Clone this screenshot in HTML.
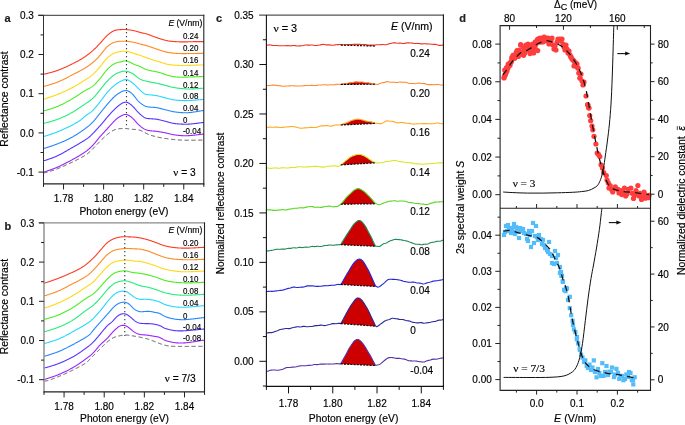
<!DOCTYPE html><html><head><meta charset="utf-8"><style>html,body{margin:0;padding:0;background:#fff;overflow:hidden;}svg{display:block;will-change:transform;}text{font-family:"Liberation Sans",sans-serif;stroke:#000;stroke-width:0.16px;}</style></head><body>
<svg width="685" height="425" viewBox="0 0 685 425">
<rect width="685" height="425" fill="#fff"/>
<path d="M43.50,74.20 L44.00,74.14 L44.50,74.06 L45.00,73.96 L45.50,73.85 L46.00,73.73 L46.50,73.60 L47.00,73.48 L47.50,73.35 L48.00,73.22 L48.50,73.09 L49.00,72.97 L49.50,72.84 L50.00,72.71 L50.50,72.58 L51.00,72.44 L51.50,72.31 L52.00,72.17 L52.50,72.04 L53.00,71.89 L53.50,71.75 L54.00,71.60 L54.50,71.45 L55.00,71.29 L55.50,71.13 L56.00,70.97 L56.50,70.80 L57.00,70.62 L57.50,70.45 L58.00,70.26 L58.50,70.08 L59.00,69.88 L59.50,69.69 L60.00,69.49 L60.50,69.29 L61.00,69.09 L61.50,68.88 L62.00,68.67 L62.50,68.46 L63.00,68.24 L63.50,68.03 L64.00,67.81 L64.50,67.59 L65.00,67.36 L65.50,67.14 L66.00,66.91 L66.50,66.68 L67.00,66.46 L67.50,66.23 L68.00,65.99 L68.50,65.76 L69.00,65.53 L69.50,65.30 L70.00,65.06 L70.50,64.83 L71.00,64.59 L71.50,64.35 L72.00,64.11 L72.50,63.87 L73.00,63.62 L73.50,63.37 L74.00,63.11 L74.50,62.85 L75.00,62.59 L75.50,62.33 L76.00,62.06 L76.50,61.79 L77.00,61.52 L77.50,61.24 L78.00,60.96 L78.50,60.68 L79.00,60.40 L79.50,60.11 L80.00,59.82 L80.50,59.53 L81.00,59.23 L81.50,58.93 L82.00,58.63 L82.50,58.32 L83.00,58.01 L83.50,57.69 L84.00,57.36 L84.50,57.03 L85.00,56.69 L85.50,56.34 L86.00,55.98 L86.50,55.62 L87.00,55.26 L87.50,54.89 L88.00,54.51 L88.50,54.13 L89.00,53.74 L89.50,53.34 L90.00,52.94 L90.50,52.53 L91.00,52.12 L91.50,51.69 L92.00,51.26 L92.50,50.83 L93.00,50.38 L93.50,49.92 L94.00,49.46 L94.50,48.99 L95.00,48.51 L95.50,48.02 L96.00,47.53 L96.50,47.03 L97.00,46.52 L97.50,46.01 L98.00,45.49 L98.50,44.97 L99.00,44.45 L99.50,43.92 L100.00,43.38 L100.50,42.84 L101.00,42.28 L101.50,41.72 L102.00,41.14 L102.50,40.56 L103.00,39.98 L103.50,39.39 L104.00,38.81 L104.50,38.24 L105.00,37.69 L105.50,37.14 L106.00,36.62 L106.50,36.12 L107.00,35.64 L107.50,35.18 L108.00,34.74 L108.50,34.32 L109.00,33.91 L109.50,33.51 L110.00,33.13 L110.50,32.77 L111.00,32.42 L111.50,32.09 L112.00,31.78 L112.50,31.49 L113.00,31.22 L113.50,30.97 L114.00,30.75 L114.50,30.55 L115.00,30.37 L115.50,30.22 L116.00,30.10 L116.50,30.00 L117.00,29.92 L117.50,29.85 L118.00,29.80 L118.50,29.76 L119.00,29.73 L119.50,29.70 L120.00,29.67 L120.50,29.64 L121.00,29.61 L121.50,29.58 L122.00,29.55 L122.50,29.53 L123.00,29.51 L123.50,29.50 L124.00,29.49 L124.50,29.49 L125.00,29.50 L125.50,29.52 L126.00,29.55 L126.50,29.58 L127.00,29.63 L127.50,29.68 L128.00,29.73 L128.50,29.79 L129.00,29.86 L129.50,29.93 L130.00,30.00 L130.50,30.08 L131.00,30.16 L131.50,30.25 L132.00,30.33 L132.50,30.42 L133.00,30.52 L133.50,30.62 L134.00,30.72 L134.50,30.82 L135.00,30.93 L135.50,31.05 L136.00,31.18 L136.50,31.31 L137.00,31.46 L137.50,31.61 L138.00,31.77 L138.50,31.93 L139.00,32.09 L139.50,32.24 L140.00,32.38 L140.50,32.51 L141.00,32.64 L141.50,32.76 L142.00,32.87 L142.50,32.98 L143.00,33.10 L143.50,33.21 L144.00,33.32 L144.50,33.43 L145.00,33.55 L145.50,33.68 L146.00,33.81 L146.50,33.95 L147.00,34.09 L147.50,34.25 L148.00,34.41 L148.50,34.58 L149.00,34.76 L149.50,34.94 L150.00,35.13 L150.50,35.32 L151.00,35.52 L151.50,35.71 L152.00,35.90 L152.50,36.10 L153.00,36.29 L153.50,36.47 L154.00,36.66 L154.50,36.84 L155.00,37.02 L155.50,37.20 L156.00,37.37 L156.50,37.55 L157.00,37.72 L157.50,37.89 L158.00,38.06 L158.50,38.23 L159.00,38.40 L159.50,38.56 L160.00,38.72 L160.50,38.88 L161.00,39.03 L161.50,39.18 L162.00,39.33 L162.50,39.48 L163.00,39.63 L163.50,39.77 L164.00,39.91 L164.50,40.04 L165.00,40.17 L165.50,40.30 L166.00,40.42 L166.50,40.54 L167.00,40.65 L167.50,40.75 L168.00,40.85 L168.50,40.93 L169.00,41.01 L169.50,41.09 L170.00,41.15 L170.50,41.21 L171.00,41.26 L171.50,41.31 L172.00,41.36 L172.50,41.40 L173.00,41.44 L173.50,41.47 L174.00,41.51 L174.50,41.55 L175.00,41.58 L175.50,41.61 L176.00,41.65 L176.50,41.68 L177.00,41.71 L177.50,41.74 L178.00,41.77 L178.50,41.79 L179.00,41.81 L179.50,41.83 L180.00,41.85 L180.50,41.87 L181.00,41.88 L181.50,41.89 L182.00,41.89 L182.50,41.89 L183.00,41.89 L183.50,41.89 L184.00,41.89 L184.50,41.88 L185.00,41.88 L185.50,41.87 L186.00,41.86 L186.50,41.85 L187.00,41.84 L187.50,41.83 L188.00,41.81 L188.50,41.80 L189.00,41.79 L189.50,41.77 L190.00,41.76 L190.50,41.74 L191.00,41.73 L191.50,41.72 L192.00,41.70 L192.50,41.69 L193.00,41.68 L193.50,41.66 L194.00,41.65 L194.50,41.64 L195.00,41.63 L195.50,41.62 L196.00,41.61 L196.50,41.60 L197.00,41.60 L197.50,41.59 L198.00,41.59 L198.50,41.59 L199.00,41.59 L199.50,41.59 L200.00,41.59 L200.50,41.59 L201.00,41.59 L201.50,41.59 L202.00,41.59 L202.50,41.60 L203.00,41.60 L203.50,41.60 L203.80,41.60" stroke="#ff3a22" stroke-width="1.10" fill="none" stroke-linejoin="round" />
<path d="M43.50,86.38 L44.00,86.31 L44.50,86.21 L45.00,86.10 L45.50,85.98 L46.00,85.84 L46.50,85.70 L47.00,85.55 L47.50,85.41 L48.00,85.26 L48.50,85.12 L49.00,84.97 L49.50,84.83 L50.00,84.68 L50.50,84.53 L51.00,84.38 L51.50,84.23 L52.00,84.07 L52.50,83.92 L53.00,83.76 L53.50,83.59 L54.00,83.43 L54.50,83.26 L55.00,83.08 L55.50,82.90 L56.00,82.71 L56.50,82.52 L57.00,82.33 L57.50,82.13 L58.00,81.92 L58.50,81.71 L59.00,81.50 L59.50,81.28 L60.00,81.06 L60.50,80.83 L61.00,80.60 L61.50,80.37 L62.00,80.13 L62.50,79.90 L63.00,79.65 L63.50,79.41 L64.00,79.17 L64.50,78.92 L65.00,78.67 L65.50,78.42 L66.00,78.17 L66.50,77.91 L67.00,77.66 L67.50,77.40 L68.00,77.15 L68.50,76.89 L69.00,76.63 L69.50,76.37 L70.00,76.12 L70.50,75.86 L71.00,75.60 L71.50,75.35 L72.00,75.09 L72.50,74.83 L73.00,74.58 L73.50,74.32 L74.00,74.06 L74.50,73.80 L75.00,73.54 L75.50,73.28 L76.00,73.02 L76.50,72.76 L77.00,72.49 L77.50,72.23 L78.00,71.96 L78.50,71.70 L79.00,71.43 L79.50,71.16 L80.00,70.88 L80.50,70.61 L81.00,70.33 L81.50,70.05 L82.00,69.77 L82.50,69.49 L83.00,69.20 L83.50,68.91 L84.00,68.62 L84.50,68.33 L85.00,68.03 L85.50,67.73 L86.00,67.42 L86.50,67.11 L87.00,66.79 L87.50,66.47 L88.00,66.14 L88.50,65.80 L89.00,65.46 L89.50,65.10 L90.00,64.74 L90.50,64.37 L91.00,63.99 L91.50,63.60 L92.00,63.20 L92.50,62.79 L93.00,62.37 L93.50,61.94 L94.00,61.50 L94.50,61.04 L95.00,60.57 L95.50,60.09 L96.00,59.60 L96.50,59.11 L97.00,58.60 L97.50,58.08 L98.00,57.56 L98.50,57.03 L99.00,56.49 L99.50,55.94 L100.00,55.37 L100.50,54.80 L101.00,54.20 L101.50,53.59 L102.00,52.96 L102.50,52.32 L103.00,51.68 L103.50,51.03 L104.00,50.39 L104.50,49.76 L105.00,49.15 L105.50,48.56 L106.00,48.00 L106.50,47.47 L107.00,46.97 L107.50,46.51 L108.00,46.07 L108.50,45.65 L109.00,45.26 L109.50,44.90 L110.00,44.55 L110.50,44.22 L111.00,43.91 L111.50,43.62 L112.00,43.35 L112.50,43.09 L113.00,42.85 L113.50,42.63 L114.00,42.42 L114.50,42.23 L115.00,42.07 L115.50,41.92 L116.00,41.79 L116.50,41.68 L117.00,41.59 L117.50,41.51 L118.00,41.44 L118.50,41.39 L119.00,41.34 L119.50,41.31 L120.00,41.27 L120.50,41.24 L121.00,41.22 L121.50,41.20 L122.00,41.18 L122.50,41.18 L123.00,41.18 L123.50,41.18 L124.00,41.19 L124.50,41.21 L125.00,41.24 L125.50,41.27 L126.00,41.30 L126.50,41.34 L127.00,41.38 L127.50,41.43 L128.00,41.48 L128.50,41.53 L129.00,41.58 L129.50,41.64 L130.00,41.70 L130.50,41.76 L131.00,41.83 L131.50,41.90 L132.00,41.98 L132.50,42.06 L133.00,42.15 L133.50,42.23 L134.00,42.33 L134.50,42.43 L135.00,42.53 L135.50,42.65 L136.00,42.78 L136.50,42.91 L137.00,43.06 L137.50,43.21 L138.00,43.37 L138.50,43.53 L139.00,43.68 L139.50,43.84 L140.00,43.98 L140.50,44.12 L141.00,44.25 L141.50,44.38 L142.00,44.50 L142.50,44.63 L143.00,44.75 L143.50,44.87 L144.00,44.99 L144.50,45.11 L145.00,45.24 L145.50,45.37 L146.00,45.50 L146.50,45.64 L147.00,45.78 L147.50,45.93 L148.00,46.09 L148.50,46.25 L149.00,46.42 L149.50,46.58 L150.00,46.76 L150.50,46.93 L151.00,47.11 L151.50,47.28 L152.00,47.46 L152.50,47.64 L153.00,47.81 L153.50,47.99 L154.00,48.16 L154.50,48.34 L155.00,48.51 L155.50,48.68 L156.00,48.86 L156.50,49.03 L157.00,49.20 L157.50,49.38 L158.00,49.55 L158.50,49.72 L159.00,49.89 L159.50,50.05 L160.00,50.21 L160.50,50.38 L161.00,50.53 L161.50,50.69 L162.00,50.84 L162.50,50.99 L163.00,51.15 L163.50,51.29 L164.00,51.44 L164.50,51.58 L165.00,51.72 L165.50,51.86 L166.00,51.99 L166.50,52.11 L167.00,52.23 L167.50,52.34 L168.00,52.44 L168.50,52.54 L169.00,52.63 L169.50,52.71 L170.00,52.78 L170.50,52.85 L171.00,52.91 L171.50,52.97 L172.00,53.02 L172.50,53.07 L173.00,53.11 L173.50,53.16 L174.00,53.20 L174.50,53.24 L175.00,53.27 L175.50,53.31 L176.00,53.35 L176.50,53.38 L177.00,53.41 L177.50,53.44 L178.00,53.47 L178.50,53.50 L179.00,53.52 L179.50,53.54 L180.00,53.55 L180.50,53.57 L181.00,53.58 L181.50,53.59 L182.00,53.59 L182.50,53.60 L183.00,53.60 L183.50,53.60 L184.00,53.60 L184.50,53.59 L185.00,53.59 L185.50,53.59 L186.00,53.58 L186.50,53.58 L187.00,53.57 L187.50,53.57 L188.00,53.56 L188.50,53.56 L189.00,53.55 L189.50,53.54 L190.00,53.54 L190.50,53.53 L191.00,53.52 L191.50,53.51 L192.00,53.51 L192.50,53.50 L193.00,53.49 L193.50,53.48 L194.00,53.47 L194.50,53.46 L195.00,53.45 L195.50,53.44 L196.00,53.43 L196.50,53.43 L197.00,53.42 L197.50,53.41 L198.00,53.40 L198.50,53.39 L199.00,53.38 L199.50,53.37 L200.00,53.36 L200.50,53.35 L201.00,53.34 L201.50,53.34 L202.00,53.33 L202.50,53.32 L203.00,53.32 L203.50,53.31 L203.80,53.31" stroke="#ff8a22" stroke-width="1.10" fill="none" stroke-linejoin="round" />
<path d="M43.50,99.05 L44.00,98.97 L44.50,98.87 L45.00,98.75 L45.50,98.61 L46.00,98.45 L46.50,98.29 L47.00,98.13 L47.50,97.96 L48.00,97.80 L48.50,97.64 L49.00,97.47 L49.50,97.31 L50.00,97.14 L50.50,96.97 L51.00,96.81 L51.50,96.64 L52.00,96.47 L52.50,96.30 L53.00,96.12 L53.50,95.95 L54.00,95.77 L54.50,95.59 L55.00,95.40 L55.50,95.21 L56.00,95.02 L56.50,94.83 L57.00,94.63 L57.50,94.43 L58.00,94.23 L58.50,94.03 L59.00,93.82 L59.50,93.62 L60.00,93.41 L60.50,93.20 L61.00,92.99 L61.50,92.77 L62.00,92.56 L62.50,92.34 L63.00,92.12 L63.50,91.90 L64.00,91.68 L64.50,91.45 L65.00,91.22 L65.50,90.99 L66.00,90.76 L66.50,90.53 L67.00,90.29 L67.50,90.05 L68.00,89.81 L68.50,89.56 L69.00,89.32 L69.50,89.07 L70.00,88.81 L70.50,88.56 L71.00,88.30 L71.50,88.04 L72.00,87.77 L72.50,87.50 L73.00,87.23 L73.50,86.96 L74.00,86.68 L74.50,86.40 L75.00,86.12 L75.50,85.83 L76.00,85.54 L76.50,85.25 L77.00,84.96 L77.50,84.67 L78.00,84.37 L78.50,84.07 L79.00,83.77 L79.50,83.47 L80.00,83.16 L80.50,82.86 L81.00,82.55 L81.50,82.24 L82.00,81.93 L82.50,81.62 L83.00,81.31 L83.50,81.00 L84.00,80.68 L84.50,80.37 L85.00,80.05 L85.50,79.74 L86.00,79.42 L86.50,79.10 L87.00,78.78 L87.50,78.46 L88.00,78.14 L88.50,77.81 L89.00,77.47 L89.50,77.12 L90.00,76.77 L90.50,76.40 L91.00,76.02 L91.50,75.63 L92.00,75.22 L92.50,74.80 L93.00,74.35 L93.50,73.89 L94.00,73.41 L94.50,72.91 L95.00,72.40 L95.50,71.86 L96.00,71.32 L96.50,70.76 L97.00,70.20 L97.50,69.63 L98.00,69.05 L98.50,68.47 L99.00,67.88 L99.50,67.29 L100.00,66.70 L100.50,66.10 L101.00,65.49 L101.50,64.86 L102.00,64.23 L102.50,63.60 L103.00,62.95 L103.50,62.31 L104.00,61.68 L104.50,61.06 L105.00,60.45 L105.50,59.87 L106.00,59.31 L106.50,58.77 L107.00,58.27 L107.50,57.79 L108.00,57.33 L108.50,56.90 L109.00,56.49 L109.50,56.10 L110.00,55.73 L110.50,55.37 L111.00,55.03 L111.50,54.71 L112.00,54.41 L112.50,54.12 L113.00,53.84 L113.50,53.58 L114.00,53.33 L114.50,53.10 L115.00,52.89 L115.50,52.70 L116.00,52.52 L116.50,52.36 L117.00,52.22 L117.50,52.08 L118.00,51.97 L118.50,51.86 L119.00,51.76 L119.50,51.67 L120.00,51.59 L120.50,51.51 L121.00,51.44 L121.50,51.38 L122.00,51.32 L122.50,51.28 L123.00,51.24 L123.50,51.22 L124.00,51.21 L124.50,51.21 L125.00,51.23 L125.50,51.26 L126.00,51.31 L126.50,51.37 L127.00,51.45 L127.50,51.55 L128.00,51.65 L128.50,51.77 L129.00,51.90 L129.50,52.03 L130.00,52.18 L130.50,52.33 L131.00,52.48 L131.50,52.64 L132.00,52.80 L132.50,52.97 L133.00,53.13 L133.50,53.29 L134.00,53.45 L134.50,53.61 L135.00,53.77 L135.50,53.92 L136.00,54.07 L136.50,54.22 L137.00,54.37 L137.50,54.52 L138.00,54.67 L138.50,54.83 L139.00,54.98 L139.50,55.14 L140.00,55.31 L140.50,55.48 L141.00,55.66 L141.50,55.84 L142.00,56.02 L142.50,56.20 L143.00,56.39 L143.50,56.57 L144.00,56.76 L144.50,56.94 L145.00,57.13 L145.50,57.31 L146.00,57.50 L146.50,57.68 L147.00,57.86 L147.50,58.04 L148.00,58.22 L148.50,58.39 L149.00,58.57 L149.50,58.75 L150.00,58.92 L150.50,59.09 L151.00,59.27 L151.50,59.44 L152.00,59.61 L152.50,59.77 L153.00,59.94 L153.50,60.10 L154.00,60.26 L154.50,60.42 L155.00,60.58 L155.50,60.73 L156.00,60.88 L156.50,61.03 L157.00,61.18 L157.50,61.32 L158.00,61.47 L158.50,61.61 L159.00,61.76 L159.50,61.90 L160.00,62.05 L160.50,62.20 L161.00,62.35 L161.50,62.50 L162.00,62.66 L162.50,62.82 L163.00,62.98 L163.50,63.14 L164.00,63.30 L164.50,63.46 L165.00,63.62 L165.50,63.78 L166.00,63.93 L166.50,64.07 L167.00,64.20 L167.50,64.32 L168.00,64.43 L168.50,64.53 L169.00,64.62 L169.50,64.70 L170.00,64.77 L170.50,64.83 L171.00,64.88 L171.50,64.93 L172.00,64.97 L172.50,65.01 L173.00,65.05 L173.50,65.08 L174.00,65.12 L174.50,65.15 L175.00,65.18 L175.50,65.21 L176.00,65.25 L176.50,65.28 L177.00,65.31 L177.50,65.34 L178.00,65.37 L178.50,65.40 L179.00,65.42 L179.50,65.44 L180.00,65.46 L180.50,65.47 L181.00,65.48 L181.50,65.49 L182.00,65.49 L182.50,65.49 L183.00,65.49 L183.50,65.48 L184.00,65.48 L184.50,65.47 L185.00,65.46 L185.50,65.45 L186.00,65.44 L186.50,65.43 L187.00,65.42 L187.50,65.41 L188.00,65.40 L188.50,65.38 L189.00,65.37 L189.50,65.36 L190.00,65.34 L190.50,65.33 L191.00,65.31 L191.50,65.30 L192.00,65.28 L192.50,65.27 L193.00,65.25 L193.50,65.23 L194.00,65.22 L194.50,65.20 L195.00,65.18 L195.50,65.17 L196.00,65.15 L196.50,65.13 L197.00,65.12 L197.50,65.10 L198.00,65.08 L198.50,65.07 L199.00,65.05 L199.50,65.03 L200.00,65.02 L200.50,65.00 L201.00,64.98 L201.50,64.97 L202.00,64.96 L202.50,64.94 L203.00,64.93 L203.50,64.92 L203.80,64.92" stroke="#ffd814" stroke-width="1.10" fill="none" stroke-linejoin="round" />
<path d="M43.50,110.87 L44.00,110.79 L44.50,110.70 L45.00,110.58 L45.50,110.45 L46.00,110.30 L46.50,110.16 L47.00,110.00 L47.50,109.85 L48.00,109.70 L48.50,109.55 L49.00,109.39 L49.50,109.24 L50.00,109.09 L50.50,108.93 L51.00,108.78 L51.50,108.62 L52.00,108.46 L52.50,108.29 L53.00,108.12 L53.50,107.95 L54.00,107.78 L54.50,107.60 L55.00,107.42 L55.50,107.23 L56.00,107.03 L56.50,106.83 L57.00,106.63 L57.50,106.42 L58.00,106.21 L58.50,105.99 L59.00,105.77 L59.50,105.55 L60.00,105.32 L60.50,105.09 L61.00,104.86 L61.50,104.62 L62.00,104.38 L62.50,104.14 L63.00,103.89 L63.50,103.64 L64.00,103.39 L64.50,103.14 L65.00,102.88 L65.50,102.62 L66.00,102.36 L66.50,102.09 L67.00,101.83 L67.50,101.56 L68.00,101.29 L68.50,101.01 L69.00,100.74 L69.50,100.46 L70.00,100.18 L70.50,99.89 L71.00,99.61 L71.50,99.32 L72.00,99.02 L72.50,98.73 L73.00,98.43 L73.50,98.12 L74.00,97.81 L74.50,97.50 L75.00,97.18 L75.50,96.86 L76.00,96.54 L76.50,96.21 L77.00,95.89 L77.50,95.56 L78.00,95.23 L78.50,94.90 L79.00,94.57 L79.50,94.24 L80.00,93.90 L80.50,93.57 L81.00,93.24 L81.50,92.91 L82.00,92.58 L82.50,92.26 L83.00,91.93 L83.50,91.61 L84.00,91.29 L84.50,90.97 L85.00,90.67 L85.50,90.36 L86.00,90.07 L86.50,89.79 L87.00,89.52 L87.50,89.25 L88.00,88.99 L88.50,88.73 L89.00,88.47 L89.50,88.21 L90.00,87.93 L90.50,87.65 L91.00,87.35 L91.50,87.03 L92.00,86.69 L92.50,86.33 L93.00,85.94 L93.50,85.52 L94.00,85.08 L94.50,84.62 L95.00,84.14 L95.50,83.64 L96.00,83.12 L96.50,82.59 L97.00,82.04 L97.50,81.49 L98.00,80.92 L98.50,80.35 L99.00,79.77 L99.50,79.18 L100.00,78.59 L100.50,77.98 L101.00,77.36 L101.50,76.73 L102.00,76.08 L102.50,75.42 L103.00,74.76 L103.50,74.09 L104.00,73.42 L104.50,72.77 L105.00,72.13 L105.50,71.50 L106.00,70.90 L106.50,70.32 L107.00,69.77 L107.50,69.23 L108.00,68.72 L108.50,68.23 L109.00,67.76 L109.50,67.30 L110.00,66.86 L110.50,66.44 L111.00,66.03 L111.50,65.64 L112.00,65.27 L112.50,64.91 L113.00,64.58 L113.50,64.26 L114.00,63.97 L114.50,63.70 L115.00,63.45 L115.50,63.23 L116.00,63.03 L116.50,62.85 L117.00,62.69 L117.50,62.54 L118.00,62.41 L118.50,62.29 L119.00,62.17 L119.50,62.06 L120.00,61.95 L120.50,61.84 L121.00,61.73 L121.50,61.62 L122.00,61.50 L122.50,61.38 L123.00,61.27 L123.50,61.16 L124.00,61.08 L124.50,61.01 L125.00,60.98 L125.50,60.98 L126.00,61.01 L126.50,61.09 L127.00,61.19 L127.50,61.33 L128.00,61.49 L128.50,61.68 L129.00,61.88 L129.50,62.09 L130.00,62.32 L130.50,62.56 L131.00,62.80 L131.50,63.05 L132.00,63.30 L132.50,63.55 L133.00,63.79 L133.50,64.03 L134.00,64.27 L134.50,64.49 L135.00,64.70 L135.50,64.89 L136.00,65.07 L136.50,65.23 L137.00,65.38 L137.50,65.53 L138.00,65.67 L138.50,65.82 L139.00,65.98 L139.50,66.17 L140.00,66.38 L140.50,66.61 L141.00,66.87 L141.50,67.15 L142.00,67.44 L142.50,67.73 L143.00,68.02 L143.50,68.29 L144.00,68.55 L144.50,68.78 L145.00,69.00 L145.50,69.20 L146.00,69.39 L146.50,69.57 L147.00,69.74 L147.50,69.90 L148.00,70.05 L148.50,70.20 L149.00,70.34 L149.50,70.47 L150.00,70.59 L150.50,70.70 L151.00,70.80 L151.50,70.89 L152.00,70.97 L152.50,71.05 L153.00,71.13 L153.50,71.21 L154.00,71.30 L154.50,71.40 L155.00,71.50 L155.50,71.60 L156.00,71.71 L156.50,71.82 L157.00,71.93 L157.50,72.05 L158.00,72.16 L158.50,72.28 L159.00,72.41 L159.50,72.54 L160.00,72.67 L160.50,72.81 L161.00,72.96 L161.50,73.11 L162.00,73.28 L162.50,73.45 L163.00,73.63 L163.50,73.81 L164.00,74.00 L164.50,74.19 L165.00,74.38 L165.50,74.57 L166.00,74.75 L166.50,74.93 L167.00,75.10 L167.50,75.27 L168.00,75.42 L168.50,75.56 L169.00,75.70 L169.50,75.83 L170.00,75.95 L170.50,76.06 L171.00,76.17 L171.50,76.28 L172.00,76.37 L172.50,76.47 L173.00,76.56 L173.50,76.64 L174.00,76.71 L174.50,76.78 L175.00,76.85 L175.50,76.91 L176.00,76.96 L176.50,77.01 L177.00,77.05 L177.50,77.09 L178.00,77.12 L178.50,77.14 L179.00,77.16 L179.50,77.18 L180.00,77.19 L180.50,77.20 L181.00,77.20 L181.50,77.20 L182.00,77.20 L182.50,77.19 L183.00,77.19 L183.50,77.18 L184.00,77.17 L184.50,77.16 L185.00,77.15 L185.50,77.14 L186.00,77.13 L186.50,77.11 L187.00,77.10 L187.50,77.09 L188.00,77.07 L188.50,77.06 L189.00,77.04 L189.50,77.03 L190.00,77.01 L190.50,76.99 L191.00,76.98 L191.50,76.96 L192.00,76.94 L192.50,76.92 L193.00,76.90 L193.50,76.88 L194.00,76.87 L194.50,76.85 L195.00,76.83 L195.50,76.81 L196.00,76.79 L196.50,76.77 L197.00,76.75 L197.50,76.73 L198.00,76.71 L198.50,76.69 L199.00,76.67 L199.50,76.65 L200.00,76.64 L200.50,76.62 L201.00,76.60 L201.50,76.58 L202.00,76.56 L202.50,76.55 L203.00,76.54 L203.50,76.53 L203.80,76.52" stroke="#4cee22" stroke-width="1.10" fill="none" stroke-linejoin="round" />
<path d="M43.50,123.29 L44.00,123.23 L44.50,123.14 L45.00,123.04 L45.50,122.92 L46.00,122.80 L46.50,122.66 L47.00,122.53 L47.50,122.39 L48.00,122.26 L48.50,122.13 L49.00,121.99 L49.50,121.86 L50.00,121.72 L50.50,121.59 L51.00,121.45 L51.50,121.31 L52.00,121.16 L52.50,121.02 L53.00,120.87 L53.50,120.72 L54.00,120.56 L54.50,120.40 L55.00,120.23 L55.50,120.06 L56.00,119.89 L56.50,119.71 L57.00,119.53 L57.50,119.34 L58.00,119.15 L58.50,118.95 L59.00,118.76 L59.50,118.55 L60.00,118.35 L60.50,118.14 L61.00,117.94 L61.50,117.72 L62.00,117.51 L62.50,117.29 L63.00,117.07 L63.50,116.85 L64.00,116.62 L64.50,116.39 L65.00,116.16 L65.50,115.92 L66.00,115.68 L66.50,115.44 L67.00,115.19 L67.50,114.95 L68.00,114.69 L68.50,114.44 L69.00,114.18 L69.50,113.91 L70.00,113.65 L70.50,113.38 L71.00,113.10 L71.50,112.82 L72.00,112.54 L72.50,112.25 L73.00,111.96 L73.50,111.66 L74.00,111.36 L74.50,111.05 L75.00,110.74 L75.50,110.43 L76.00,110.11 L76.50,109.79 L77.00,109.47 L77.50,109.14 L78.00,108.81 L78.50,108.48 L79.00,108.15 L79.50,107.81 L80.00,107.48 L80.50,107.14 L81.00,106.80 L81.50,106.46 L82.00,106.12 L82.50,105.78 L83.00,105.44 L83.50,105.10 L84.00,104.76 L84.50,104.42 L85.00,104.08 L85.50,103.74 L86.00,103.40 L86.50,103.07 L87.00,102.74 L87.50,102.40 L88.00,102.07 L88.50,101.73 L89.00,101.38 L89.50,101.02 L90.00,100.66 L90.50,100.28 L91.00,99.89 L91.50,99.48 L92.00,99.06 L92.50,98.61 L93.00,98.14 L93.50,97.65 L94.00,97.13 L94.50,96.59 L95.00,96.03 L95.50,95.46 L96.00,94.86 L96.50,94.26 L97.00,93.65 L97.50,93.03 L98.00,92.40 L98.50,91.78 L99.00,91.16 L99.50,90.54 L100.00,89.92 L100.50,89.31 L101.00,88.69 L101.50,88.07 L102.00,87.44 L102.50,86.82 L103.00,86.19 L103.50,85.56 L104.00,84.94 L104.50,84.33 L105.00,83.72 L105.50,83.13 L106.00,82.55 L106.50,81.99 L107.00,81.44 L107.50,80.91 L108.00,80.38 L108.50,79.87 L109.00,79.37 L109.50,78.88 L110.00,78.40 L110.50,77.94 L111.00,77.48 L111.50,77.04 L112.00,76.62 L112.50,76.21 L113.00,75.81 L113.50,75.44 L114.00,75.08 L114.50,74.75 L115.00,74.43 L115.50,74.13 L116.00,73.84 L116.50,73.58 L117.00,73.33 L117.50,73.10 L118.00,72.87 L118.50,72.67 L119.00,72.47 L119.50,72.28 L120.00,72.11 L120.50,71.94 L121.00,71.79 L121.50,71.64 L122.00,71.51 L122.50,71.40 L123.00,71.31 L123.50,71.24 L124.00,71.19 L124.50,71.16 L125.00,71.16 L125.50,71.18 L126.00,71.23 L126.50,71.30 L127.00,71.39 L127.50,71.50 L128.00,71.63 L128.50,71.78 L129.00,71.94 L129.50,72.12 L130.00,72.31 L130.50,72.53 L131.00,72.76 L131.50,73.00 L132.00,73.27 L132.50,73.56 L133.00,73.87 L133.50,74.20 L134.00,74.56 L134.50,74.94 L135.00,75.33 L135.50,75.73 L136.00,76.14 L136.50,76.55 L137.00,76.96 L137.50,77.36 L138.00,77.74 L138.50,78.10 L139.00,78.44 L139.50,78.75 L140.00,79.03 L140.50,79.29 L141.00,79.53 L141.50,79.74 L142.00,79.94 L142.50,80.11 L143.00,80.28 L143.50,80.43 L144.00,80.58 L144.50,80.71 L145.00,80.84 L145.50,80.96 L146.00,81.08 L146.50,81.20 L147.00,81.32 L147.50,81.43 L148.00,81.55 L148.50,81.66 L149.00,81.78 L149.50,81.89 L150.00,81.99 L150.50,82.09 L151.00,82.18 L151.50,82.28 L152.00,82.37 L152.50,82.46 L153.00,82.54 L153.50,82.63 L154.00,82.72 L154.50,82.81 L155.00,82.91 L155.50,83.00 L156.00,83.10 L156.50,83.21 L157.00,83.32 L157.50,83.43 L158.00,83.54 L158.50,83.66 L159.00,83.78 L159.50,83.90 L160.00,84.02 L160.50,84.14 L161.00,84.26 L161.50,84.39 L162.00,84.51 L162.50,84.64 L163.00,84.77 L163.50,84.90 L164.00,85.02 L164.50,85.15 L165.00,85.28 L165.50,85.42 L166.00,85.55 L166.50,85.69 L167.00,85.83 L167.50,85.97 L168.00,86.11 L168.50,86.25 L169.00,86.39 L169.50,86.53 L170.00,86.67 L170.50,86.80 L171.00,86.93 L171.50,87.05 L172.00,87.17 L172.50,87.28 L173.00,87.38 L173.50,87.48 L174.00,87.58 L174.50,87.66 L175.00,87.75 L175.50,87.82 L176.00,87.90 L176.50,87.97 L177.00,88.03 L177.50,88.10 L178.00,88.16 L178.50,88.22 L179.00,88.27 L179.50,88.33 L180.00,88.38 L180.50,88.43 L181.00,88.48 L181.50,88.53 L182.00,88.58 L182.50,88.62 L183.00,88.67 L183.50,88.71 L184.00,88.76 L184.50,88.80 L185.00,88.83 L185.50,88.87 L186.00,88.90 L186.50,88.93 L187.00,88.95 L187.50,88.97 L188.00,88.98 L188.50,88.99 L189.00,88.99 L189.50,88.99 L190.00,88.98 L190.50,88.97 L191.00,88.96 L191.50,88.94 L192.00,88.92 L192.50,88.90 L193.00,88.88 L193.50,88.86 L194.00,88.83 L194.50,88.80 L195.00,88.77 L195.50,88.74 L196.00,88.71 L196.50,88.68 L197.00,88.65 L197.50,88.61 L198.00,88.58 L198.50,88.55 L199.00,88.51 L199.50,88.48 L200.00,88.44 L200.50,88.41 L201.00,88.38 L201.50,88.34 L202.00,88.31 L202.50,88.29 L203.00,88.27 L203.50,88.25 L203.80,88.23" stroke="#22ee7a" stroke-width="1.10" fill="none" stroke-linejoin="round" />
<path d="M43.50,136.45 L44.00,136.37 L44.50,136.27 L45.00,136.15 L45.50,136.01 L46.00,135.85 L46.50,135.69 L47.00,135.53 L47.50,135.36 L48.00,135.20 L48.50,135.04 L49.00,134.87 L49.50,134.71 L50.00,134.54 L50.50,134.37 L51.00,134.21 L51.50,134.04 L52.00,133.87 L52.50,133.70 L53.00,133.52 L53.50,133.35 L54.00,133.17 L54.50,132.99 L55.00,132.80 L55.50,132.61 L56.00,132.42 L56.50,132.23 L57.00,132.03 L57.50,131.83 L58.00,131.63 L58.50,131.43 L59.00,131.22 L59.50,131.01 L60.00,130.80 L60.50,130.58 L61.00,130.37 L61.50,130.15 L62.00,129.93 L62.50,129.71 L63.00,129.49 L63.50,129.27 L64.00,129.04 L64.50,128.81 L65.00,128.58 L65.50,128.35 L66.00,128.12 L66.50,127.88 L67.00,127.64 L67.50,127.41 L68.00,127.17 L68.50,126.93 L69.00,126.68 L69.50,126.44 L70.00,126.19 L70.50,125.94 L71.00,125.70 L71.50,125.44 L72.00,125.19 L72.50,124.93 L73.00,124.67 L73.50,124.41 L74.00,124.14 L74.50,123.86 L75.00,123.59 L75.50,123.30 L76.00,123.01 L76.50,122.72 L77.00,122.42 L77.50,122.11 L78.00,121.80 L78.50,121.48 L79.00,121.15 L79.50,120.81 L80.00,120.45 L80.50,120.08 L81.00,119.70 L81.50,119.30 L82.00,118.89 L82.50,118.47 L83.00,118.04 L83.50,117.61 L84.00,117.18 L84.50,116.76 L85.00,116.34 L85.50,115.93 L86.00,115.54 L86.50,115.16 L87.00,114.79 L87.50,114.43 L88.00,114.08 L88.50,113.74 L89.00,113.39 L89.50,113.05 L90.00,112.70 L90.50,112.34 L91.00,111.96 L91.50,111.56 L92.00,111.14 L92.50,110.70 L93.00,110.23 L93.50,109.74 L94.00,109.22 L94.50,108.68 L95.00,108.12 L95.50,107.54 L96.00,106.95 L96.50,106.34 L97.00,105.72 L97.50,105.10 L98.00,104.47 L98.50,103.83 L99.00,103.20 L99.50,102.56 L100.00,101.92 L100.50,101.27 L101.00,100.62 L101.50,99.96 L102.00,99.29 L102.50,98.61 L103.00,97.93 L103.50,97.26 L104.00,96.58 L104.50,95.91 L105.00,95.25 L105.50,94.61 L106.00,93.97 L106.50,93.36 L107.00,92.76 L107.50,92.17 L108.00,91.60 L108.50,91.05 L109.00,90.50 L109.50,89.97 L110.00,89.44 L110.50,88.93 L111.00,88.43 L111.50,87.95 L112.00,87.47 L112.50,87.01 L113.00,86.56 L113.50,86.12 L114.00,85.70 L114.50,85.29 L115.00,84.89 L115.50,84.50 L116.00,84.13 L116.50,83.77 L117.00,83.43 L117.50,83.10 L118.00,82.78 L118.50,82.47 L119.00,82.17 L119.50,81.89 L120.00,81.62 L120.50,81.36 L121.00,81.11 L121.50,80.88 L122.00,80.65 L122.50,80.43 L123.00,80.23 L123.50,80.04 L124.00,79.88 L124.50,79.75 L125.00,79.66 L125.50,79.61 L126.00,79.61 L126.50,79.65 L127.00,79.74 L127.50,79.87 L128.00,80.05 L128.50,80.27 L129.00,80.52 L129.50,80.80 L130.00,81.10 L130.50,81.43 L131.00,81.78 L131.50,82.14 L132.00,82.52 L132.50,82.91 L133.00,83.31 L133.50,83.72 L134.00,84.15 L134.50,84.59 L135.00,85.05 L135.50,85.54 L136.00,86.05 L136.50,86.57 L137.00,87.10 L137.50,87.63 L138.00,88.16 L138.50,88.68 L139.00,89.18 L139.50,89.67 L140.00,90.15 L140.50,90.61 L141.00,91.06 L141.50,91.50 L142.00,91.93 L142.50,92.33 L143.00,92.72 L143.50,93.08 L144.00,93.40 L144.50,93.69 L145.00,93.94 L145.50,94.14 L146.00,94.30 L146.50,94.43 L147.00,94.52 L147.50,94.59 L148.00,94.64 L148.50,94.69 L149.00,94.73 L149.50,94.77 L150.00,94.82 L150.50,94.88 L151.00,94.93 L151.50,94.98 L152.00,95.03 L152.50,95.08 L153.00,95.14 L153.50,95.19 L154.00,95.25 L154.50,95.31 L155.00,95.37 L155.50,95.45 L156.00,95.53 L156.50,95.62 L157.00,95.72 L157.50,95.83 L158.00,95.94 L158.50,96.06 L159.00,96.18 L159.50,96.31 L160.00,96.44 L160.50,96.57 L161.00,96.71 L161.50,96.84 L162.00,96.98 L162.50,97.12 L163.00,97.25 L163.50,97.38 L164.00,97.52 L164.50,97.65 L165.00,97.78 L165.50,97.91 L166.00,98.04 L166.50,98.17 L167.00,98.30 L167.50,98.43 L168.00,98.56 L168.50,98.69 L169.00,98.81 L169.50,98.94 L170.00,99.06 L170.50,99.18 L171.00,99.29 L171.50,99.40 L172.00,99.50 L172.50,99.60 L173.00,99.68 L173.50,99.77 L174.00,99.85 L174.50,99.92 L175.00,99.98 L175.50,100.05 L176.00,100.10 L176.50,100.16 L177.00,100.21 L177.50,100.25 L178.00,100.29 L178.50,100.33 L179.00,100.37 L179.50,100.40 L180.00,100.43 L180.50,100.46 L181.00,100.48 L181.50,100.51 L182.00,100.53 L182.50,100.55 L183.00,100.56 L183.50,100.57 L184.00,100.58 L184.50,100.59 L185.00,100.59 L185.50,100.59 L186.00,100.59 L186.50,100.58 L187.00,100.58 L187.50,100.56 L188.00,100.55 L188.50,100.53 L189.00,100.51 L189.50,100.49 L190.00,100.46 L190.50,100.44 L191.00,100.41 L191.50,100.38 L192.00,100.35 L192.50,100.31 L193.00,100.28 L193.50,100.24 L194.00,100.21 L194.50,100.17 L195.00,100.13 L195.50,100.09 L196.00,100.05 L196.50,100.01 L197.00,99.97 L197.50,99.92 L198.00,99.88 L198.50,99.84 L199.00,99.80 L199.50,99.75 L200.00,99.71 L200.50,99.67 L201.00,99.63 L201.50,99.59 L202.00,99.55 L202.50,99.51 L203.00,99.49 L203.50,99.46 L203.80,99.45" stroke="#22d8ff" stroke-width="1.10" fill="none" stroke-linejoin="round" />
<path d="M43.50,148.45 L44.00,148.37 L44.50,148.27 L45.00,148.15 L45.50,148.01 L46.00,147.85 L46.50,147.69 L47.00,147.53 L47.50,147.36 L48.00,147.20 L48.50,147.03 L49.00,146.87 L49.50,146.70 L50.00,146.54 L50.50,146.37 L51.00,146.20 L51.50,146.03 L52.00,145.86 L52.50,145.69 L53.00,145.52 L53.50,145.34 L54.00,145.16 L54.50,144.98 L55.00,144.80 L55.50,144.61 L56.00,144.42 L56.50,144.23 L57.00,144.03 L57.50,143.84 L58.00,143.64 L58.50,143.44 L59.00,143.24 L59.50,143.04 L60.00,142.84 L60.50,142.64 L61.00,142.43 L61.50,142.23 L62.00,142.02 L62.50,141.81 L63.00,141.60 L63.50,141.39 L64.00,141.17 L64.50,140.96 L65.00,140.74 L65.50,140.51 L66.00,140.28 L66.50,140.05 L67.00,139.82 L67.50,139.58 L68.00,139.34 L68.50,139.10 L69.00,138.84 L69.50,138.59 L70.00,138.33 L70.50,138.07 L71.00,137.80 L71.50,137.52 L72.00,137.25 L72.50,136.96 L73.00,136.68 L73.50,136.38 L74.00,136.09 L74.50,135.79 L75.00,135.49 L75.50,135.18 L76.00,134.87 L76.50,134.56 L77.00,134.24 L77.50,133.92 L78.00,133.59 L78.50,133.27 L79.00,132.94 L79.50,132.61 L80.00,132.27 L80.50,131.93 L81.00,131.59 L81.50,131.25 L82.00,130.90 L82.50,130.55 L83.00,130.20 L83.50,129.85 L84.00,129.50 L84.50,129.14 L85.00,128.78 L85.50,128.42 L86.00,128.05 L86.50,127.68 L87.00,127.30 L87.50,126.91 L88.00,126.52 L88.50,126.12 L89.00,125.70 L89.50,125.28 L90.00,124.85 L90.50,124.40 L91.00,123.94 L91.50,123.47 L92.00,122.98 L92.50,122.47 L93.00,121.95 L93.50,121.41 L94.00,120.84 L94.50,120.26 L95.00,119.66 L95.50,119.04 L96.00,118.41 L96.50,117.76 L97.00,117.12 L97.50,116.46 L98.00,115.81 L98.50,115.16 L99.00,114.51 L99.50,113.87 L100.00,113.24 L100.50,112.61 L101.00,111.99 L101.50,111.37 L102.00,110.75 L102.50,110.14 L103.00,109.52 L103.50,108.91 L104.00,108.30 L104.50,107.69 L105.00,107.09 L105.50,106.49 L106.00,105.90 L106.50,105.31 L107.00,104.72 L107.50,104.13 L108.00,103.55 L108.50,102.97 L109.00,102.39 L109.50,101.81 L110.00,101.23 L110.50,100.66 L111.00,100.10 L111.50,99.55 L112.00,99.02 L112.50,98.49 L113.00,97.99 L113.50,97.50 L114.00,97.03 L114.50,96.57 L115.00,96.13 L115.50,95.71 L116.00,95.30 L116.50,94.91 L117.00,94.53 L117.50,94.17 L118.00,93.82 L118.50,93.49 L119.00,93.17 L119.50,92.86 L120.00,92.57 L120.50,92.29 L121.00,92.03 L121.50,91.78 L122.00,91.55 L122.50,91.33 L123.00,91.13 L123.50,90.95 L124.00,90.80 L124.50,90.68 L125.00,90.59 L125.50,90.53 L126.00,90.52 L126.50,90.55 L127.00,90.63 L127.50,90.76 L128.00,90.92 L128.50,91.14 L129.00,91.39 L129.50,91.68 L130.00,92.00 L130.50,92.36 L131.00,92.75 L131.50,93.16 L132.00,93.61 L132.50,94.10 L133.00,94.62 L133.50,95.18 L134.00,95.78 L134.50,96.41 L135.00,97.07 L135.50,97.73 L136.00,98.39 L136.50,99.04 L137.00,99.66 L137.50,100.25 L138.00,100.80 L138.50,101.31 L139.00,101.79 L139.50,102.25 L140.00,102.68 L140.50,103.09 L141.00,103.48 L141.50,103.85 L142.00,104.21 L142.50,104.55 L143.00,104.88 L143.50,105.18 L144.00,105.47 L144.50,105.74 L145.00,105.98 L145.50,106.19 L146.00,106.37 L146.50,106.53 L147.00,106.66 L147.50,106.76 L148.00,106.85 L148.50,106.92 L149.00,106.99 L149.50,107.05 L150.00,107.10 L150.50,107.15 L151.00,107.20 L151.50,107.23 L152.00,107.27 L152.50,107.29 L153.00,107.32 L153.50,107.34 L154.00,107.37 L154.50,107.40 L155.00,107.44 L155.50,107.49 L156.00,107.56 L156.50,107.63 L157.00,107.71 L157.50,107.81 L158.00,107.91 L158.50,108.02 L159.00,108.13 L159.50,108.25 L160.00,108.38 L160.50,108.50 L161.00,108.63 L161.50,108.77 L162.00,108.90 L162.50,109.03 L163.00,109.16 L163.50,109.29 L164.00,109.42 L164.50,109.55 L165.00,109.67 L165.50,109.80 L166.00,109.93 L166.50,110.06 L167.00,110.18 L167.50,110.31 L168.00,110.44 L168.50,110.57 L169.00,110.70 L169.50,110.82 L170.00,110.94 L170.50,111.06 L171.00,111.18 L171.50,111.29 L172.00,111.39 L172.50,111.49 L173.00,111.59 L173.50,111.68 L174.00,111.77 L174.50,111.85 L175.00,111.93 L175.50,112.00 L176.00,112.07 L176.50,112.14 L177.00,112.20 L177.50,112.26 L178.00,112.32 L178.50,112.37 L179.00,112.42 L179.50,112.47 L180.00,112.51 L180.50,112.55 L181.00,112.58 L181.50,112.61 L182.00,112.64 L182.50,112.67 L183.00,112.69 L183.50,112.71 L184.00,112.73 L184.50,112.74 L185.00,112.75 L185.50,112.75 L186.00,112.75 L186.50,112.74 L187.00,112.73 L187.50,112.71 L188.00,112.69 L188.50,112.66 L189.00,112.62 L189.50,112.58 L190.00,112.53 L190.50,112.48 L191.00,112.42 L191.50,112.36 L192.00,112.29 L192.50,112.23 L193.00,112.16 L193.50,112.08 L194.00,112.01 L194.50,111.93 L195.00,111.86 L195.50,111.78 L196.00,111.70 L196.50,111.61 L197.00,111.53 L197.50,111.45 L198.00,111.36 L198.50,111.28 L199.00,111.19 L199.50,111.11 L200.00,111.02 L200.50,110.94 L201.00,110.85 L201.50,110.77 L202.00,110.70 L202.50,110.63 L203.00,110.57 L203.50,110.53 L203.80,110.49" stroke="#2288ff" stroke-width="1.10" fill="none" stroke-linejoin="round" />
<path d="M43.50,160.74 L44.00,160.66 L44.50,160.55 L45.00,160.42 L45.50,160.28 L46.00,160.12 L46.50,159.95 L47.00,159.78 L47.50,159.61 L48.00,159.44 L48.50,159.27 L49.00,159.10 L49.50,158.93 L50.00,158.76 L50.50,158.59 L51.00,158.41 L51.50,158.24 L52.00,158.06 L52.50,157.87 L53.00,157.69 L53.50,157.50 L54.00,157.30 L54.50,157.10 L55.00,156.90 L55.50,156.69 L56.00,156.48 L56.50,156.26 L57.00,156.03 L57.50,155.80 L58.00,155.56 L58.50,155.32 L59.00,155.07 L59.50,154.82 L60.00,154.56 L60.50,154.30 L61.00,154.03 L61.50,153.77 L62.00,153.49 L62.50,153.22 L63.00,152.94 L63.50,152.66 L64.00,152.38 L64.50,152.09 L65.00,151.80 L65.50,151.51 L66.00,151.22 L66.50,150.93 L67.00,150.64 L67.50,150.35 L68.00,150.06 L68.50,149.77 L69.00,149.48 L69.50,149.18 L70.00,148.89 L70.50,148.61 L71.00,148.32 L71.50,148.03 L72.00,147.74 L72.50,147.46 L73.00,147.17 L73.50,146.88 L74.00,146.59 L74.50,146.31 L75.00,146.02 L75.50,145.73 L76.00,145.44 L76.50,145.15 L77.00,144.86 L77.50,144.56 L78.00,144.27 L78.50,143.98 L79.00,143.68 L79.50,143.39 L80.00,143.09 L80.50,142.79 L81.00,142.49 L81.50,142.19 L82.00,141.89 L82.50,141.59 L83.00,141.28 L83.50,140.98 L84.00,140.67 L84.50,140.36 L85.00,140.04 L85.50,139.72 L86.00,139.40 L86.50,139.07 L87.00,138.72 L87.50,138.37 L88.00,138.00 L88.50,137.62 L89.00,137.21 L89.50,136.79 L90.00,136.35 L90.50,135.90 L91.00,135.42 L91.50,134.94 L92.00,134.43 L92.50,133.92 L93.00,133.40 L93.50,132.87 L94.00,132.34 L94.50,131.81 L95.00,131.27 L95.50,130.73 L96.00,130.19 L96.50,129.66 L97.00,129.12 L97.50,128.58 L98.00,128.03 L98.50,127.49 L99.00,126.94 L99.50,126.39 L100.00,125.83 L100.50,125.27 L101.00,124.70 L101.50,124.13 L102.00,123.55 L102.50,122.96 L103.00,122.36 L103.50,121.76 L104.00,121.15 L104.50,120.54 L105.00,119.93 L105.50,119.32 L106.00,118.72 L106.50,118.12 L107.00,117.52 L107.50,116.93 L108.00,116.35 L108.50,115.77 L109.00,115.20 L109.50,114.63 L110.00,114.07 L110.50,113.51 L111.00,112.96 L111.50,112.41 L112.00,111.88 L112.50,111.35 L113.00,110.83 L113.50,110.32 L114.00,109.82 L114.50,109.33 L115.00,108.85 L115.50,108.38 L116.00,107.91 L116.50,107.46 L117.00,107.01 L117.50,106.58 L118.00,106.15 L118.50,105.74 L119.00,105.35 L119.50,104.96 L120.00,104.60 L120.50,104.25 L121.00,103.93 L121.50,103.62 L122.00,103.34 L122.50,103.09 L123.00,102.86 L123.50,102.66 L124.00,102.48 L124.50,102.34 L125.00,102.24 L125.50,102.18 L126.00,102.19 L126.50,102.25 L127.00,102.37 L127.50,102.55 L128.00,102.77 L128.50,103.04 L129.00,103.33 L129.50,103.65 L130.00,104.00 L130.50,104.37 L131.00,104.76 L131.50,105.17 L132.00,105.61 L132.50,106.07 L133.00,106.56 L133.50,107.07 L134.00,107.61 L134.50,108.18 L135.00,108.76 L135.50,109.35 L136.00,109.93 L136.50,110.51 L137.00,111.08 L137.50,111.62 L138.00,112.15 L138.50,112.65 L139.00,113.13 L139.50,113.60 L140.00,114.06 L140.50,114.51 L141.00,114.95 L141.50,115.37 L142.00,115.78 L142.50,116.17 L143.00,116.53 L143.50,116.88 L144.00,117.20 L144.50,117.50 L145.00,117.75 L145.50,117.97 L146.00,118.15 L146.50,118.29 L147.00,118.40 L147.50,118.48 L148.00,118.54 L148.50,118.59 L149.00,118.63 L149.50,118.67 L150.00,118.71 L150.50,118.75 L151.00,118.79 L151.50,118.82 L152.00,118.85 L152.50,118.88 L153.00,118.91 L153.50,118.94 L154.00,118.97 L154.50,119.00 L155.00,119.04 L155.50,119.09 L156.00,119.15 L156.50,119.22 L157.00,119.30 L157.50,119.39 L158.00,119.49 L158.50,119.59 L159.00,119.70 L159.50,119.81 L160.00,119.92 L160.50,120.04 L161.00,120.17 L161.50,120.29 L162.00,120.41 L162.50,120.54 L163.00,120.67 L163.50,120.80 L164.00,120.92 L164.50,121.05 L165.00,121.18 L165.50,121.32 L166.00,121.45 L166.50,121.59 L167.00,121.73 L167.50,121.88 L168.00,122.02 L168.50,122.16 L169.00,122.31 L169.50,122.45 L170.00,122.58 L170.50,122.72 L171.00,122.84 L171.50,122.96 L172.00,123.08 L172.50,123.18 L173.00,123.28 L173.50,123.37 L174.00,123.45 L174.50,123.53 L175.00,123.60 L175.50,123.66 L176.00,123.72 L176.50,123.77 L177.00,123.82 L177.50,123.86 L178.00,123.90 L178.50,123.94 L179.00,123.97 L179.50,124.00 L180.00,124.03 L180.50,124.06 L181.00,124.09 L181.50,124.11 L182.00,124.13 L182.50,124.15 L183.00,124.17 L183.50,124.19 L184.00,124.20 L184.50,124.21 L185.00,124.22 L185.50,124.22 L186.00,124.22 L186.50,124.21 L187.00,124.20 L187.50,124.19 L188.00,124.17 L188.50,124.15 L189.00,124.12 L189.50,124.08 L190.00,124.04 L190.50,124.00 L191.00,123.96 L191.50,123.91 L192.00,123.86 L192.50,123.81 L193.00,123.76 L193.50,123.70 L194.00,123.64 L194.50,123.59 L195.00,123.53 L195.50,123.46 L196.00,123.40 L196.50,123.34 L197.00,123.27 L197.50,123.21 L198.00,123.14 L198.50,123.08 L199.00,123.01 L199.50,122.95 L200.00,122.88 L200.50,122.82 L201.00,122.75 L201.50,122.69 L202.00,122.63 L202.50,122.58 L203.00,122.53 L203.50,122.50 L203.80,122.47" stroke="#5533ff" stroke-width="1.10" fill="none" stroke-linejoin="round" />
<path d="M43.50,172.04 L44.00,171.95 L44.50,171.85 L45.00,171.72 L45.50,171.57 L46.00,171.40 L46.50,171.23 L47.00,171.06 L47.50,170.88 L48.00,170.71 L48.50,170.54 L49.00,170.36 L49.50,170.19 L50.00,170.01 L50.50,169.84 L51.00,169.66 L51.50,169.48 L52.00,169.30 L52.50,169.12 L53.00,168.93 L53.50,168.74 L54.00,168.55 L54.50,168.36 L55.00,168.16 L55.50,167.96 L56.00,167.76 L56.50,167.55 L57.00,167.33 L57.50,167.12 L58.00,166.90 L58.50,166.68 L59.00,166.45 L59.50,166.22 L60.00,165.99 L60.50,165.76 L61.00,165.53 L61.50,165.29 L62.00,165.05 L62.50,164.81 L63.00,164.57 L63.50,164.32 L64.00,164.07 L64.50,163.82 L65.00,163.57 L65.50,163.32 L66.00,163.06 L66.50,162.80 L67.00,162.54 L67.50,162.28 L68.00,162.02 L68.50,161.75 L69.00,161.49 L69.50,161.22 L70.00,160.95 L70.50,160.68 L71.00,160.41 L71.50,160.13 L72.00,159.86 L72.50,159.59 L73.00,159.31 L73.50,159.03 L74.00,158.76 L74.50,158.48 L75.00,158.20 L75.50,157.92 L76.00,157.64 L76.50,157.35 L77.00,157.06 L77.50,156.78 L78.00,156.49 L78.50,156.19 L79.00,155.90 L79.50,155.60 L80.00,155.29 L80.50,154.99 L81.00,154.68 L81.50,154.37 L82.00,154.05 L82.50,153.73 L83.00,153.41 L83.50,153.08 L84.00,152.74 L84.50,152.41 L85.00,152.06 L85.50,151.71 L86.00,151.34 L86.50,150.97 L87.00,150.58 L87.50,150.18 L88.00,149.77 L88.50,149.35 L89.00,148.92 L89.50,148.47 L90.00,148.01 L90.50,147.55 L91.00,147.07 L91.50,146.59 L92.00,146.09 L92.50,145.58 L93.00,145.06 L93.50,144.52 L94.00,143.97 L94.50,143.39 L95.00,142.80 L95.50,142.20 L96.00,141.59 L96.50,140.97 L97.00,140.34 L97.50,139.72 L98.00,139.11 L98.50,138.50 L99.00,137.90 L99.50,137.31 L100.00,136.73 L100.50,136.17 L101.00,135.61 L101.50,135.05 L102.00,134.50 L102.50,133.95 L103.00,133.41 L103.50,132.86 L104.00,132.32 L104.50,131.77 L105.00,131.22 L105.50,130.67 L106.00,130.12 L106.50,129.57 L107.00,129.01 L107.50,128.46 L108.00,127.90 L108.50,127.35 L109.00,126.79 L109.50,126.25 L110.00,125.70 L110.50,125.16 L111.00,124.62 L111.50,124.08 L112.00,123.54 L112.50,123.00 L113.00,122.46 L113.50,121.92 L114.00,121.39 L114.50,120.88 L115.00,120.37 L115.50,119.89 L116.00,119.42 L116.50,118.98 L117.00,118.56 L117.50,118.16 L118.00,117.78 L118.50,117.43 L119.00,117.09 L119.50,116.77 L120.00,116.47 L120.50,116.19 L121.00,115.92 L121.50,115.67 L122.00,115.43 L122.50,115.21 L123.00,115.01 L123.50,114.83 L124.00,114.68 L124.50,114.57 L125.00,114.49 L125.50,114.47 L126.00,114.49 L126.50,114.57 L127.00,114.69 L127.50,114.86 L128.00,115.06 L128.50,115.30 L129.00,115.56 L129.50,115.85 L130.00,116.16 L130.50,116.49 L131.00,116.85 L131.50,117.23 L132.00,117.64 L132.50,118.08 L133.00,118.56 L133.50,119.06 L134.00,119.60 L134.50,120.17 L135.00,120.75 L135.50,121.34 L136.00,121.94 L136.50,122.52 L137.00,123.08 L137.50,123.62 L138.00,124.13 L138.50,124.62 L139.00,125.08 L139.50,125.53 L140.00,125.95 L140.50,126.37 L141.00,126.76 L141.50,127.15 L142.00,127.52 L142.50,127.87 L143.00,128.21 L143.50,128.54 L144.00,128.84 L144.50,129.12 L145.00,129.38 L145.50,129.61 L146.00,129.82 L146.50,129.99 L147.00,130.14 L147.50,130.26 L148.00,130.37 L148.50,130.47 L149.00,130.55 L149.50,130.63 L150.00,130.70 L150.50,130.77 L151.00,130.83 L151.50,130.88 L152.00,130.93 L152.50,130.97 L153.00,131.01 L153.50,131.04 L154.00,131.08 L154.50,131.12 L155.00,131.16 L155.50,131.20 L156.00,131.26 L156.50,131.31 L157.00,131.38 L157.50,131.45 L158.00,131.52 L158.50,131.60 L159.00,131.67 L159.50,131.75 L160.00,131.84 L160.50,131.92 L161.00,132.01 L161.50,132.10 L162.00,132.19 L162.50,132.28 L163.00,132.37 L163.50,132.47 L164.00,132.57 L164.50,132.67 L165.00,132.77 L165.50,132.88 L166.00,132.99 L166.50,133.10 L167.00,133.22 L167.50,133.34 L168.00,133.46 L168.50,133.59 L169.00,133.71 L169.50,133.83 L170.00,133.95 L170.50,134.07 L171.00,134.18 L171.50,134.29 L172.00,134.40 L172.50,134.49 L173.00,134.59 L173.50,134.68 L174.00,134.76 L174.50,134.84 L175.00,134.92 L175.50,134.99 L176.00,135.07 L176.50,135.13 L177.00,135.20 L177.50,135.26 L178.00,135.31 L178.50,135.37 L179.00,135.42 L179.50,135.46 L180.00,135.51 L180.50,135.54 L181.00,135.58 L181.50,135.61 L182.00,135.64 L182.50,135.66 L183.00,135.68 L183.50,135.70 L184.00,135.71 L184.50,135.72 L185.00,135.72 L185.50,135.73 L186.00,135.72 L186.50,135.72 L187.00,135.70 L187.50,135.69 L188.00,135.67 L188.50,135.65 L189.00,135.62 L189.50,135.58 L190.00,135.55 L190.50,135.51 L191.00,135.47 L191.50,135.42 L192.00,135.38 L192.50,135.33 L193.00,135.28 L193.50,135.23 L194.00,135.17 L194.50,135.12 L195.00,135.06 L195.50,135.00 L196.00,134.94 L196.50,134.88 L197.00,134.82 L197.50,134.76 L198.00,134.70 L198.50,134.64 L199.00,134.58 L199.50,134.51 L200.00,134.45 L200.50,134.39 L201.00,134.33 L201.50,134.27 L202.00,134.22 L202.50,134.17 L203.00,134.13 L203.50,134.09 L203.80,134.07" stroke="#9a22ff" stroke-width="1.10" fill="none" stroke-linejoin="round" />
<path d="M43.50,172.98 L44.00,172.91 L44.50,172.82 L45.00,172.71 L45.50,172.58 L46.00,172.44 L46.50,172.30 L47.00,172.15 L47.50,172.00 L48.00,171.85 L48.50,171.71 L49.00,171.56 L49.50,171.41 L50.00,171.26 L50.50,171.11 L51.00,170.95 L51.50,170.80 L52.00,170.64 L52.50,170.48 L53.00,170.32 L53.50,170.16 L54.00,169.99 L54.50,169.82 L55.00,169.64 L55.50,169.46 L56.00,169.28 L56.50,169.09 L57.00,168.90 L57.50,168.71 L58.00,168.51 L58.50,168.31 L59.00,168.11 L59.50,167.90 L60.00,167.69 L60.50,167.48 L61.00,167.26 L61.50,167.04 L62.00,166.83 L62.50,166.61 L63.00,166.38 L63.50,166.16 L64.00,165.94 L64.50,165.71 L65.00,165.49 L65.50,165.26 L66.00,165.04 L66.50,164.81 L67.00,164.58 L67.50,164.36 L68.00,164.13 L68.50,163.90 L69.00,163.68 L69.50,163.45 L70.00,163.22 L70.50,162.99 L71.00,162.76 L71.50,162.52 L72.00,162.29 L72.50,162.05 L73.00,161.81 L73.50,161.57 L74.00,161.33 L74.50,161.08 L75.00,160.83 L75.50,160.58 L76.00,160.33 L76.50,160.07 L77.00,159.81 L77.50,159.55 L78.00,159.29 L78.50,159.02 L79.00,158.76 L79.50,158.50 L80.00,158.23 L80.50,157.97 L81.00,157.70 L81.50,157.43 L82.00,157.16 L82.50,156.89 L83.00,156.60 L83.50,156.32 L84.00,156.02 L84.50,155.72 L85.00,155.41 L85.50,155.09 L86.00,154.76 L86.50,154.42 L87.00,154.06 L87.50,153.70 L88.00,153.31 L88.50,152.92 L89.00,152.50 L89.50,152.06 L90.00,151.61 L90.50,151.14 L91.00,150.65 L91.50,150.16 L92.00,149.65 L92.50,149.13 L93.00,148.60 L93.50,148.07 L94.00,147.54 L94.50,147.01 L95.00,146.48 L95.50,145.96 L96.00,145.43 L96.50,144.92 L97.00,144.40 L97.50,143.89 L98.00,143.38 L98.50,142.87 L99.00,142.35 L99.50,141.84 L100.00,141.32 L100.50,140.81 L101.00,140.29 L101.50,139.79 L102.00,139.28 L102.50,138.79 L103.00,138.31 L103.50,137.83 L104.00,137.37 L104.50,136.92 L105.00,136.48 L105.50,136.05 L106.00,135.63 L106.50,135.21 L107.00,134.80 L107.50,134.39 L108.00,133.99 L108.50,133.59 L109.00,133.20 L109.50,132.82 L110.00,132.45 L110.50,132.10 L111.00,131.75 L111.50,131.42 L112.00,131.11 L112.50,130.82 L113.00,130.54 L113.50,130.28 L114.00,130.05 L114.50,129.83 L115.00,129.64 L115.50,129.47 L116.00,129.31 L116.50,129.18 L117.00,129.07 L117.50,128.97 L118.00,128.88 L118.50,128.81 L119.00,128.75 L119.50,128.70 L120.00,128.66 L120.50,128.63 L121.00,128.61 L121.50,128.59 L122.00,128.57 L122.50,128.56 L123.00,128.55 L123.50,128.54 L124.00,128.53 L124.50,128.53 L125.00,128.53 L125.50,128.53 L126.00,128.56 L126.50,128.59 L127.00,128.64 L127.50,128.71 L128.00,128.78 L128.50,128.86 L129.00,128.94 L129.50,129.01 L130.00,129.08 L130.50,129.13 L131.00,129.18 L131.50,129.22 L132.00,129.26 L132.50,129.29 L133.00,129.32 L133.50,129.35 L134.00,129.38 L134.50,129.41 L135.00,129.45 L135.50,129.49 L136.00,129.53 L136.50,129.58 L137.00,129.64 L137.50,129.71 L138.00,129.79 L138.50,129.88 L139.00,129.99 L139.50,130.11 L140.00,130.25 L140.50,130.42 L141.00,130.60 L141.50,130.81 L142.00,131.03 L142.50,131.28 L143.00,131.54 L143.50,131.81 L144.00,132.08 L144.50,132.37 L145.00,132.65 L145.50,132.93 L146.00,133.20 L146.50,133.47 L147.00,133.72 L147.50,133.96 L148.00,134.18 L148.50,134.39 L149.00,134.59 L149.50,134.77 L150.00,134.95 L150.50,135.12 L151.00,135.28 L151.50,135.44 L152.00,135.59 L152.50,135.74 L153.00,135.88 L153.50,136.02 L154.00,136.16 L154.50,136.29 L155.00,136.42 L155.50,136.55 L156.00,136.67 L156.50,136.80 L157.00,136.92 L157.50,137.04 L158.00,137.15 L158.50,137.27 L159.00,137.38 L159.50,137.48 L160.00,137.59 L160.50,137.69 L161.00,137.79 L161.50,137.88 L162.00,137.97 L162.50,138.06 L163.00,138.14 L163.50,138.22 L164.00,138.29 L164.50,138.37 L165.00,138.44 L165.50,138.51 L166.00,138.57 L166.50,138.64 L167.00,138.70 L167.50,138.77 L168.00,138.83 L168.50,138.90 L169.00,138.96 L169.50,139.03 L170.00,139.09 L170.50,139.15 L171.00,139.21 L171.50,139.27 L172.00,139.33 L172.50,139.38 L173.00,139.44 L173.50,139.49 L174.00,139.54 L174.50,139.60 L175.00,139.65 L175.50,139.69 L176.00,139.74 L176.50,139.78 L177.00,139.83 L177.50,139.87 L178.00,139.90 L178.50,139.94 L179.00,139.97 L179.50,140.01 L180.00,140.03 L180.50,140.06 L181.00,140.09 L181.50,140.11 L182.00,140.13 L182.50,140.15 L183.00,140.16 L183.50,140.18 L184.00,140.19 L184.50,140.20 L185.00,140.21 L185.50,140.22 L186.00,140.23 L186.50,140.23 L187.00,140.24 L187.50,140.24 L188.00,140.24 L188.50,140.24 L189.00,140.24 L189.50,140.24 L190.00,140.24 L190.50,140.24 L191.00,140.24 L191.50,140.23 L192.00,140.23 L192.50,140.22 L193.00,140.22 L193.50,140.21 L194.00,140.20 L194.50,140.20 L195.00,140.19 L195.50,140.18 L196.00,140.18 L196.50,140.17 L197.00,140.16 L197.50,140.16 L198.00,140.15 L198.50,140.14 L199.00,140.14 L199.50,140.13 L200.00,140.12 L200.50,140.12 L201.00,140.11 L201.50,140.11 L202.00,140.11 L202.50,140.11 L203.00,140.10 L203.50,140.10 L203.80,140.10" stroke="#555" stroke-width="1.00" fill="none" stroke-linejoin="round" stroke-dasharray="4.2,2.6"/>
<line x1="126.50" y1="24.00" x2="126.50" y2="128.00" stroke="#333" stroke-width="1.10" stroke-dasharray="1.3,2.7"/>
<line x1="38.00" y1="15.30" x2="204.30" y2="15.30" stroke="#333" stroke-width="1.00" />
<line x1="43.50" y1="15.30" x2="43.50" y2="184.40" stroke="#333" stroke-width="1.00" />
<line x1="43.00" y1="183.90" x2="204.30" y2="183.90" stroke="#222" stroke-width="1.10" />
<line x1="203.80" y1="14.80" x2="203.80" y2="184.40" stroke="#222" stroke-width="1.10" />
<line x1="38.50" y1="172.10" x2="43.50" y2="172.10" stroke="#222" stroke-width="1.00" />
<text x="33.90" y="175.70" font-size="10.00" text-anchor="end" font-weight="normal" font-style="normal" fill="#000" >-0.1</text>
<line x1="40.50" y1="152.50" x2="43.50" y2="152.50" stroke="#222" stroke-width="1.00" />
<line x1="38.50" y1="132.90" x2="43.50" y2="132.90" stroke="#222" stroke-width="1.00" />
<text x="33.90" y="136.50" font-size="10.00" text-anchor="end" font-weight="normal" font-style="normal" fill="#000" >0.0</text>
<line x1="40.50" y1="113.30" x2="43.50" y2="113.30" stroke="#222" stroke-width="1.00" />
<line x1="38.50" y1="93.70" x2="43.50" y2="93.70" stroke="#222" stroke-width="1.00" />
<text x="33.90" y="97.30" font-size="10.00" text-anchor="end" font-weight="normal" font-style="normal" fill="#000" >0.1</text>
<line x1="40.50" y1="74.10" x2="43.50" y2="74.10" stroke="#222" stroke-width="1.00" />
<line x1="38.50" y1="54.50" x2="43.50" y2="54.50" stroke="#222" stroke-width="1.00" />
<text x="33.90" y="58.10" font-size="10.00" text-anchor="end" font-weight="normal" font-style="normal" fill="#000" >0.2</text>
<line x1="40.50" y1="34.90" x2="43.50" y2="34.90" stroke="#222" stroke-width="1.00" />
<line x1="38.50" y1="15.30" x2="43.50" y2="15.30" stroke="#222" stroke-width="1.00" />
<text x="33.90" y="18.90" font-size="10.00" text-anchor="end" font-weight="normal" font-style="normal" fill="#000" >0.3</text>
<line x1="43.50" y1="183.90" x2="43.50" y2="186.90" stroke="#222" stroke-width="1.00" />
<line x1="63.54" y1="183.90" x2="63.54" y2="189.40" stroke="#222" stroke-width="1.00" />
<text x="63.54" y="202.10" font-size="10.00" text-anchor="middle" font-weight="normal" font-style="normal" fill="#000" >1.78</text>
<line x1="83.58" y1="183.90" x2="83.58" y2="186.90" stroke="#222" stroke-width="1.00" />
<line x1="103.62" y1="183.90" x2="103.62" y2="189.40" stroke="#222" stroke-width="1.00" />
<text x="103.62" y="202.10" font-size="10.00" text-anchor="middle" font-weight="normal" font-style="normal" fill="#000" >1.80</text>
<line x1="123.66" y1="183.90" x2="123.66" y2="186.90" stroke="#222" stroke-width="1.00" />
<line x1="143.70" y1="183.90" x2="143.70" y2="189.40" stroke="#222" stroke-width="1.00" />
<text x="143.70" y="202.10" font-size="10.00" text-anchor="middle" font-weight="normal" font-style="normal" fill="#000" >1.82</text>
<line x1="163.74" y1="183.90" x2="163.74" y2="186.90" stroke="#222" stroke-width="1.00" />
<line x1="183.78" y1="183.90" x2="183.78" y2="189.40" stroke="#222" stroke-width="1.00" />
<text x="183.78" y="202.10" font-size="10.00" text-anchor="middle" font-weight="normal" font-style="normal" fill="#000" >1.84</text>
<line x1="203.82" y1="183.90" x2="203.82" y2="186.90" stroke="#222" stroke-width="1.00" />
<text x="202.30" y="25.70" font-size="8.60" text-anchor="end" font-weight="normal" font-style="normal" fill="#000" ><tspan font-style="italic">E</tspan> (V/nm)</text>
<text x="182.90" y="39.10" font-size="9.50" text-anchor="start" font-weight="normal" font-style="normal" fill="#000" textLength="15.5" lengthAdjust="spacingAndGlyphs" >0.24</text>
<text x="182.90" y="51.40" font-size="9.50" text-anchor="start" font-weight="normal" font-style="normal" fill="#000" textLength="15.5" lengthAdjust="spacingAndGlyphs" >0.20</text>
<text x="182.90" y="63.40" font-size="9.50" text-anchor="start" font-weight="normal" font-style="normal" fill="#000" textLength="15.5" lengthAdjust="spacingAndGlyphs" >0.16</text>
<text x="182.90" y="75.70" font-size="9.50" text-anchor="start" font-weight="normal" font-style="normal" fill="#000" textLength="15.5" lengthAdjust="spacingAndGlyphs" >0.14</text>
<text x="182.90" y="88.10" font-size="9.50" text-anchor="start" font-weight="normal" font-style="normal" fill="#000" textLength="15.5" lengthAdjust="spacingAndGlyphs" >0.12</text>
<text x="182.90" y="99.10" font-size="9.50" text-anchor="start" font-weight="normal" font-style="normal" fill="#000" textLength="15.5" lengthAdjust="spacingAndGlyphs" >0.08</text>
<text x="182.90" y="111.20" font-size="9.50" text-anchor="start" font-weight="normal" font-style="normal" fill="#000" textLength="15.5" lengthAdjust="spacingAndGlyphs" >0.04</text>
<text x="182.90" y="123.10" font-size="9.50" text-anchor="start" font-weight="normal" font-style="normal" fill="#000" textLength="4.4" lengthAdjust="spacingAndGlyphs" >0</text>
<text x="182.90" y="133.80" font-size="9.50" text-anchor="start" font-weight="normal" font-style="normal" fill="#000" textLength="18.2" lengthAdjust="spacingAndGlyphs" >-0.04</text>
<text x="123.95" y="215.00" font-size="10.20" text-anchor="middle" font-weight="normal" font-style="normal" fill="#000" textLength="89.0" lengthAdjust="spacingAndGlyphs" >Photon energy (eV)</text>
<text x="0" y="0" font-size="10.40" text-anchor="middle" fill="#000" transform="translate(7.70,99.00) rotate(-90)" textLength="95.3" lengthAdjust="spacingAndGlyphs" >Reflectance contrast</text>
<text x="195.60" y="175.80" font-size="10.20" text-anchor="end" font-weight="normal" font-style="normal" fill="#000" ><tspan style="font-family:'Liberation Serif'" font-size="11">ν</tspan> = 3</text>
<text x="4.60" y="21.80" font-size="11.00" text-anchor="start" font-weight="bold" font-style="normal" fill="#222" >a</text>
<path d="M44.20,283.05 L44.70,282.97 L45.20,282.86 L45.70,282.74 L46.20,282.59 L46.70,282.43 L47.20,282.26 L47.70,282.09 L48.20,281.92 L48.70,281.75 L49.20,281.58 L49.70,281.41 L50.20,281.24 L50.70,281.07 L51.20,280.90 L51.70,280.72 L52.20,280.55 L52.70,280.38 L53.20,280.20 L53.70,280.02 L54.20,279.85 L54.70,279.67 L55.20,279.48 L55.70,279.30 L56.20,279.12 L56.70,278.93 L57.20,278.74 L57.70,278.55 L58.20,278.36 L58.70,278.16 L59.20,277.97 L59.70,277.77 L60.20,277.57 L60.70,277.37 L61.20,277.17 L61.70,276.97 L62.20,276.77 L62.70,276.56 L63.20,276.36 L63.70,276.15 L64.20,275.94 L64.70,275.73 L65.20,275.52 L65.70,275.31 L66.20,275.10 L66.70,274.88 L67.20,274.66 L67.70,274.44 L68.20,274.22 L68.70,274.00 L69.20,273.78 L69.70,273.55 L70.20,273.32 L70.70,273.10 L71.20,272.86 L71.70,272.63 L72.20,272.40 L72.70,272.16 L73.20,271.93 L73.70,271.69 L74.20,271.46 L74.70,271.22 L75.20,270.98 L75.70,270.74 L76.20,270.50 L76.70,270.25 L77.20,270.00 L77.70,269.75 L78.20,269.49 L78.70,269.23 L79.20,268.96 L79.70,268.69 L80.20,268.41 L80.70,268.13 L81.20,267.83 L81.70,267.53 L82.20,267.22 L82.70,266.90 L83.20,266.58 L83.70,266.24 L84.20,265.89 L84.70,265.53 L85.20,265.17 L85.70,264.79 L86.20,264.40 L86.70,264.00 L87.20,263.59 L87.70,263.18 L88.20,262.76 L88.70,262.33 L89.20,261.89 L89.70,261.45 L90.20,261.00 L90.70,260.54 L91.20,260.08 L91.70,259.62 L92.20,259.14 L92.70,258.67 L93.20,258.18 L93.70,257.68 L94.20,257.17 L94.70,256.65 L95.20,256.11 L95.70,255.57 L96.20,255.02 L96.70,254.46 L97.20,253.89 L97.70,253.32 L98.20,252.75 L98.70,252.18 L99.20,251.61 L99.70,251.05 L100.20,250.48 L100.70,249.90 L101.20,249.32 L101.70,248.74 L102.20,248.15 L102.70,247.56 L103.20,246.97 L103.70,246.38 L104.20,245.81 L104.70,245.25 L105.20,244.71 L105.70,244.19 L106.20,243.69 L106.70,243.22 L107.20,242.78 L107.70,242.36 L108.20,241.97 L108.70,241.60 L109.20,241.26 L109.70,240.93 L110.20,240.62 L110.70,240.32 L111.20,240.04 L111.70,239.78 L112.20,239.53 L112.70,239.29 L113.20,239.06 L113.70,238.84 L114.20,238.63 L114.70,238.43 L115.20,238.25 L115.70,238.08 L116.20,237.92 L116.70,237.78 L117.20,237.65 L117.70,237.53 L118.20,237.42 L118.70,237.32 L119.20,237.23 L119.70,237.14 L120.20,237.06 L120.70,236.99 L121.20,236.92 L121.70,236.87 L122.20,236.82 L122.70,236.79 L123.20,236.77 L123.70,236.75 L124.20,236.75 L124.70,236.75 L125.20,236.76 L125.70,236.77 L126.20,236.78 L126.70,236.79 L127.20,236.81 L127.70,236.82 L128.20,236.83 L128.70,236.85 L129.20,236.86 L129.70,236.88 L130.20,236.90 L130.70,236.92 L131.20,236.94 L131.70,236.96 L132.20,236.99 L132.70,237.02 L133.20,237.05 L133.70,237.08 L134.20,237.11 L134.70,237.15 L135.20,237.19 L135.70,237.24 L136.20,237.29 L136.70,237.35 L137.20,237.42 L137.70,237.49 L138.20,237.57 L138.70,237.66 L139.20,237.75 L139.70,237.85 L140.20,237.95 L140.70,238.05 L141.20,238.16 L141.70,238.27 L142.20,238.38 L142.70,238.49 L143.20,238.61 L143.70,238.72 L144.20,238.84 L144.70,238.96 L145.20,239.09 L145.70,239.22 L146.20,239.35 L146.70,239.48 L147.20,239.62 L147.70,239.76 L148.20,239.91 L148.70,240.06 L149.20,240.22 L149.70,240.38 L150.20,240.54 L150.70,240.71 L151.20,240.89 L151.70,241.06 L152.20,241.24 L152.70,241.42 L153.20,241.60 L153.70,241.78 L154.20,241.96 L154.70,242.15 L155.20,242.33 L155.70,242.51 L156.20,242.69 L156.70,242.88 L157.20,243.06 L157.70,243.25 L158.20,243.44 L158.70,243.64 L159.20,243.83 L159.70,244.03 L160.20,244.22 L160.70,244.41 L161.20,244.60 L161.70,244.79 L162.20,244.97 L162.70,245.15 L163.20,245.32 L163.70,245.48 L164.20,245.63 L164.70,245.78 L165.20,245.92 L165.70,246.05 L166.20,246.17 L166.70,246.29 L167.20,246.40 L167.70,246.51 L168.20,246.61 L168.70,246.71 L169.20,246.80 L169.70,246.89 L170.20,246.97 L170.70,247.05 L171.20,247.13 L171.70,247.21 L172.20,247.28 L172.70,247.35 L173.20,247.42 L173.70,247.49 L174.20,247.55 L174.70,247.61 L175.20,247.66 L175.70,247.71 L176.20,247.76 L176.70,247.81 L177.20,247.85 L177.70,247.89 L178.20,247.93 L178.70,247.96 L179.20,247.99 L179.70,248.02 L180.20,248.05 L180.70,248.07 L181.20,248.09 L181.70,248.11 L182.20,248.13 L182.70,248.14 L183.20,248.16 L183.70,248.16 L184.20,248.17 L184.70,248.17 L185.20,248.17 L185.70,248.17 L186.20,248.17 L186.70,248.16 L187.20,248.15 L187.70,248.14 L188.20,248.13 L188.70,248.12 L189.20,248.10 L189.70,248.09 L190.20,248.07 L190.70,248.05 L191.20,248.03 L191.70,248.01 L192.20,247.98 L192.70,247.96 L193.20,247.94 L193.70,247.91 L194.20,247.89 L194.70,247.86 L195.20,247.83 L195.70,247.81 L196.20,247.78 L196.70,247.75 L197.20,247.72 L197.70,247.69 L198.20,247.66 L198.70,247.63 L199.20,247.60 L199.70,247.57 L200.20,247.54 L200.70,247.52 L201.20,247.49 L201.70,247.46 L202.20,247.43 L202.70,247.40 L203.20,247.38 L203.70,247.36 L204.20,247.34 L204.50,247.33" stroke="#ff3a22" stroke-width="1.10" fill="none" stroke-linejoin="round" />
<path d="M44.20,295.75 L44.70,295.67 L45.20,295.57 L45.70,295.44 L46.20,295.30 L46.70,295.15 L47.20,294.98 L47.70,294.82 L48.20,294.65 L48.70,294.49 L49.20,294.32 L49.70,294.16 L50.20,293.99 L50.70,293.83 L51.20,293.66 L51.70,293.49 L52.20,293.32 L52.70,293.15 L53.20,292.98 L53.70,292.80 L54.20,292.62 L54.70,292.44 L55.20,292.25 L55.70,292.06 L56.20,291.87 L56.70,291.67 L57.20,291.47 L57.70,291.26 L58.20,291.05 L58.70,290.83 L59.20,290.61 L59.70,290.38 L60.20,290.15 L60.70,289.92 L61.20,289.68 L61.70,289.45 L62.20,289.20 L62.70,288.96 L63.20,288.71 L63.70,288.46 L64.20,288.21 L64.70,287.95 L65.20,287.69 L65.70,287.43 L66.20,287.17 L66.70,286.91 L67.20,286.65 L67.70,286.39 L68.20,286.12 L68.70,285.86 L69.20,285.59 L69.70,285.33 L70.20,285.06 L70.70,284.79 L71.20,284.53 L71.70,284.27 L72.20,284.00 L72.70,283.74 L73.20,283.48 L73.70,283.22 L74.20,282.96 L74.70,282.70 L75.20,282.45 L75.70,282.19 L76.20,281.93 L76.70,281.68 L77.20,281.42 L77.70,281.16 L78.20,280.90 L78.70,280.64 L79.20,280.37 L79.70,280.11 L80.20,279.84 L80.70,279.57 L81.20,279.29 L81.70,279.02 L82.20,278.74 L82.70,278.45 L83.20,278.16 L83.70,277.87 L84.20,277.57 L84.70,277.26 L85.20,276.95 L85.70,276.63 L86.20,276.30 L86.70,275.96 L87.20,275.60 L87.70,275.22 L88.20,274.83 L88.70,274.42 L89.20,273.99 L89.70,273.55 L90.20,273.09 L90.70,272.63 L91.20,272.15 L91.70,271.67 L92.20,271.18 L92.70,270.68 L93.20,270.18 L93.70,269.67 L94.20,269.15 L94.70,268.62 L95.20,268.08 L95.70,267.53 L96.20,266.98 L96.70,266.42 L97.20,265.86 L97.70,265.30 L98.20,264.74 L98.70,264.17 L99.20,263.61 L99.70,263.04 L100.20,262.48 L100.70,261.90 L101.20,261.33 L101.70,260.74 L102.20,260.16 L102.70,259.57 L103.20,258.98 L103.70,258.40 L104.20,257.83 L104.70,257.27 L105.20,256.72 L105.70,256.20 L106.20,255.70 L106.70,255.22 L107.20,254.77 L107.70,254.34 L108.20,253.93 L108.70,253.54 L109.20,253.17 L109.70,252.81 L110.20,252.47 L110.70,252.15 L111.20,251.85 L111.70,251.56 L112.20,251.28 L112.70,251.03 L113.20,250.78 L113.70,250.55 L114.20,250.34 L114.70,250.15 L115.20,249.98 L115.70,249.82 L116.20,249.69 L116.70,249.57 L117.20,249.46 L117.70,249.37 L118.20,249.29 L118.70,249.21 L119.20,249.15 L119.70,249.08 L120.20,249.02 L120.70,248.96 L121.20,248.90 L121.70,248.85 L122.20,248.80 L122.70,248.75 L123.20,248.70 L123.70,248.66 L124.20,248.63 L124.70,248.60 L125.20,248.57 L125.70,248.55 L126.20,248.54 L126.70,248.52 L127.20,248.52 L127.70,248.51 L128.20,248.51 L128.70,248.52 L129.20,248.53 L129.70,248.54 L130.20,248.56 L130.70,248.59 L131.20,248.62 L131.70,248.65 L132.20,248.68 L132.70,248.72 L133.20,248.75 L133.70,248.79 L134.20,248.82 L134.70,248.85 L135.20,248.88 L135.70,248.90 L136.20,248.91 L136.70,248.92 L137.20,248.93 L137.70,248.95 L138.20,248.97 L138.70,248.99 L139.20,249.04 L139.70,249.09 L140.20,249.16 L140.70,249.24 L141.20,249.33 L141.70,249.43 L142.20,249.53 L142.70,249.64 L143.20,249.75 L143.70,249.86 L144.20,249.98 L144.70,250.11 L145.20,250.24 L145.70,250.37 L146.20,250.51 L146.70,250.65 L147.20,250.80 L147.70,250.96 L148.20,251.12 L148.70,251.28 L149.20,251.46 L149.70,251.64 L150.20,251.83 L150.70,252.02 L151.20,252.22 L151.70,252.43 L152.20,252.63 L152.70,252.84 L153.20,253.05 L153.70,253.26 L154.20,253.47 L154.70,253.68 L155.20,253.88 L155.70,254.08 L156.20,254.28 L156.70,254.47 L157.20,254.66 L157.70,254.85 L158.20,255.05 L158.70,255.23 L159.20,255.42 L159.70,255.61 L160.20,255.80 L160.70,255.98 L161.20,256.16 L161.70,256.33 L162.20,256.51 L162.70,256.67 L163.20,256.84 L163.70,256.99 L164.20,257.14 L164.70,257.29 L165.20,257.42 L165.70,257.56 L166.20,257.69 L166.70,257.81 L167.20,257.93 L167.70,258.04 L168.20,258.15 L168.70,258.25 L169.20,258.35 L169.70,258.45 L170.20,258.54 L170.70,258.63 L171.20,258.72 L171.70,258.80 L172.20,258.87 L172.70,258.95 L173.20,259.02 L173.70,259.08 L174.20,259.14 L174.70,259.19 L175.20,259.24 L175.70,259.28 L176.20,259.32 L176.70,259.36 L177.20,259.39 L177.70,259.42 L178.20,259.45 L178.70,259.48 L179.20,259.50 L179.70,259.53 L180.20,259.55 L180.70,259.58 L181.20,259.60 L181.70,259.62 L182.20,259.65 L182.70,259.67 L183.20,259.69 L183.70,259.71 L184.20,259.72 L184.70,259.74 L185.20,259.76 L185.70,259.77 L186.20,259.78 L186.70,259.79 L187.20,259.80 L187.70,259.80 L188.20,259.80 L188.70,259.80 L189.20,259.80 L189.70,259.79 L190.20,259.78 L190.70,259.78 L191.20,259.77 L191.70,259.75 L192.20,259.74 L192.70,259.73 L193.20,259.72 L193.70,259.70 L194.20,259.68 L194.70,259.67 L195.20,259.65 L195.70,259.63 L196.20,259.62 L196.70,259.60 L197.20,259.58 L197.70,259.56 L198.20,259.54 L198.70,259.52 L199.20,259.50 L199.70,259.48 L200.20,259.46 L200.70,259.44 L201.20,259.42 L201.70,259.40 L202.20,259.38 L202.70,259.37 L203.20,259.35 L203.70,259.34 L204.20,259.33 L204.50,259.32" stroke="#ff8a22" stroke-width="1.10" fill="none" stroke-linejoin="round" />
<path d="M44.20,308.03 L44.70,307.95 L45.20,307.84 L45.70,307.71 L46.20,307.55 L46.70,307.39 L47.20,307.21 L47.70,307.03 L48.20,306.86 L48.70,306.68 L49.20,306.50 L49.70,306.33 L50.20,306.15 L50.70,305.97 L51.20,305.79 L51.70,305.61 L52.20,305.43 L52.70,305.25 L53.20,305.06 L53.70,304.87 L54.20,304.68 L54.70,304.49 L55.20,304.30 L55.70,304.10 L56.20,303.89 L56.70,303.69 L57.20,303.48 L57.70,303.27 L58.20,303.05 L58.70,302.83 L59.20,302.61 L59.70,302.38 L60.20,302.15 L60.70,301.93 L61.20,301.69 L61.70,301.46 L62.20,301.22 L62.70,300.99 L63.20,300.75 L63.70,300.50 L64.20,300.26 L64.70,300.01 L65.20,299.76 L65.70,299.51 L66.20,299.25 L66.70,299.00 L67.20,298.74 L67.70,298.47 L68.20,298.21 L68.70,297.94 L69.20,297.67 L69.70,297.40 L70.20,297.12 L70.70,296.84 L71.20,296.56 L71.70,296.28 L72.20,295.99 L72.70,295.70 L73.20,295.41 L73.70,295.11 L74.20,294.81 L74.70,294.50 L75.20,294.19 L75.70,293.88 L76.20,293.56 L76.70,293.24 L77.20,292.92 L77.70,292.60 L78.20,292.27 L78.70,291.95 L79.20,291.62 L79.70,291.29 L80.20,290.95 L80.70,290.62 L81.20,290.29 L81.70,289.95 L82.20,289.62 L82.70,289.28 L83.20,288.94 L83.70,288.61 L84.20,288.27 L84.70,287.94 L85.20,287.60 L85.70,287.27 L86.20,286.94 L86.70,286.61 L87.20,286.29 L87.70,285.97 L88.20,285.65 L88.70,285.32 L89.20,285.00 L89.70,284.67 L90.20,284.33 L90.70,283.98 L91.20,283.61 L91.70,283.23 L92.20,282.83 L92.70,282.41 L93.20,281.97 L93.70,281.51 L94.20,281.03 L94.70,280.53 L95.20,280.01 L95.70,279.48 L96.20,278.95 L96.70,278.40 L97.20,277.84 L97.70,277.28 L98.20,276.72 L98.70,276.16 L99.20,275.60 L99.70,275.04 L100.20,274.48 L100.70,273.91 L101.20,273.34 L101.70,272.76 L102.20,272.18 L102.70,271.60 L103.20,271.01 L103.70,270.43 L104.20,269.86 L104.70,269.30 L105.20,268.75 L105.70,268.22 L106.20,267.71 L106.70,267.22 L107.20,266.76 L107.70,266.31 L108.20,265.88 L108.70,265.46 L109.20,265.06 L109.70,264.67 L110.20,264.30 L110.70,263.95 L111.20,263.61 L111.70,263.29 L112.20,262.99 L112.70,262.70 L113.20,262.43 L113.70,262.18 L114.20,261.95 L114.70,261.75 L115.20,261.56 L115.70,261.40 L116.20,261.26 L116.70,261.14 L117.20,261.03 L117.70,260.94 L118.20,260.86 L118.70,260.79 L119.20,260.73 L119.70,260.67 L120.20,260.61 L120.70,260.56 L121.20,260.50 L121.70,260.45 L122.20,260.40 L122.70,260.35 L123.20,260.31 L123.70,260.27 L124.20,260.24 L124.70,260.22 L125.20,260.20 L125.70,260.18 L126.20,260.17 L126.70,260.17 L127.20,260.18 L127.70,260.20 L128.20,260.22 L128.70,260.25 L129.20,260.29 L129.70,260.35 L130.20,260.41 L130.70,260.48 L131.20,260.55 L131.70,260.63 L132.20,260.71 L132.70,260.80 L133.20,260.88 L133.70,260.96 L134.20,261.03 L134.70,261.09 L135.20,261.15 L135.70,261.19 L136.20,261.22 L136.70,261.24 L137.20,261.26 L137.70,261.27 L138.20,261.28 L138.70,261.31 L139.20,261.35 L139.70,261.40 L140.20,261.47 L140.70,261.55 L141.20,261.64 L141.70,261.74 L142.20,261.84 L142.70,261.95 L143.20,262.07 L143.70,262.19 L144.20,262.31 L144.70,262.44 L145.20,262.57 L145.70,262.70 L146.20,262.84 L146.70,262.98 L147.20,263.12 L147.70,263.26 L148.20,263.41 L148.70,263.56 L149.20,263.71 L149.70,263.86 L150.20,264.02 L150.70,264.19 L151.20,264.35 L151.70,264.52 L152.20,264.69 L152.70,264.86 L153.20,265.04 L153.70,265.21 L154.20,265.39 L154.70,265.56 L155.20,265.74 L155.70,265.92 L156.20,266.10 L156.70,266.28 L157.20,266.46 L157.70,266.65 L158.20,266.84 L158.70,267.03 L159.20,267.22 L159.70,267.42 L160.20,267.61 L160.70,267.81 L161.20,268.00 L161.70,268.19 L162.20,268.37 L162.70,268.55 L163.20,268.72 L163.70,268.88 L164.20,269.03 L164.70,269.18 L165.20,269.32 L165.70,269.45 L166.20,269.57 L166.70,269.69 L167.20,269.80 L167.70,269.90 L168.20,270.00 L168.70,270.10 L169.20,270.19 L169.70,270.27 L170.20,270.36 L170.70,270.44 L171.20,270.52 L171.70,270.60 L172.20,270.68 L172.70,270.75 L173.20,270.83 L173.70,270.90 L174.20,270.97 L174.70,271.04 L175.20,271.11 L175.70,271.17 L176.20,271.24 L176.70,271.30 L177.20,271.35 L177.70,271.41 L178.20,271.46 L178.70,271.51 L179.20,271.55 L179.70,271.59 L180.20,271.63 L180.70,271.66 L181.20,271.69 L181.70,271.71 L182.20,271.73 L182.70,271.75 L183.20,271.76 L183.70,271.77 L184.20,271.78 L184.70,271.78 L185.20,271.78 L185.70,271.77 L186.20,271.77 L186.70,271.76 L187.20,271.75 L187.70,271.74 L188.20,271.73 L188.70,271.72 L189.20,271.70 L189.70,271.69 L190.20,271.68 L190.70,271.66 L191.20,271.65 L191.70,271.63 L192.20,271.61 L192.70,271.60 L193.20,271.58 L193.70,271.56 L194.20,271.54 L194.70,271.52 L195.20,271.50 L195.70,271.48 L196.20,271.46 L196.70,271.44 L197.20,271.42 L197.70,271.39 L198.20,271.37 L198.70,271.35 L199.20,271.33 L199.70,271.31 L200.20,271.28 L200.70,271.26 L201.20,271.24 L201.70,271.22 L202.20,271.20 L202.70,271.18 L203.20,271.16 L203.70,271.14 L204.20,271.13 L204.50,271.12" stroke="#ffd814" stroke-width="1.10" fill="none" stroke-linejoin="round" />
<path d="M44.20,319.28 L44.70,319.21 L45.20,319.12 L45.70,319.01 L46.20,318.88 L46.70,318.74 L47.20,318.60 L47.70,318.46 L48.20,318.31 L48.70,318.17 L49.20,318.03 L49.70,317.88 L50.20,317.74 L50.70,317.59 L51.20,317.44 L51.70,317.30 L52.20,317.15 L52.70,316.99 L53.20,316.84 L53.70,316.68 L54.20,316.52 L54.70,316.35 L55.20,316.18 L55.70,316.00 L56.20,315.82 L56.70,315.64 L57.20,315.45 L57.70,315.25 L58.20,315.05 L58.70,314.84 L59.20,314.63 L59.70,314.42 L60.20,314.20 L60.70,313.98 L61.20,313.76 L61.70,313.53 L62.20,313.30 L62.70,313.07 L63.20,312.83 L63.70,312.59 L64.20,312.35 L64.70,312.10 L65.20,311.85 L65.70,311.60 L66.20,311.34 L66.70,311.08 L67.20,310.82 L67.70,310.55 L68.20,310.28 L68.70,310.01 L69.20,309.73 L69.70,309.45 L70.20,309.16 L70.70,308.88 L71.20,308.58 L71.70,308.29 L72.20,307.99 L72.70,307.68 L73.20,307.37 L73.70,307.05 L74.20,306.73 L74.70,306.40 L75.20,306.06 L75.70,305.72 L76.20,305.38 L76.70,305.03 L77.20,304.68 L77.70,304.32 L78.20,303.96 L78.70,303.60 L79.20,303.24 L79.70,302.88 L80.20,302.51 L80.70,302.15 L81.20,301.78 L81.70,301.42 L82.20,301.06 L82.70,300.69 L83.20,300.34 L83.70,299.98 L84.20,299.62 L84.70,299.27 L85.20,298.93 L85.70,298.59 L86.20,298.26 L86.70,297.94 L87.20,297.63 L87.70,297.33 L88.20,297.04 L88.70,296.76 L89.20,296.48 L89.70,296.20 L90.20,295.91 L90.70,295.62 L91.20,295.31 L91.70,294.99 L92.20,294.64 L92.70,294.27 L93.20,293.88 L93.70,293.47 L94.20,293.04 L94.70,292.59 L95.20,292.12 L95.70,291.65 L96.20,291.15 L96.70,290.65 L97.20,290.14 L97.70,289.63 L98.20,289.11 L98.70,288.58 L99.20,288.05 L99.70,287.51 L100.20,286.97 L100.70,286.42 L101.20,285.87 L101.70,285.30 L102.20,284.73 L102.70,284.14 L103.20,283.56 L103.70,282.98 L104.20,282.40 L104.70,281.82 L105.20,281.26 L105.70,280.70 L106.20,280.17 L106.70,279.64 L107.20,279.13 L107.70,278.63 L108.20,278.14 L108.70,277.65 L109.20,277.18 L109.70,276.72 L110.20,276.27 L110.70,275.83 L111.20,275.40 L111.70,274.99 L112.20,274.60 L112.70,274.23 L113.20,273.89 L113.70,273.56 L114.20,273.27 L114.70,272.99 L115.20,272.75 L115.70,272.53 L116.20,272.33 L116.70,272.16 L117.20,272.00 L117.70,271.86 L118.20,271.74 L118.70,271.62 L119.20,271.51 L119.70,271.40 L120.20,271.30 L120.70,271.21 L121.20,271.11 L121.70,271.02 L122.20,270.94 L122.70,270.88 L123.20,270.83 L123.70,270.79 L124.20,270.78 L124.70,270.79 L125.20,270.82 L125.70,270.88 L126.20,270.95 L126.70,271.04 L127.20,271.15 L127.70,271.27 L128.20,271.39 L128.70,271.53 L129.20,271.67 L129.70,271.81 L130.20,271.94 L130.70,272.07 L131.20,272.20 L131.70,272.31 L132.20,272.41 L132.70,272.50 L133.20,272.58 L133.70,272.65 L134.20,272.72 L134.70,272.77 L135.20,272.82 L135.70,272.86 L136.20,272.91 L136.70,272.95 L137.20,272.99 L137.70,273.04 L138.20,273.09 L138.70,273.14 L139.20,273.20 L139.70,273.27 L140.20,273.35 L140.70,273.42 L141.20,273.51 L141.70,273.60 L142.20,273.69 L142.70,273.78 L143.20,273.88 L143.70,273.98 L144.20,274.09 L144.70,274.19 L145.20,274.30 L145.70,274.41 L146.20,274.53 L146.70,274.64 L147.20,274.76 L147.70,274.88 L148.20,275.01 L148.70,275.13 L149.20,275.26 L149.70,275.39 L150.20,275.52 L150.70,275.66 L151.20,275.80 L151.70,275.94 L152.20,276.08 L152.70,276.23 L153.20,276.37 L153.70,276.52 L154.20,276.68 L154.70,276.83 L155.20,276.99 L155.70,277.15 L156.20,277.31 L156.70,277.48 L157.20,277.65 L157.70,277.83 L158.20,278.02 L158.70,278.21 L159.20,278.40 L159.70,278.59 L160.20,278.79 L160.70,278.99 L161.20,279.18 L161.70,279.37 L162.20,279.56 L162.70,279.74 L163.20,279.91 L163.70,280.07 L164.20,280.23 L164.70,280.38 L165.20,280.52 L165.70,280.65 L166.20,280.77 L166.70,280.89 L167.20,281.00 L167.70,281.11 L168.20,281.21 L168.70,281.31 L169.20,281.40 L169.70,281.49 L170.20,281.57 L170.70,281.65 L171.20,281.73 L171.70,281.81 L172.20,281.88 L172.70,281.95 L173.20,282.02 L173.70,282.08 L174.20,282.15 L174.70,282.20 L175.20,282.26 L175.70,282.31 L176.20,282.35 L176.70,282.40 L177.20,282.44 L177.70,282.48 L178.20,282.51 L178.70,282.55 L179.20,282.58 L179.70,282.61 L180.20,282.64 L180.70,282.67 L181.20,282.70 L181.70,282.72 L182.20,282.75 L182.70,282.77 L183.20,282.80 L183.70,282.82 L184.20,282.83 L184.70,282.85 L185.20,282.87 L185.70,282.88 L186.20,282.89 L186.70,282.90 L187.20,282.90 L187.70,282.90 L188.20,282.91 L188.70,282.90 L189.20,282.90 L189.70,282.89 L190.20,282.88 L190.70,282.87 L191.20,282.86 L191.70,282.84 L192.20,282.83 L192.70,282.81 L193.20,282.79 L193.70,282.78 L194.20,282.76 L194.70,282.74 L195.20,282.72 L195.70,282.70 L196.20,282.68 L196.70,282.65 L197.20,282.63 L197.70,282.61 L198.20,282.58 L198.70,282.56 L199.20,282.54 L199.70,282.51 L200.20,282.49 L200.70,282.47 L201.20,282.44 L201.70,282.42 L202.20,282.40 L202.70,282.38 L203.20,282.36 L203.70,282.35 L204.20,282.33 L204.50,282.32" stroke="#4cee22" stroke-width="1.10" fill="none" stroke-linejoin="round" />
<path d="M44.20,331.66 L44.70,331.59 L45.20,331.49 L45.70,331.38 L46.20,331.24 L46.70,331.10 L47.20,330.94 L47.70,330.79 L48.20,330.63 L48.70,330.48 L49.20,330.33 L49.70,330.17 L50.20,330.02 L50.70,329.86 L51.20,329.71 L51.70,329.55 L52.20,329.40 L52.70,329.24 L53.20,329.08 L53.70,328.91 L54.20,328.75 L54.70,328.58 L55.20,328.41 L55.70,328.24 L56.20,328.06 L56.70,327.89 L57.20,327.70 L57.70,327.52 L58.20,327.32 L58.70,327.13 L59.20,326.93 L59.70,326.73 L60.20,326.53 L60.70,326.32 L61.20,326.11 L61.70,325.90 L62.20,325.68 L62.70,325.46 L63.20,325.24 L63.70,325.02 L64.20,324.79 L64.70,324.56 L65.20,324.33 L65.70,324.09 L66.20,323.84 L66.70,323.60 L67.20,323.35 L67.70,323.09 L68.20,322.83 L68.70,322.56 L69.20,322.29 L69.70,322.02 L70.20,321.73 L70.70,321.45 L71.20,321.15 L71.70,320.85 L72.20,320.55 L72.70,320.23 L73.20,319.91 L73.70,319.58 L74.20,319.25 L74.70,318.90 L75.20,318.56 L75.70,318.20 L76.20,317.84 L76.70,317.48 L77.20,317.11 L77.70,316.73 L78.20,316.36 L78.70,315.98 L79.20,315.60 L79.70,315.21 L80.20,314.83 L80.70,314.44 L81.20,314.05 L81.70,313.66 L82.20,313.28 L82.70,312.89 L83.20,312.51 L83.70,312.12 L84.20,311.74 L84.70,311.37 L85.20,310.99 L85.70,310.63 L86.20,310.26 L86.70,309.91 L87.20,309.56 L87.70,309.22 L88.20,308.89 L88.70,308.56 L89.20,308.23 L89.70,307.90 L90.20,307.56 L90.70,307.22 L91.20,306.86 L91.70,306.49 L92.20,306.11 L92.70,305.71 L93.20,305.29 L93.70,304.86 L94.20,304.41 L94.70,303.95 L95.20,303.48 L95.70,303.00 L96.20,302.50 L96.70,302.00 L97.20,301.49 L97.70,300.97 L98.20,300.45 L98.70,299.91 L99.20,299.37 L99.70,298.82 L100.20,298.25 L100.70,297.68 L101.20,297.09 L101.70,296.48 L102.20,295.87 L102.70,295.25 L103.20,294.62 L103.70,293.98 L104.20,293.36 L104.70,292.73 L105.20,292.12 L105.70,291.52 L106.20,290.94 L106.70,290.38 L107.20,289.83 L107.70,289.29 L108.20,288.77 L108.70,288.25 L109.20,287.75 L109.70,287.25 L110.20,286.77 L110.70,286.31 L111.20,285.85 L111.70,285.42 L112.20,285.00 L112.70,284.61 L113.20,284.24 L113.70,283.89 L114.20,283.57 L114.70,283.27 L115.20,283.00 L115.70,282.76 L116.20,282.54 L116.70,282.34 L117.20,282.16 L117.70,282.00 L118.20,281.85 L118.70,281.71 L119.20,281.58 L119.70,281.46 L120.20,281.34 L120.70,281.22 L121.20,281.12 L121.70,281.02 L122.20,280.93 L122.70,280.86 L123.20,280.81 L123.70,280.77 L124.20,280.76 L124.70,280.78 L125.20,280.82 L125.70,280.88 L126.20,280.96 L126.70,281.05 L127.20,281.16 L127.70,281.29 L128.20,281.42 L128.70,281.56 L129.20,281.71 L129.70,281.87 L130.20,282.03 L130.70,282.19 L131.20,282.36 L131.70,282.53 L132.20,282.71 L132.70,282.88 L133.20,283.07 L133.70,283.26 L134.20,283.45 L134.70,283.65 L135.20,283.86 L135.70,284.07 L136.20,284.27 L136.70,284.48 L137.20,284.68 L137.70,284.88 L138.20,285.07 L138.70,285.25 L139.20,285.42 L139.70,285.58 L140.20,285.73 L140.70,285.86 L141.20,285.98 L141.70,286.09 L142.20,286.20 L142.70,286.29 L143.20,286.38 L143.70,286.47 L144.20,286.55 L144.70,286.64 L145.20,286.72 L145.70,286.81 L146.20,286.90 L146.70,286.99 L147.20,287.09 L147.70,287.20 L148.20,287.32 L148.70,287.44 L149.20,287.57 L149.70,287.70 L150.20,287.84 L150.70,287.98 L151.20,288.13 L151.70,288.28 L152.20,288.43 L152.70,288.58 L153.20,288.74 L153.70,288.90 L154.20,289.05 L154.70,289.22 L155.20,289.38 L155.70,289.54 L156.20,289.71 L156.70,289.88 L157.20,290.05 L157.70,290.22 L158.20,290.40 L158.70,290.59 L159.20,290.77 L159.70,290.96 L160.20,291.15 L160.70,291.33 L161.20,291.52 L161.70,291.70 L162.20,291.88 L162.70,292.05 L163.20,292.22 L163.70,292.38 L164.20,292.54 L164.70,292.68 L165.20,292.82 L165.70,292.95 L166.20,293.08 L166.70,293.20 L167.20,293.32 L167.70,293.43 L168.20,293.54 L168.70,293.64 L169.20,293.74 L169.70,293.84 L170.20,293.93 L170.70,294.02 L171.20,294.11 L171.70,294.19 L172.20,294.27 L172.70,294.35 L173.20,294.42 L173.70,294.49 L174.20,294.56 L174.70,294.63 L175.20,294.69 L175.70,294.75 L176.20,294.81 L176.70,294.86 L177.20,294.91 L177.70,294.95 L178.20,295.00 L178.70,295.04 L179.20,295.07 L179.70,295.11 L180.20,295.14 L180.70,295.17 L181.20,295.19 L181.70,295.21 L182.20,295.23 L182.70,295.25 L183.20,295.26 L183.70,295.27 L184.20,295.28 L184.70,295.28 L185.20,295.28 L185.70,295.28 L186.20,295.28 L186.70,295.27 L187.20,295.26 L187.70,295.25 L188.20,295.24 L188.70,295.22 L189.20,295.20 L189.70,295.18 L190.20,295.16 L190.70,295.14 L191.20,295.12 L191.70,295.10 L192.20,295.07 L192.70,295.04 L193.20,295.02 L193.70,294.99 L194.20,294.96 L194.70,294.93 L195.20,294.90 L195.70,294.87 L196.20,294.84 L196.70,294.80 L197.20,294.77 L197.70,294.74 L198.20,294.71 L198.70,294.67 L199.20,294.64 L199.70,294.61 L200.20,294.57 L200.70,294.54 L201.20,294.51 L201.70,294.48 L202.20,294.45 L202.70,294.42 L203.20,294.39 L203.70,294.37 L204.20,294.35 L204.50,294.34" stroke="#22ee7a" stroke-width="1.10" fill="none" stroke-linejoin="round" />
<path d="M44.20,343.47 L44.70,343.39 L45.20,343.30 L45.70,343.18 L46.20,343.05 L46.70,342.91 L47.20,342.76 L47.70,342.60 L48.20,342.45 L48.70,342.30 L49.20,342.15 L49.70,342.00 L50.20,341.85 L50.70,341.70 L51.20,341.55 L51.70,341.39 L52.20,341.24 L52.70,341.08 L53.20,340.92 L53.70,340.76 L54.20,340.60 L54.70,340.43 L55.20,340.26 L55.70,340.08 L56.20,339.91 L56.70,339.72 L57.20,339.53 L57.70,339.34 L58.20,339.14 L58.70,338.94 L59.20,338.73 L59.70,338.52 L60.20,338.30 L60.70,338.07 L61.20,337.84 L61.70,337.61 L62.20,337.37 L62.70,337.13 L63.20,336.89 L63.70,336.64 L64.20,336.39 L64.70,336.13 L65.20,335.88 L65.70,335.61 L66.20,335.35 L66.70,335.09 L67.20,334.82 L67.70,334.55 L68.20,334.28 L68.70,334.00 L69.20,333.73 L69.70,333.45 L70.20,333.17 L70.70,332.89 L71.20,332.61 L71.70,332.33 L72.20,332.05 L72.70,331.77 L73.20,331.49 L73.70,331.21 L74.20,330.93 L74.70,330.65 L75.20,330.37 L75.70,330.09 L76.20,329.81 L76.70,329.53 L77.20,329.26 L77.70,328.98 L78.20,328.71 L78.70,328.43 L79.20,328.15 L79.70,327.88 L80.20,327.60 L80.70,327.32 L81.20,327.04 L81.70,326.75 L82.20,326.46 L82.70,326.17 L83.20,325.88 L83.70,325.58 L84.20,325.28 L84.70,324.98 L85.20,324.67 L85.70,324.35 L86.20,324.03 L86.70,323.71 L87.20,323.38 L87.70,323.04 L88.20,322.70 L88.70,322.35 L89.20,321.99 L89.70,321.61 L90.20,321.23 L90.70,320.83 L91.20,320.40 L91.70,319.96 L92.20,319.50 L92.70,319.03 L93.20,318.53 L93.70,318.03 L94.20,317.51 L94.70,316.99 L95.20,316.45 L95.70,315.91 L96.20,315.37 L96.70,314.82 L97.20,314.28 L97.70,313.73 L98.20,313.17 L98.70,312.61 L99.20,312.04 L99.70,311.46 L100.20,310.87 L100.70,310.27 L101.20,309.66 L101.70,309.04 L102.20,308.42 L102.70,307.79 L103.20,307.15 L103.70,306.51 L104.20,305.86 L104.70,305.20 L105.20,304.54 L105.70,303.87 L106.20,303.22 L106.70,302.57 L107.20,301.93 L107.70,301.31 L108.20,300.71 L108.70,300.12 L109.20,299.55 L109.70,299.00 L110.20,298.46 L110.70,297.94 L111.20,297.42 L111.70,296.91 L112.20,296.41 L112.70,295.92 L113.20,295.45 L113.70,294.98 L114.20,294.53 L114.70,294.11 L115.20,293.72 L115.70,293.36 L116.20,293.03 L116.70,292.73 L117.20,292.47 L117.70,292.23 L118.20,292.02 L118.70,291.84 L119.20,291.68 L119.70,291.55 L120.20,291.43 L120.70,291.34 L121.20,291.26 L121.70,291.20 L122.20,291.16 L122.70,291.13 L123.20,291.12 L123.70,291.13 L124.20,291.16 L124.70,291.23 L125.20,291.32 L125.70,291.45 L126.20,291.61 L126.70,291.81 L127.20,292.05 L127.70,292.32 L128.20,292.63 L128.70,292.97 L129.20,293.33 L129.70,293.72 L130.20,294.13 L130.70,294.53 L131.20,294.93 L131.70,295.32 L132.20,295.71 L132.70,296.07 L133.20,296.43 L133.70,296.76 L134.20,297.08 L134.70,297.37 L135.20,297.65 L135.70,297.91 L136.20,298.15 L136.70,298.37 L137.20,298.57 L137.70,298.75 L138.20,298.90 L138.70,299.03 L139.20,299.14 L139.70,299.23 L140.20,299.30 L140.70,299.34 L141.20,299.37 L141.70,299.38 L142.20,299.37 L142.70,299.35 L143.20,299.33 L143.70,299.30 L144.20,299.27 L144.70,299.25 L145.20,299.23 L145.70,299.23 L146.20,299.24 L146.70,299.26 L147.20,299.29 L147.70,299.33 L148.20,299.37 L148.70,299.43 L149.20,299.49 L149.70,299.55 L150.20,299.62 L150.70,299.70 L151.20,299.77 L151.70,299.86 L152.20,299.95 L152.70,300.04 L153.20,300.14 L153.70,300.25 L154.20,300.37 L154.70,300.49 L155.20,300.61 L155.70,300.74 L156.20,300.88 L156.70,301.02 L157.20,301.16 L157.70,301.32 L158.20,301.48 L158.70,301.65 L159.20,301.83 L159.70,302.02 L160.20,302.24 L160.70,302.47 L161.20,302.72 L161.70,302.98 L162.20,303.25 L162.70,303.51 L163.20,303.77 L163.70,304.02 L164.20,304.24 L164.70,304.45 L165.20,304.63 L165.70,304.80 L166.20,304.96 L166.70,305.10 L167.20,305.24 L167.70,305.38 L168.20,305.51 L168.70,305.63 L169.20,305.74 L169.70,305.86 L170.20,305.96 L170.70,306.07 L171.20,306.17 L171.70,306.26 L172.20,306.35 L172.70,306.44 L173.20,306.52 L173.70,306.60 L174.20,306.68 L174.70,306.75 L175.20,306.82 L175.70,306.88 L176.20,306.94 L176.70,306.99 L177.20,307.04 L177.70,307.09 L178.20,307.13 L178.70,307.17 L179.20,307.20 L179.70,307.23 L180.20,307.25 L180.70,307.27 L181.20,307.29 L181.70,307.30 L182.20,307.31 L182.70,307.31 L183.20,307.31 L183.70,307.30 L184.20,307.29 L184.70,307.27 L185.20,307.25 L185.70,307.23 L186.20,307.21 L186.70,307.18 L187.20,307.15 L187.70,307.12 L188.20,307.08 L188.70,307.05 L189.20,307.01 L189.70,306.98 L190.20,306.94 L190.70,306.90 L191.20,306.86 L191.70,306.82 L192.20,306.77 L192.70,306.73 L193.20,306.69 L193.70,306.64 L194.20,306.60 L194.70,306.55 L195.20,306.50 L195.70,306.46 L196.20,306.41 L196.70,306.36 L197.20,306.31 L197.70,306.26 L198.20,306.21 L198.70,306.16 L199.20,306.12 L199.70,306.07 L200.20,306.02 L200.70,305.97 L201.20,305.92 L201.70,305.87 L202.20,305.82 L202.70,305.78 L203.20,305.74 L203.70,305.70 L204.20,305.68 L204.50,305.66" stroke="#22d8ff" stroke-width="1.10" fill="none" stroke-linejoin="round" />
<path d="M44.20,356.16 L44.70,356.08 L45.20,355.99 L45.70,355.87 L46.20,355.73 L46.70,355.58 L47.20,355.43 L47.70,355.27 L48.20,355.11 L48.70,354.96 L49.20,354.80 L49.70,354.64 L50.20,354.49 L50.70,354.33 L51.20,354.17 L51.70,354.01 L52.20,353.85 L52.70,353.69 L53.20,353.53 L53.70,353.36 L54.20,353.20 L54.70,353.02 L55.20,352.85 L55.70,352.67 L56.20,352.50 L56.70,352.31 L57.20,352.12 L57.70,351.93 L58.20,351.74 L58.70,351.54 L59.20,351.33 L59.70,351.12 L60.20,350.91 L60.70,350.69 L61.20,350.47 L61.70,350.25 L62.20,350.03 L62.70,349.80 L63.20,349.57 L63.70,349.33 L64.20,349.09 L64.70,348.85 L65.20,348.61 L65.70,348.37 L66.20,348.12 L66.70,347.87 L67.20,347.62 L67.70,347.37 L68.20,347.11 L68.70,346.85 L69.20,346.59 L69.70,346.33 L70.20,346.07 L70.70,345.81 L71.20,345.54 L71.70,345.27 L72.20,345.00 L72.70,344.73 L73.20,344.46 L73.70,344.19 L74.20,343.92 L74.70,343.64 L75.20,343.37 L75.70,343.10 L76.20,342.82 L76.70,342.55 L77.20,342.27 L77.70,342.00 L78.20,341.72 L78.70,341.44 L79.20,341.16 L79.70,340.88 L80.20,340.60 L80.70,340.31 L81.20,340.03 L81.70,339.74 L82.20,339.44 L82.70,339.15 L83.20,338.85 L83.70,338.55 L84.20,338.25 L84.70,337.94 L85.20,337.63 L85.70,337.32 L86.20,337.00 L86.70,336.67 L87.20,336.35 L87.70,336.01 L88.20,335.67 L88.70,335.31 L89.20,334.93 L89.70,334.51 L90.20,334.04 L90.70,333.50 L91.20,332.91 L91.70,332.28 L92.20,331.62 L92.70,330.97 L93.20,330.33 L93.70,329.71 L94.20,329.11 L94.70,328.52 L95.20,327.94 L95.70,327.37 L96.20,326.80 L96.70,326.23 L97.20,325.67 L97.70,325.10 L98.20,324.54 L98.70,323.97 L99.20,323.41 L99.70,322.85 L100.20,322.29 L100.70,321.73 L101.20,321.17 L101.70,320.61 L102.20,320.06 L102.70,319.50 L103.20,318.95 L103.70,318.39 L104.20,317.84 L104.70,317.28 L105.20,316.73 L105.70,316.17 L106.20,315.62 L106.70,315.06 L107.20,314.49 L107.70,313.93 L108.20,313.35 L108.70,312.77 L109.20,312.19 L109.70,311.60 L110.20,311.01 L110.70,310.43 L111.20,309.85 L111.70,309.29 L112.20,308.73 L112.70,308.19 L113.20,307.67 L113.70,307.16 L114.20,306.67 L114.70,306.21 L115.20,305.77 L115.70,305.35 L116.20,304.96 L116.70,304.60 L117.20,304.27 L117.70,303.96 L118.20,303.69 L118.70,303.43 L119.20,303.20 L119.70,303.00 L120.20,302.82 L120.70,302.67 L121.20,302.54 L121.70,302.42 L122.20,302.33 L122.70,302.25 L123.20,302.20 L123.70,302.16 L124.20,302.15 L124.70,302.18 L125.20,302.24 L125.70,302.34 L126.20,302.48 L126.70,302.66 L127.20,302.88 L127.70,303.14 L128.20,303.46 L128.70,303.82 L129.20,304.22 L129.70,304.66 L130.20,305.13 L130.70,305.62 L131.20,306.12 L131.70,306.63 L132.20,307.13 L132.70,307.63 L133.20,308.10 L133.70,308.55 L134.20,308.97 L134.70,309.36 L135.20,309.72 L135.70,310.04 L136.20,310.34 L136.70,310.61 L137.20,310.84 L137.70,311.06 L138.20,311.24 L138.70,311.39 L139.20,311.52 L139.70,311.62 L140.20,311.69 L140.70,311.73 L141.20,311.76 L141.70,311.76 L142.20,311.74 L142.70,311.70 L143.20,311.66 L143.70,311.61 L144.20,311.56 L144.70,311.51 L145.20,311.47 L145.70,311.43 L146.20,311.40 L146.70,311.37 L147.20,311.36 L147.70,311.35 L148.20,311.34 L148.70,311.35 L149.20,311.37 L149.70,311.40 L150.20,311.45 L150.70,311.52 L151.20,311.60 L151.70,311.69 L152.20,311.80 L152.70,311.91 L153.20,312.02 L153.70,312.13 L154.20,312.24 L154.70,312.34 L155.20,312.43 L155.70,312.52 L156.20,312.61 L156.70,312.70 L157.20,312.79 L157.70,312.89 L158.20,313.00 L158.70,313.13 L159.20,313.29 L159.70,313.47 L160.20,313.68 L160.70,313.93 L161.20,314.22 L161.70,314.52 L162.20,314.85 L162.70,315.18 L163.20,315.50 L163.70,315.80 L164.20,316.08 L164.70,316.33 L165.20,316.56 L165.70,316.76 L166.20,316.95 L166.70,317.13 L167.20,317.30 L167.70,317.46 L168.20,317.61 L168.70,317.76 L169.20,317.90 L169.70,318.03 L170.20,318.16 L170.70,318.28 L171.20,318.40 L171.70,318.52 L172.20,318.62 L172.70,318.73 L173.20,318.83 L173.70,318.92 L174.20,319.01 L174.70,319.09 L175.20,319.17 L175.70,319.24 L176.20,319.31 L176.70,319.37 L177.20,319.42 L177.70,319.47 L178.20,319.52 L178.70,319.56 L179.20,319.59 L179.70,319.62 L180.20,319.65 L180.70,319.67 L181.20,319.69 L181.70,319.70 L182.20,319.70 L182.70,319.70 L183.20,319.70 L183.70,319.69 L184.20,319.67 L184.70,319.65 L185.20,319.62 L185.70,319.60 L186.20,319.56 L186.70,319.53 L187.20,319.49 L187.70,319.45 L188.20,319.41 L188.70,319.36 L189.20,319.32 L189.70,319.27 L190.20,319.22 L190.70,319.17 L191.20,319.12 L191.70,319.06 L192.20,319.01 L192.70,318.95 L193.20,318.90 L193.70,318.84 L194.20,318.78 L194.70,318.72 L195.20,318.66 L195.70,318.60 L196.20,318.54 L196.70,318.48 L197.20,318.41 L197.70,318.35 L198.20,318.29 L198.70,318.23 L199.20,318.16 L199.70,318.10 L200.20,318.03 L200.70,317.97 L201.20,317.91 L201.70,317.85 L202.20,317.78 L202.70,317.73 L203.20,317.68 L203.70,317.63 L204.20,317.60 L204.50,317.57" stroke="#2288ff" stroke-width="1.10" fill="none" stroke-linejoin="round" />
<path d="M44.20,367.97 L44.70,367.90 L45.20,367.80 L45.70,367.69 L46.20,367.56 L46.70,367.42 L47.20,367.27 L47.70,367.12 L48.20,366.97 L48.70,366.82 L49.20,366.67 L49.70,366.52 L50.20,366.37 L50.70,366.22 L51.20,366.07 L51.70,365.91 L52.20,365.76 L52.70,365.60 L53.20,365.45 L53.70,365.29 L54.20,365.13 L54.70,364.96 L55.20,364.80 L55.70,364.63 L56.20,364.45 L56.70,364.28 L57.20,364.10 L57.70,363.91 L58.20,363.72 L58.70,363.53 L59.20,363.33 L59.70,363.13 L60.20,362.93 L60.70,362.72 L61.20,362.51 L61.70,362.30 L62.20,362.09 L62.70,361.88 L63.20,361.66 L63.70,361.44 L64.20,361.22 L64.70,360.99 L65.20,360.77 L65.70,360.54 L66.20,360.30 L66.70,360.07 L67.20,359.83 L67.70,359.59 L68.20,359.34 L68.70,359.10 L69.20,358.84 L69.70,358.59 L70.20,358.33 L70.70,358.07 L71.20,357.80 L71.70,357.53 L72.20,357.26 L72.70,356.98 L73.20,356.70 L73.70,356.41 L74.20,356.12 L74.70,355.83 L75.20,355.53 L75.70,355.22 L76.20,354.92 L76.70,354.60 L77.20,354.28 L77.70,353.96 L78.20,353.63 L78.70,353.30 L79.20,352.96 L79.70,352.62 L80.20,352.28 L80.70,351.93 L81.20,351.59 L81.70,351.23 L82.20,350.88 L82.70,350.52 L83.20,350.16 L83.70,349.80 L84.20,349.43 L84.70,349.07 L85.20,348.70 L85.70,348.33 L86.20,347.96 L86.70,347.59 L87.20,347.22 L87.70,346.84 L88.20,346.47 L88.70,346.09 L89.20,345.71 L89.70,345.33 L90.20,344.93 L90.70,344.52 L91.20,344.09 L91.70,343.65 L92.20,343.18 L92.70,342.70 L93.20,342.20 L93.70,341.68 L94.20,341.15 L94.70,340.60 L95.20,340.04 L95.70,339.46 L96.20,338.87 L96.70,338.28 L97.20,337.68 L97.70,337.08 L98.20,336.48 L98.70,335.88 L99.20,335.28 L99.70,334.67 L100.20,334.06 L100.70,333.45 L101.20,332.84 L101.70,332.23 L102.20,331.61 L102.70,331.00 L103.20,330.40 L103.70,329.79 L104.20,329.20 L104.70,328.61 L105.20,328.03 L105.70,327.46 L106.20,326.91 L106.70,326.38 L107.20,325.87 L107.70,325.40 L108.20,324.95 L108.70,324.52 L109.20,324.12 L109.70,323.73 L110.20,323.34 L110.70,322.94 L111.20,322.52 L111.70,322.08 L112.20,321.61 L112.70,321.10 L113.20,320.57 L113.70,320.01 L114.20,319.46 L114.70,318.90 L115.20,318.37 L115.70,317.85 L116.20,317.35 L116.70,316.87 L117.20,316.42 L117.70,316.00 L118.20,315.62 L118.70,315.27 L119.20,314.96 L119.70,314.70 L120.20,314.47 L120.70,314.27 L121.20,314.11 L121.70,313.98 L122.20,313.88 L122.70,313.81 L123.20,313.77 L123.70,313.77 L124.20,313.80 L124.70,313.87 L125.20,313.97 L125.70,314.11 L126.20,314.28 L126.70,314.49 L127.20,314.74 L127.70,315.03 L128.20,315.36 L128.70,315.71 L129.20,316.09 L129.70,316.48 L130.20,316.89 L130.70,317.31 L131.20,317.74 L131.70,318.18 L132.20,318.62 L132.70,319.06 L133.20,319.49 L133.70,319.91 L134.20,320.32 L134.70,320.71 L135.20,321.08 L135.70,321.43 L136.20,321.75 L136.70,322.05 L137.20,322.32 L137.70,322.55 L138.20,322.75 L138.70,322.92 L139.20,323.06 L139.70,323.18 L140.20,323.27 L140.70,323.35 L141.20,323.41 L141.70,323.46 L142.20,323.50 L142.70,323.53 L143.20,323.55 L143.70,323.56 L144.20,323.57 L144.70,323.58 L145.20,323.59 L145.70,323.60 L146.20,323.60 L146.70,323.61 L147.20,323.62 L147.70,323.63 L148.20,323.64 L148.70,323.65 L149.20,323.67 L149.70,323.69 L150.20,323.72 L150.70,323.75 L151.20,323.79 L151.70,323.84 L152.20,323.89 L152.70,323.95 L153.20,324.02 L153.70,324.10 L154.20,324.18 L154.70,324.27 L155.20,324.38 L155.70,324.48 L156.20,324.59 L156.70,324.71 L157.20,324.84 L157.70,324.97 L158.20,325.12 L158.70,325.28 L159.20,325.45 L159.70,325.64 L160.20,325.85 L160.70,326.08 L161.20,326.33 L161.70,326.60 L162.20,326.88 L162.70,327.16 L163.20,327.43 L163.70,327.69 L164.20,327.93 L164.70,328.15 L165.20,328.35 L165.70,328.53 L166.20,328.70 L166.70,328.86 L167.20,329.02 L167.70,329.17 L168.20,329.31 L168.70,329.45 L169.20,329.58 L169.70,329.71 L170.20,329.83 L170.70,329.94 L171.20,330.05 L171.70,330.15 L172.20,330.25 L172.70,330.33 L173.20,330.41 L173.70,330.49 L174.20,330.55 L174.70,330.61 L175.20,330.67 L175.70,330.71 L176.20,330.75 L176.70,330.78 L177.20,330.81 L177.70,330.83 L178.20,330.85 L178.70,330.87 L179.20,330.88 L179.70,330.89 L180.20,330.89 L180.70,330.89 L181.20,330.89 L181.70,330.89 L182.20,330.88 L182.70,330.86 L183.20,330.85 L183.70,330.82 L184.20,330.80 L184.70,330.77 L185.20,330.73 L185.70,330.70 L186.20,330.66 L186.70,330.62 L187.20,330.58 L187.70,330.54 L188.20,330.50 L188.70,330.46 L189.20,330.42 L189.70,330.37 L190.20,330.33 L190.70,330.29 L191.20,330.25 L191.70,330.20 L192.20,330.16 L192.70,330.12 L193.20,330.07 L193.70,330.02 L194.20,329.98 L194.70,329.93 L195.20,329.89 L195.70,329.84 L196.20,329.79 L196.70,329.74 L197.20,329.70 L197.70,329.65 L198.20,329.60 L198.70,329.55 L199.20,329.50 L199.70,329.46 L200.20,329.41 L200.70,329.36 L201.20,329.31 L201.70,329.26 L202.20,329.22 L202.70,329.17 L203.20,329.14 L203.70,329.10 L204.20,329.08 L204.50,329.05" stroke="#5533ff" stroke-width="1.10" fill="none" stroke-linejoin="round" />
<path d="M44.20,379.35 L44.70,379.27 L45.20,379.17 L45.70,379.05 L46.20,378.90 L46.70,378.75 L47.20,378.59 L47.70,378.42 L48.20,378.26 L48.70,378.09 L49.20,377.93 L49.70,377.77 L50.20,377.60 L50.70,377.44 L51.20,377.27 L51.70,377.11 L52.20,376.94 L52.70,376.77 L53.20,376.60 L53.70,376.43 L54.20,376.26 L54.70,376.08 L55.20,375.90 L55.70,375.72 L56.20,375.53 L56.70,375.34 L57.20,375.15 L57.70,374.95 L58.20,374.75 L58.70,374.54 L59.20,374.33 L59.70,374.12 L60.20,373.91 L60.70,373.69 L61.20,373.47 L61.70,373.25 L62.20,373.02 L62.70,372.80 L63.20,372.57 L63.70,372.34 L64.20,372.10 L64.70,371.87 L65.20,371.63 L65.70,371.39 L66.20,371.15 L66.70,370.90 L67.20,370.65 L67.70,370.40 L68.20,370.14 L68.70,369.89 L69.20,369.63 L69.70,369.36 L70.20,369.09 L70.70,368.82 L71.20,368.55 L71.70,368.27 L72.20,367.99 L72.70,367.71 L73.20,367.42 L73.70,367.13 L74.20,366.83 L74.70,366.53 L75.20,366.23 L75.70,365.92 L76.20,365.60 L76.70,365.29 L77.20,364.97 L77.70,364.64 L78.20,364.31 L78.70,363.98 L79.20,363.64 L79.70,363.30 L80.20,362.96 L80.70,362.61 L81.20,362.26 L81.70,361.91 L82.20,361.56 L82.70,361.20 L83.20,360.84 L83.70,360.48 L84.20,360.12 L84.70,359.76 L85.20,359.39 L85.70,359.02 L86.20,358.65 L86.70,358.28 L87.20,357.91 L87.70,357.54 L88.20,357.17 L88.70,356.79 L89.20,356.41 L89.70,356.03 L90.20,355.63 L90.70,355.22 L91.20,354.80 L91.70,354.35 L92.20,353.89 L92.70,353.40 L93.20,352.90 L93.70,352.38 L94.20,351.83 L94.70,351.27 L95.20,350.69 L95.70,350.10 L96.20,349.50 L96.70,348.89 L97.20,348.28 L97.70,347.67 L98.20,347.07 L98.70,346.49 L99.20,345.92 L99.70,345.37 L100.20,344.85 L100.70,344.34 L101.20,343.85 L101.70,343.38 L102.20,342.92 L102.70,342.48 L103.20,342.03 L103.70,341.59 L104.20,341.16 L104.70,340.71 L105.20,340.27 L105.70,339.81 L106.20,339.34 L106.70,338.85 L107.20,338.34 L107.70,337.82 L108.20,337.28 L108.70,336.72 L109.20,336.14 L109.70,335.56 L110.20,334.98 L110.70,334.40 L111.20,333.83 L111.70,333.27 L112.20,332.72 L112.70,332.19 L113.20,331.67 L113.70,331.16 L114.20,330.67 L114.70,330.18 L115.20,329.69 L115.70,329.21 L116.20,328.74 L116.70,328.28 L117.20,327.83 L117.70,327.41 L118.20,327.03 L118.70,326.68 L119.20,326.38 L119.70,326.12 L120.20,325.90 L120.70,325.72 L121.20,325.58 L121.70,325.47 L122.20,325.39 L122.70,325.35 L123.20,325.35 L123.70,325.39 L124.20,325.46 L124.70,325.56 L125.20,325.69 L125.70,325.85 L126.20,326.04 L126.70,326.27 L127.20,326.54 L127.70,326.85 L128.20,327.19 L128.70,327.56 L129.20,327.95 L129.70,328.36 L130.20,328.77 L130.70,329.19 L131.20,329.61 L131.70,330.03 L132.20,330.45 L132.70,330.86 L133.20,331.25 L133.70,331.62 L134.20,331.97 L134.70,332.29 L135.20,332.59 L135.70,332.87 L136.20,333.12 L136.70,333.36 L137.20,333.57 L137.70,333.77 L138.20,333.94 L138.70,334.10 L139.20,334.24 L139.70,334.36 L140.20,334.46 L140.70,334.55 L141.20,334.62 L141.70,334.69 L142.20,334.74 L142.70,334.78 L143.20,334.81 L143.70,334.85 L144.20,334.88 L144.70,334.91 L145.20,334.95 L145.70,335.00 L146.20,335.05 L146.70,335.11 L147.20,335.17 L147.70,335.24 L148.20,335.31 L148.70,335.39 L149.20,335.46 L149.70,335.54 L150.20,335.61 L150.70,335.69 L151.20,335.77 L151.70,335.85 L152.20,335.93 L152.70,336.01 L153.20,336.09 L153.70,336.18 L154.20,336.26 L154.70,336.35 L155.20,336.44 L155.70,336.52 L156.20,336.61 L156.70,336.70 L157.20,336.79 L157.70,336.89 L158.20,337.01 L158.70,337.14 L159.20,337.29 L159.70,337.46 L160.20,337.67 L160.70,337.91 L161.20,338.17 L161.70,338.46 L162.20,338.76 L162.70,339.06 L163.20,339.36 L163.70,339.64 L164.20,339.90 L164.70,340.13 L165.20,340.34 L165.70,340.54 L166.20,340.71 L166.70,340.88 L167.20,341.03 L167.70,341.18 L168.20,341.32 L168.70,341.46 L169.20,341.59 L169.70,341.71 L170.20,341.83 L170.70,341.94 L171.20,342.05 L171.70,342.15 L172.20,342.25 L172.70,342.33 L173.20,342.42 L173.70,342.50 L174.20,342.57 L174.70,342.63 L175.20,342.69 L175.70,342.74 L176.20,342.79 L176.70,342.83 L177.20,342.87 L177.70,342.90 L178.20,342.93 L178.70,342.95 L179.20,342.96 L179.70,342.98 L180.20,342.98 L180.70,342.99 L181.20,342.99 L181.70,342.99 L182.20,342.98 L182.70,342.96 L183.20,342.95 L183.70,342.92 L184.20,342.90 L184.70,342.87 L185.20,342.83 L185.70,342.79 L186.20,342.75 L186.70,342.70 L187.20,342.65 L187.70,342.60 L188.20,342.54 L188.70,342.48 L189.20,342.42 L189.70,342.36 L190.20,342.29 L190.70,342.22 L191.20,342.15 L191.70,342.08 L192.20,342.01 L192.70,341.93 L193.20,341.86 L193.70,341.78 L194.20,341.70 L194.70,341.62 L195.20,341.54 L195.70,341.46 L196.20,341.38 L196.70,341.30 L197.20,341.21 L197.70,341.13 L198.20,341.05 L198.70,340.96 L199.20,340.88 L199.70,340.79 L200.20,340.71 L200.70,340.63 L201.20,340.54 L201.70,340.46 L202.20,340.38 L202.70,340.30 L203.20,340.23 L203.70,340.18 L204.20,340.13 L204.50,340.09" stroke="#9a22ff" stroke-width="1.10" fill="none" stroke-linejoin="round" />
<path d="M44.20,381.09 L44.70,381.06 L45.20,381.01 L45.70,380.96 L46.20,380.89 L46.70,380.81 L47.20,380.72 L47.70,380.61 L48.20,380.48 L48.70,380.33 L49.20,380.17 L49.70,380.01 L50.20,379.83 L50.70,379.65 L51.20,379.47 L51.70,379.29 L52.20,379.10 L52.70,378.91 L53.20,378.72 L53.70,378.53 L54.20,378.34 L54.70,378.14 L55.20,377.95 L55.70,377.75 L56.20,377.55 L56.70,377.35 L57.20,377.14 L57.70,376.94 L58.20,376.73 L58.70,376.52 L59.20,376.32 L59.70,376.11 L60.20,375.89 L60.70,375.68 L61.20,375.47 L61.70,375.26 L62.20,375.04 L62.70,374.82 L63.20,374.61 L63.70,374.39 L64.20,374.17 L64.70,373.94 L65.20,373.72 L65.70,373.49 L66.20,373.27 L66.70,373.04 L67.20,372.81 L67.70,372.58 L68.20,372.34 L68.70,372.11 L69.20,371.87 L69.70,371.63 L70.20,371.39 L70.70,371.15 L71.20,370.90 L71.70,370.66 L72.20,370.41 L72.70,370.16 L73.20,369.91 L73.70,369.66 L74.20,369.40 L74.70,369.15 L75.20,368.90 L75.70,368.65 L76.20,368.40 L76.70,368.15 L77.20,367.90 L77.70,367.65 L78.20,367.40 L78.70,367.14 L79.20,366.89 L79.70,366.63 L80.20,366.37 L80.70,366.10 L81.20,365.83 L81.70,365.55 L82.20,365.26 L82.70,364.97 L83.20,364.67 L83.70,364.35 L84.20,364.03 L84.70,363.69 L85.20,363.35 L85.70,362.98 L86.20,362.60 L86.70,362.21 L87.20,361.79 L87.70,361.36 L88.20,360.91 L88.70,360.44 L89.20,359.96 L89.70,359.47 L90.20,358.96 L90.70,358.45 L91.20,357.94 L91.70,357.42 L92.20,356.89 L92.70,356.37 L93.20,355.85 L93.70,355.33 L94.20,354.82 L94.70,354.31 L95.20,353.80 L95.70,353.30 L96.20,352.79 L96.70,352.29 L97.20,351.78 L97.70,351.27 L98.20,350.76 L98.70,350.24 L99.20,349.73 L99.70,349.22 L100.20,348.71 L100.70,348.20 L101.20,347.70 L101.70,347.20 L102.20,346.70 L102.70,346.21 L103.20,345.72 L103.70,345.24 L104.20,344.76 L104.70,344.29 L105.20,343.83 L105.70,343.38 L106.20,342.93 L106.70,342.49 L107.20,342.06 L107.70,341.63 L108.20,341.22 L108.70,340.81 L109.20,340.41 L109.70,340.03 L110.20,339.66 L110.70,339.30 L111.20,338.96 L111.70,338.64 L112.20,338.33 L112.70,338.05 L113.20,337.80 L113.70,337.56 L114.20,337.35 L114.70,337.16 L115.20,336.98 L115.70,336.82 L116.20,336.66 L116.70,336.52 L117.20,336.38 L117.70,336.25 L118.20,336.13 L118.70,336.01 L119.20,335.89 L119.70,335.78 L120.20,335.67 L120.70,335.57 L121.20,335.48 L121.70,335.39 L122.20,335.31 L122.70,335.24 L123.20,335.17 L123.70,335.12 L124.20,335.07 L124.70,335.04 L125.20,335.02 L125.70,335.01 L126.20,335.02 L126.70,335.05 L127.20,335.08 L127.70,335.13 L128.20,335.19 L128.70,335.25 L129.20,335.32 L129.70,335.39 L130.20,335.46 L130.70,335.53 L131.20,335.61 L131.70,335.69 L132.20,335.77 L132.70,335.86 L133.20,335.94 L133.70,336.03 L134.20,336.12 L134.70,336.21 L135.20,336.30 L135.70,336.39 L136.20,336.48 L136.70,336.57 L137.20,336.66 L137.70,336.75 L138.20,336.84 L138.70,336.93 L139.20,337.02 L139.70,337.11 L140.20,337.20 L140.70,337.30 L141.20,337.40 L141.70,337.51 L142.20,337.62 L142.70,337.73 L143.20,337.85 L143.70,337.96 L144.20,338.08 L144.70,338.20 L145.20,338.33 L145.70,338.45 L146.20,338.59 L146.70,338.72 L147.20,338.86 L147.70,339.00 L148.20,339.15 L148.70,339.31 L149.20,339.47 L149.70,339.64 L150.20,339.82 L150.70,340.00 L151.20,340.19 L151.70,340.37 L152.20,340.56 L152.70,340.75 L153.20,340.94 L153.70,341.13 L154.20,341.33 L154.70,341.52 L155.20,341.71 L155.70,341.90 L156.20,342.10 L156.70,342.29 L157.20,342.49 L157.70,342.69 L158.20,342.89 L158.70,343.09 L159.20,343.29 L159.70,343.49 L160.20,343.68 L160.70,343.87 L161.20,344.06 L161.70,344.24 L162.20,344.41 L162.70,344.58 L163.20,344.74 L163.70,344.90 L164.20,345.04 L164.70,345.18 L165.20,345.31 L165.70,345.42 L166.20,345.53 L166.70,345.63 L167.20,345.73 L167.70,345.81 L168.20,345.89 L168.70,345.96 L169.20,346.02 L169.70,346.08 L170.20,346.12 L170.70,346.17 L171.20,346.20 L171.70,346.23 L172.20,346.26 L172.70,346.28 L173.20,346.30 L173.70,346.31 L174.20,346.33 L174.70,346.34 L175.20,346.35 L175.70,346.36 L176.20,346.37 L176.70,346.38 L177.20,346.39 L177.70,346.39 L178.20,346.40 L178.70,346.40 L179.20,346.41 L179.70,346.41 L180.20,346.42 L180.70,346.42 L181.20,346.42 L181.70,346.42 L182.20,346.43 L182.70,346.43 L183.20,346.43 L183.70,346.43 L184.20,346.43 L184.70,346.43 L185.20,346.43 L185.70,346.42 L186.20,346.42 L186.70,346.42 L187.20,346.42 L187.70,346.41 L188.20,346.41 L188.70,346.41 L189.20,346.41 L189.70,346.40 L190.20,346.40 L190.70,346.39 L191.20,346.39 L191.70,346.39 L192.20,346.38 L192.70,346.38 L193.20,346.37 L193.70,346.37 L194.20,346.36 L194.70,346.36 L195.20,346.35 L195.70,346.35 L196.20,346.34 L196.70,346.34 L197.20,346.34 L197.70,346.33 L198.20,346.33 L198.70,346.32 L199.20,346.32 L199.70,346.32 L200.20,346.31 L200.70,346.31 L201.20,346.31 L201.70,346.31 L202.20,346.31 L202.70,346.30 L203.20,346.30 L203.70,346.30 L204.20,346.30 L204.50,346.30" stroke="#555" stroke-width="1.00" fill="none" stroke-linejoin="round" stroke-dasharray="4.2,2.6"/>
<line x1="124.80" y1="231.00" x2="124.80" y2="336.00" stroke="#333" stroke-width="1.10" stroke-dasharray="1.3,2.7"/>
<line x1="38.50" y1="222.90" x2="205.00" y2="222.90" stroke="#8a8a8a" stroke-width="1.40" />
<line x1="44.00" y1="222.90" x2="44.00" y2="392.40" stroke="#8a8a8a" stroke-width="1.40" />
<line x1="43.50" y1="391.90" x2="205.00" y2="391.90" stroke="#222" stroke-width="1.10" />
<line x1="204.50" y1="222.40" x2="204.50" y2="392.40" stroke="#222" stroke-width="1.10" />
<line x1="39.00" y1="379.70" x2="44.00" y2="379.70" stroke="#222" stroke-width="1.00" />
<text x="34.40" y="383.30" font-size="10.00" text-anchor="end" font-weight="normal" font-style="normal" fill="#000" >-0.1</text>
<line x1="41.00" y1="360.10" x2="44.00" y2="360.10" stroke="#222" stroke-width="1.00" />
<line x1="39.00" y1="340.50" x2="44.00" y2="340.50" stroke="#222" stroke-width="1.00" />
<text x="34.40" y="344.10" font-size="10.00" text-anchor="end" font-weight="normal" font-style="normal" fill="#000" >0.0</text>
<line x1="41.00" y1="320.90" x2="44.00" y2="320.90" stroke="#222" stroke-width="1.00" />
<line x1="39.00" y1="301.30" x2="44.00" y2="301.30" stroke="#222" stroke-width="1.00" />
<text x="34.40" y="304.90" font-size="10.00" text-anchor="end" font-weight="normal" font-style="normal" fill="#000" >0.1</text>
<line x1="41.00" y1="281.70" x2="44.00" y2="281.70" stroke="#222" stroke-width="1.00" />
<line x1="39.00" y1="262.10" x2="44.00" y2="262.10" stroke="#222" stroke-width="1.00" />
<text x="34.40" y="265.70" font-size="10.00" text-anchor="end" font-weight="normal" font-style="normal" fill="#000" >0.2</text>
<line x1="41.00" y1="242.50" x2="44.00" y2="242.50" stroke="#222" stroke-width="1.00" />
<line x1="39.00" y1="222.90" x2="44.00" y2="222.90" stroke="#222" stroke-width="1.00" />
<text x="34.40" y="226.50" font-size="10.00" text-anchor="end" font-weight="normal" font-style="normal" fill="#000" >0.3</text>
<line x1="44.00" y1="391.90" x2="44.00" y2="394.90" stroke="#222" stroke-width="1.00" />
<line x1="64.07" y1="391.90" x2="64.07" y2="397.40" stroke="#222" stroke-width="1.00" />
<text x="64.07" y="410.10" font-size="10.00" text-anchor="middle" font-weight="normal" font-style="normal" fill="#000" >1.78</text>
<line x1="84.14" y1="391.90" x2="84.14" y2="394.90" stroke="#222" stroke-width="1.00" />
<line x1="104.21" y1="391.90" x2="104.21" y2="397.40" stroke="#222" stroke-width="1.00" />
<text x="104.21" y="410.10" font-size="10.00" text-anchor="middle" font-weight="normal" font-style="normal" fill="#000" >1.80</text>
<line x1="124.28" y1="391.90" x2="124.28" y2="394.90" stroke="#222" stroke-width="1.00" />
<line x1="144.35" y1="391.90" x2="144.35" y2="397.40" stroke="#222" stroke-width="1.00" />
<text x="144.35" y="410.10" font-size="10.00" text-anchor="middle" font-weight="normal" font-style="normal" fill="#000" >1.82</text>
<line x1="164.42" y1="391.90" x2="164.42" y2="394.90" stroke="#222" stroke-width="1.00" />
<line x1="184.49" y1="391.90" x2="184.49" y2="397.40" stroke="#222" stroke-width="1.00" />
<text x="184.49" y="410.10" font-size="10.00" text-anchor="middle" font-weight="normal" font-style="normal" fill="#000" >1.84</text>
<line x1="204.56" y1="391.90" x2="204.56" y2="394.90" stroke="#222" stroke-width="1.00" />
<text x="202.30" y="232.70" font-size="8.60" text-anchor="end" font-weight="normal" font-style="normal" fill="#000" ><tspan font-style="italic">E</tspan> (V/nm)</text>
<text x="182.90" y="246.10" font-size="9.50" text-anchor="start" font-weight="normal" font-style="normal" fill="#000" textLength="15.5" lengthAdjust="spacingAndGlyphs" >0.20</text>
<text x="182.90" y="258.40" font-size="9.50" text-anchor="start" font-weight="normal" font-style="normal" fill="#000" textLength="15.5" lengthAdjust="spacingAndGlyphs" >0.16</text>
<text x="182.90" y="270.30" font-size="9.50" text-anchor="start" font-weight="normal" font-style="normal" fill="#000" textLength="15.5" lengthAdjust="spacingAndGlyphs" >0.12</text>
<text x="182.90" y="282.20" font-size="9.50" text-anchor="start" font-weight="normal" font-style="normal" fill="#000" textLength="15.5" lengthAdjust="spacingAndGlyphs" >0.10</text>
<text x="182.90" y="294.20" font-size="9.50" text-anchor="start" font-weight="normal" font-style="normal" fill="#000" textLength="15.5" lengthAdjust="spacingAndGlyphs" >0.08</text>
<text x="182.90" y="306.30" font-size="9.50" text-anchor="start" font-weight="normal" font-style="normal" fill="#000" textLength="15.5" lengthAdjust="spacingAndGlyphs" >0.04</text>
<text x="182.90" y="318.60" font-size="9.50" text-anchor="start" font-weight="normal" font-style="normal" fill="#000" textLength="4.4" lengthAdjust="spacingAndGlyphs" >0</text>
<text x="182.90" y="329.80" font-size="9.50" text-anchor="start" font-weight="normal" font-style="normal" fill="#000" textLength="18.2" lengthAdjust="spacingAndGlyphs" >-0.04</text>
<text x="182.90" y="340.50" font-size="9.50" text-anchor="start" font-weight="normal" font-style="normal" fill="#000" textLength="18.2" lengthAdjust="spacingAndGlyphs" >-0.08</text>
<text x="124.55" y="422.30" font-size="10.20" text-anchor="middle" font-weight="normal" font-style="normal" fill="#000" textLength="89.0" lengthAdjust="spacingAndGlyphs" >Photon energy (eV)</text>
<text x="0" y="0" font-size="10.40" text-anchor="middle" fill="#000" transform="translate(7.70,306.60) rotate(-90)" textLength="95.3" lengthAdjust="spacingAndGlyphs" >Reflectance contrast</text>
<text x="195.60" y="381.90" font-size="10.20" text-anchor="end" font-weight="normal" font-style="normal" fill="#000" ><tspan style="font-family:'Liberation Serif'" font-size="11">ν</tspan> = 7/3</text>
<text x="4.60" y="230.20" font-size="11.00" text-anchor="start" font-weight="bold" font-style="normal" fill="#222" >b</text>
<path d="M340.80,44.80 L341.30,44.58 L341.80,44.62 L342.30,44.67 L342.80,44.73 L343.30,44.78 L343.80,44.81 L344.30,44.80 L344.80,44.77 L345.30,44.72 L345.80,44.65 L346.30,44.59 L346.80,44.54 L347.30,44.52 L347.80,44.52 L348.30,44.55 L348.80,44.59 L349.30,44.63 L349.80,44.66 L350.30,44.67 L350.80,44.65 L351.30,44.61 L351.80,44.56 L352.30,44.51 L352.80,44.46 L353.30,44.42 L353.80,44.40 L354.30,44.39 L354.80,44.39 L355.30,44.39 L355.80,44.38 L356.30,44.36 L356.80,44.34 L357.30,44.31 L357.80,44.28 L358.30,44.27 L358.80,44.27 L359.30,44.30 L359.80,44.34 L360.30,44.40 L360.80,44.45 L361.30,44.49 L361.80,44.51 L362.30,44.51 L362.80,44.49 L363.30,44.46 L363.80,44.44 L364.30,44.43 L364.80,44.45 L365.30,44.51 L365.80,44.60 L366.30,44.70 L366.80,44.82 L367.30,44.93 L367.80,45.03 L368.30,45.09 L368.80,45.12 L369.30,45.13 L369.80,45.12 L370.30,45.11 L370.80,45.09 L371.30,45.09 L371.80,45.09 L372.30,45.10 L372.80,45.10 L373.30,45.10 L373.80,45.08 L374.30,45.05 L374.80,45.02 L375.30,44.98 L375.60,45.19 Z" fill="#cc0000" stroke="none"/>
<path d="M266.40,45.21 L267.40,45.12 L268.40,44.98 L269.40,44.89 L270.40,44.95 L271.40,45.16 L272.40,45.41 L273.40,45.55 L274.40,45.53 L275.40,45.45 L276.40,45.43 L277.40,45.53 L278.40,45.69 L279.40,45.80 L280.40,45.81 L281.40,45.76 L282.40,45.75 L283.40,45.79 L284.40,45.82 L285.40,45.77 L286.40,45.66 L287.40,45.58 L288.40,45.62 L289.40,45.74 L290.40,45.84 L291.40,45.81 L292.40,45.66 L293.40,45.52 L294.40,45.51 L295.40,45.65 L296.40,45.84 L297.40,45.96 L298.40,45.97 L299.40,45.92 L300.40,45.87 L301.40,45.82 L302.40,45.72 L303.40,45.51 L304.40,45.26 L305.40,45.07 L306.40,45.03 L307.40,45.09 L308.40,45.14 L309.40,45.10 L310.40,44.99 L311.40,44.95 L312.40,45.06 L313.40,45.29 L314.40,45.50 L315.40,45.56 L316.40,45.47 L317.40,45.32 L318.40,45.17 L319.40,45.03 L320.40,44.87 L321.40,44.65 L322.40,44.46 L323.40,44.40 L324.40,44.51 L325.40,44.71 L326.40,44.86 L327.40,44.88 L328.40,44.84 L329.40,44.85 L330.40,44.97 L331.40,45.15 L332.40,45.24 L333.40,45.19 L334.40,45.01 L335.40,44.83 L336.40,44.71 L337.40,44.65 L338.40,44.58 L339.40,44.50 L340.40,44.45 L341.40,44.58 L342.40,44.68 L343.40,44.79 L344.40,44.80 L345.40,44.71 L346.40,44.58 L347.40,44.52 L348.40,44.55 L349.40,44.63 L350.40,44.66 L351.40,44.60 L352.40,44.50 L353.40,44.42 L354.40,44.39 L355.40,44.39 L356.40,44.36 L357.40,44.30 L358.40,44.26 L359.40,44.30 L360.40,44.41 L361.40,44.49 L362.40,44.50 L363.40,44.45 L364.40,44.43 L365.40,44.52 L366.40,44.73 L367.40,44.95 L368.40,45.10 L369.40,45.13 L370.40,45.11 L371.40,45.09 L372.40,45.10 L373.40,45.09 L374.40,45.05 L375.40,44.98 L376.40,44.78 L377.40,44.75 L378.40,44.80 L379.40,44.82 L380.40,44.74 L381.40,44.60 L382.40,44.52 L383.40,44.57 L384.40,44.69 L385.40,44.76 L386.40,44.63 L387.40,44.34 L388.40,43.98 L389.40,43.66 L390.40,43.43 L391.40,43.22 L392.40,43.00 L393.40,42.83 L394.40,42.78 L395.40,42.88 L396.40,43.05 L397.40,43.18 L398.40,43.18 L399.40,43.12 L400.40,43.12 L401.40,43.24 L402.40,43.39 L403.40,43.45 L404.40,43.34 L405.40,43.13 L406.40,42.93 L407.40,42.85 L408.40,42.86 L409.40,42.91 L410.40,42.93 L411.40,42.97 L412.40,43.10 L413.40,43.30 L414.40,43.48 L415.40,43.55 L416.40,43.50 L417.40,43.42 L418.40,43.45 L419.40,43.61 L420.40,43.81 L421.40,43.92 L422.40,43.88 L423.40,43.77 L424.40,43.71 L425.40,43.76 L426.40,43.86 L427.40,43.92 L428.40,43.93 L429.40,43.94 L430.40,44.03 L431.40,44.18 L432.40,44.31 L433.40,44.36 L434.40,44.35 L435.40,44.39 L436.40,44.58 L437.40,44.90 L438.40,45.20 L439.40,45.36 L440.40,45.33 L441.40,45.22 L442.40,45.14 L443.40,45.14" stroke="#ee3322" stroke-width="1.10" fill="none" stroke-linejoin="round" />
<line x1="340.80" y1="45.10" x2="375.60" y2="46.09" stroke="#000" stroke-width="1.15" stroke-dasharray="2,1.2"/>
<path d="M340.80,84.40 L341.30,84.30 L341.80,84.15 L342.30,84.01 L342.80,83.87 L343.30,83.75 L343.80,83.67 L344.30,83.63 L344.80,83.61 L345.30,83.60 L345.80,83.58 L346.30,83.55 L346.80,83.48 L347.30,83.37 L347.80,83.24 L348.30,83.08 L348.80,82.92 L349.30,82.78 L349.80,82.67 L350.30,82.59 L350.80,82.55 L351.30,82.52 L351.80,82.51 L352.30,82.48 L352.80,82.43 L353.30,82.35 L353.80,82.24 L354.30,82.11 L354.80,81.98 L355.30,81.87 L355.80,81.79 L356.30,81.76 L356.80,81.77 L357.30,81.82 L357.80,81.90 L358.30,81.98 L358.80,82.04 L359.30,82.08 L359.80,82.09 L360.30,82.07 L360.80,82.04 L361.30,82.01 L361.80,82.01 L362.30,82.04 L362.80,82.11 L363.30,82.21 L363.80,82.34 L364.30,82.48 L364.80,82.60 L365.30,82.69 L365.80,82.74 L366.30,82.77 L366.80,82.76 L367.30,82.76 L367.80,82.76 L368.30,82.80 L368.80,82.87 L369.30,82.99 L369.80,83.14 L370.30,83.31 L370.80,83.47 L371.30,83.61 L371.80,83.72 L372.30,83.80 L372.80,83.84 L373.30,83.86 L373.80,83.89 L374.30,83.94 L374.80,84.01 L375.30,84.12 L375.60,84.19 Z" fill="#cc0000" stroke="none"/>
<path d="M266.40,85.48 L267.40,85.49 L268.40,85.51 L269.40,85.48 L270.40,85.36 L271.40,85.20 L272.40,85.08 L273.40,85.07 L274.40,85.15 L275.40,85.29 L276.40,85.40 L277.40,85.50 L278.40,85.59 L279.40,85.72 L280.40,85.89 L281.40,86.06 L282.40,86.16 L283.40,86.19 L284.40,86.14 L285.40,86.06 L286.40,86.00 L287.40,85.96 L288.40,85.93 L289.40,85.89 L290.40,85.84 L291.40,85.78 L292.40,85.76 L293.40,85.80 L294.40,85.89 L295.40,85.98 L296.40,86.04 L297.40,86.04 L298.40,86.00 L299.40,85.95 L300.40,85.93 L301.40,85.93 L302.40,85.90 L303.40,85.79 L304.40,85.64 L305.40,85.50 L306.40,85.44 L307.40,85.47 L308.40,85.52 L309.40,85.54 L310.40,85.48 L311.40,85.40 L312.40,85.37 L313.40,85.43 L314.40,85.50 L315.40,85.51 L316.40,85.40 L317.40,85.21 L318.40,85.05 L319.40,85.00 L320.40,85.03 L321.40,85.04 L322.40,84.96 L323.40,84.81 L324.40,84.69 L325.40,84.70 L326.40,84.84 L327.40,84.99 L328.40,85.02 L329.40,84.91 L330.40,84.76 L331.40,84.70 L332.40,84.76 L333.40,84.84 L334.40,84.80 L335.40,84.61 L336.40,84.36 L337.40,84.20 L338.40,84.22 L339.40,84.35 L340.40,84.43 L341.40,84.27 L342.40,83.98 L343.40,83.73 L344.40,83.62 L345.40,83.60 L346.40,83.54 L347.40,83.35 L348.40,83.05 L349.40,82.76 L350.40,82.58 L351.40,82.52 L352.40,82.47 L353.40,82.33 L354.40,82.08 L355.40,81.85 L356.40,81.76 L357.40,81.84 L358.40,81.99 L359.40,82.09 L360.40,82.07 L361.40,82.01 L362.40,82.05 L363.40,82.24 L364.40,82.50 L365.40,82.70 L366.40,82.77 L367.40,82.76 L368.40,82.81 L369.40,83.02 L370.40,83.34 L371.40,83.64 L372.40,83.81 L373.40,83.87 L374.40,83.95 L375.40,84.15 L376.40,84.31 L377.40,84.36 L378.40,84.17 L379.40,83.75 L380.40,83.28 L381.40,82.93 L382.40,82.77 L383.40,82.66 L384.40,82.46 L385.40,82.13 L386.40,81.80 L387.40,81.66 L388.40,81.78 L389.40,82.06 L390.40,82.26 L391.40,82.28 L392.40,82.19 L393.40,82.15 L394.40,82.26 L395.40,82.45 L396.40,82.55 L397.40,82.45 L398.40,82.21 L399.40,82.00 L400.40,81.96 L401.40,82.08 L402.40,82.24 L403.40,82.30 L404.40,82.28 L405.40,82.29 L406.40,82.46 L407.40,82.80 L408.40,83.16 L409.40,83.41 L410.40,83.47 L411.40,83.45 L412.40,83.46 L413.40,83.56 L414.40,83.67 L415.40,83.68 L416.40,83.54 L417.40,83.32 L418.40,83.17 L419.40,83.17 L420.40,83.30 L421.40,83.44 L422.40,83.53 L423.40,83.57 L424.40,83.66 L425.40,83.87 L426.40,84.16 L427.40,84.43 L428.40,84.60 L429.40,84.64 L430.40,84.62 L431.40,84.63 L432.40,84.67 L433.40,84.72 L434.40,84.72 L435.40,84.64 L436.40,84.54 L437.40,84.50 L438.40,84.55 L439.40,84.68 L440.40,84.83 L441.40,84.95 L442.40,85.04 L443.40,85.14" stroke="#ff8a33" stroke-width="1.10" fill="none" stroke-linejoin="round" />
<line x1="340.80" y1="84.40" x2="375.60" y2="84.19" stroke="#000" stroke-width="1.15" stroke-dasharray="2,1.2"/>
<path d="M340.80,125.00 L341.30,124.63 L341.80,124.39 L342.30,124.17 L342.80,123.96 L343.30,123.78 L343.80,123.61 L344.30,123.46 L344.80,123.31 L345.30,123.16 L345.80,123.01 L346.30,122.83 L346.80,122.64 L347.30,122.44 L347.80,122.22 L348.30,121.98 L348.80,121.74 L349.30,121.50 L349.80,121.27 L350.30,121.05 L350.80,120.83 L351.30,120.64 L351.80,120.45 L352.30,120.27 L352.80,120.11 L353.30,119.95 L353.80,119.80 L354.30,119.65 L354.80,119.52 L355.30,119.40 L355.80,119.30 L356.30,119.23 L356.80,119.18 L357.30,119.15 L357.80,119.15 L358.30,119.17 L358.80,119.21 L359.30,119.28 L359.80,119.35 L360.30,119.45 L360.80,119.55 L361.30,119.67 L361.80,119.79 L362.30,119.93 L362.80,120.07 L363.30,120.23 L363.80,120.38 L364.30,120.54 L364.80,120.70 L365.30,120.85 L365.80,120.99 L366.30,121.12 L366.80,121.22 L367.30,121.31 L367.80,121.37 L368.30,121.43 L368.80,121.48 L369.30,121.53 L369.80,121.59 L370.30,121.66 L370.80,121.75 L371.30,121.86 L371.80,122.00 L372.30,122.15 L372.80,122.31 L373.30,122.49 L373.80,122.66 L374.30,122.83 L374.80,122.99 L375.30,123.15 L375.60,123.39 Z" fill="#cc0000" stroke="none"/>
<path d="M266.40,127.67 L267.40,127.42 L268.40,127.20 L269.40,127.10 L270.40,127.13 L271.40,127.23 L272.40,127.31 L273.40,127.29 L274.40,127.20 L275.40,127.11 L276.40,127.08 L277.40,127.15 L278.40,127.30 L279.40,127.45 L280.40,127.51 L281.40,127.47 L282.40,127.35 L283.40,127.21 L284.40,127.10 L285.40,127.03 L286.40,126.98 L287.40,126.92 L288.40,126.83 L289.40,126.72 L290.40,126.62 L291.40,126.56 L292.40,126.56 L293.40,126.63 L294.40,126.75 L295.40,126.93 L296.40,127.16 L297.40,127.43 L298.40,127.73 L299.40,127.99 L300.40,128.16 L301.40,128.20 L302.40,128.14 L303.40,128.03 L304.40,127.91 L305.40,127.84 L306.40,127.80 L307.40,127.75 L308.40,127.65 L309.40,127.51 L310.40,127.36 L311.40,127.29 L312.40,127.33 L313.40,127.45 L314.40,127.57 L315.40,127.56 L316.40,127.36 L317.40,126.99 L318.40,126.55 L319.40,126.18 L320.40,125.95 L321.40,125.88 L322.40,125.89 L323.40,125.88 L324.40,125.79 L325.40,125.67 L326.40,125.57 L327.40,125.60 L328.40,125.76 L329.40,125.98 L330.40,126.14 L331.40,126.13 L332.40,125.92 L333.40,125.57 L334.40,125.23 L335.40,125.00 L336.40,124.92 L337.40,124.95 L338.40,124.99 L339.40,124.97 L340.40,124.88 L341.40,124.58 L342.40,124.12 L343.40,123.74 L344.40,123.43 L345.40,123.13 L346.40,122.80 L347.40,122.39 L348.40,121.93 L349.40,121.46 L350.40,121.00 L351.40,120.60 L352.40,120.24 L353.40,119.92 L354.40,119.63 L355.40,119.38 L356.40,119.22 L357.40,119.15 L358.40,119.18 L359.40,119.29 L360.40,119.47 L361.40,119.69 L362.40,119.96 L363.40,120.26 L364.40,120.58 L365.40,120.88 L366.40,121.14 L367.40,121.32 L368.40,121.44 L369.40,121.54 L370.40,121.68 L371.40,121.89 L372.40,122.18 L373.40,122.52 L374.40,122.86 L375.40,123.18 L376.40,123.24 L377.40,123.36 L378.40,123.52 L379.40,123.63 L380.40,123.66 L381.40,123.52 L382.40,123.17 L383.40,122.61 L384.40,121.95 L385.40,121.37 L386.40,120.98 L387.40,120.85 L388.40,120.93 L389.40,121.08 L390.40,121.20 L391.40,121.27 L392.40,121.36 L393.40,121.55 L394.40,121.86 L395.40,122.26 L396.40,122.62 L397.40,122.83 L398.40,122.84 L399.40,122.70 L400.40,122.52 L401.40,122.42 L402.40,122.47 L403.40,122.64 L404.40,122.85 L405.40,123.03 L406.40,123.13 L407.40,123.18 L408.40,123.24 L409.40,123.38 L410.40,123.59 L411.40,123.82 L412.40,124.01 L413.40,124.09 L414.40,124.06 L415.40,123.97 L416.40,123.88 L417.40,123.82 L418.40,123.80 L419.40,123.78 L420.40,123.74 L421.40,123.68 L422.40,123.62 L423.40,123.58 L424.40,123.57 L425.40,123.60 L426.40,123.64 L427.40,123.68 L428.40,123.72 L429.40,123.77 L430.40,123.82 L431.40,123.85 L432.40,123.81 L433.40,123.67 L434.40,123.46 L435.40,123.23 L436.40,123.07 L437.40,123.03 L438.40,123.13 L439.40,123.33 L440.40,123.53 L441.40,123.69 L442.40,123.81 L443.40,123.91" stroke="#ffaa22" stroke-width="1.10" fill="none" stroke-linejoin="round" />
<line x1="340.80" y1="125.00" x2="375.60" y2="123.39" stroke="#000" stroke-width="1.15" stroke-dasharray="2,1.2"/>
<path d="M340.80,164.91 L341.30,164.70 L341.80,164.19 L342.30,163.68 L342.80,163.18 L343.30,162.71 L343.80,162.26 L344.30,161.83 L344.80,161.41 L345.30,161.01 L345.80,160.60 L346.30,160.20 L346.80,159.79 L347.30,159.38 L347.80,158.96 L348.30,158.54 L348.80,158.14 L349.30,157.75 L349.80,157.38 L350.30,157.04 L350.80,156.74 L351.30,156.47 L351.80,156.24 L352.30,156.03 L352.80,155.84 L353.30,155.66 L353.80,155.50 L354.30,155.33 L354.80,155.17 L355.30,155.01 L355.80,154.86 L356.30,154.72 L356.80,154.59 L357.30,154.49 L357.80,154.42 L358.30,154.37 L358.80,154.36 L359.30,154.39 L359.80,154.44 L360.30,154.54 L360.80,154.66 L361.30,154.80 L361.80,154.96 L362.30,155.15 L362.80,155.34 L363.30,155.55 L363.80,155.77 L364.30,156.00 L364.80,156.25 L365.30,156.51 L365.80,156.80 L366.30,157.10 L366.80,157.41 L367.30,157.74 L367.80,158.09 L368.30,158.44 L368.80,158.79 L369.30,159.14 L369.80,159.49 L370.30,159.84 L370.80,160.17 L371.30,160.50 L371.80,160.81 L372.30,161.12 L372.80,161.41 L373.30,161.69 L373.80,161.97 L374.30,162.23 L374.80,162.49 L375.30,162.74 L375.60,162.82 Z" fill="#cc0000" stroke="none"/>
<path d="M266.40,168.05 L267.40,168.07 L268.40,168.17 L269.40,168.30 L270.40,168.38 L271.40,168.36 L272.40,168.24 L273.40,168.07 L274.40,167.94 L275.40,167.91 L276.40,167.99 L277.40,168.12 L278.40,168.21 L279.40,168.20 L280.40,168.07 L281.40,167.90 L282.40,167.76 L283.40,167.73 L284.40,167.81 L285.40,167.95 L286.40,168.05 L287.40,168.05 L288.40,167.93 L289.40,167.76 L290.40,167.59 L291.40,167.50 L292.40,167.48 L293.40,167.49 L294.40,167.45 L295.40,167.34 L296.40,167.15 L297.40,166.95 L298.40,166.79 L299.40,166.71 L300.40,166.73 L301.40,166.81 L302.40,166.90 L303.40,166.96 L304.40,166.98 L305.40,166.97 L306.40,166.94 L307.40,166.90 L308.40,166.84 L309.40,166.77 L310.40,166.68 L311.40,166.59 L312.40,166.51 L313.40,166.45 L314.40,166.42 L315.40,166.41 L316.40,166.42 L317.40,166.46 L318.40,166.54 L319.40,166.68 L320.40,166.86 L321.40,167.03 L322.40,167.13 L323.40,167.11 L324.40,166.96 L325.40,166.73 L326.40,166.49 L327.40,166.32 L328.40,166.22 L329.40,166.18 L330.40,166.13 L331.40,166.05 L332.40,165.94 L333.40,165.84 L334.40,165.83 L335.40,165.95 L336.40,166.16 L337.40,166.35 L338.40,166.26 L339.40,165.93 L340.40,165.49 L341.40,164.60 L342.40,163.58 L343.40,162.62 L344.40,161.75 L345.40,160.93 L346.40,160.12 L347.40,159.29 L348.40,158.46 L349.40,157.67 L350.40,156.98 L351.40,156.42 L352.40,155.99 L353.40,155.63 L354.40,155.30 L355.40,154.98 L356.40,154.69 L357.40,154.47 L358.40,154.37 L359.40,154.39 L360.40,154.56 L361.40,154.83 L362.40,155.18 L363.40,155.59 L364.40,156.05 L365.40,156.57 L366.40,157.16 L367.40,157.81 L368.40,158.51 L369.40,159.21 L370.40,159.91 L371.40,160.56 L372.40,161.18 L373.40,161.75 L374.40,162.28 L375.40,162.79 L376.40,162.89 L377.40,162.94 L378.40,162.96 L379.40,162.84 L380.40,162.71 L381.40,162.60 L382.40,162.46 L383.40,162.28 L384.40,162.04 L385.40,161.78 L386.40,161.54 L387.40,161.37 L388.40,161.26 L389.40,161.18 L390.40,161.07 L391.40,160.91 L392.40,160.70 L393.40,160.51 L394.40,160.43 L395.40,160.51 L396.40,160.74 L397.40,161.04 L398.40,161.33 L399.40,161.54 L400.40,161.66 L401.40,161.73 L402.40,161.84 L403.40,162.03 L404.40,162.29 L405.40,162.53 L406.40,162.70 L407.40,162.76 L408.40,162.73 L409.40,162.68 L410.40,162.71 L411.40,162.85 L412.40,163.11 L413.40,163.40 L414.40,163.65 L415.40,163.80 L416.40,163.85 L417.40,163.85 L418.40,163.87 L419.40,163.93 L420.40,164.03 L421.40,164.13 L422.40,164.18 L423.40,164.16 L424.40,164.07 L425.40,163.96 L426.40,163.87 L427.40,163.81 L428.40,163.78 L429.40,163.76 L430.40,163.72 L431.40,163.64 L432.40,163.55 L433.40,163.43 L434.40,163.31 L435.40,163.18 L436.40,163.05 L437.40,162.94 L438.40,162.86 L439.40,162.84 L440.40,162.87 L441.40,162.92 L442.40,162.96 L443.40,162.94" stroke="#dde422" stroke-width="1.10" fill="none" stroke-linejoin="round" />
<line x1="340.80" y1="164.91" x2="375.60" y2="162.82" stroke="#000" stroke-width="1.15" stroke-dasharray="2,1.2"/>
<path d="M340.80,204.21 L341.30,203.66 L341.80,203.05 L342.30,202.45 L342.80,201.87 L343.30,201.29 L343.80,200.70 L344.30,200.10 L344.80,199.47 L345.30,198.84 L345.80,198.20 L346.30,197.58 L346.80,196.98 L347.30,196.41 L347.80,195.90 L348.30,195.42 L348.80,194.97 L349.30,194.53 L349.80,194.10 L350.30,193.65 L350.80,193.18 L351.30,192.69 L351.80,192.19 L352.30,191.70 L352.80,191.22 L353.30,190.78 L353.80,190.38 L354.30,190.03 L354.80,189.71 L355.30,189.43 L355.80,189.19 L356.30,188.97 L356.80,188.78 L357.30,188.63 L357.80,188.53 L358.30,188.50 L358.80,188.54 L359.30,188.65 L359.80,188.84 L360.30,189.08 L360.80,189.37 L361.30,189.69 L361.80,190.01 L362.30,190.34 L362.80,190.66 L363.30,190.98 L363.80,191.31 L364.30,191.66 L364.80,192.05 L365.30,192.48 L365.80,192.95 L366.30,193.46 L366.80,194.00 L367.30,194.54 L367.80,195.08 L368.30,195.60 L368.80,196.11 L369.30,196.61 L369.80,197.11 L370.30,197.61 L370.80,198.14 L371.30,198.69 L371.80,199.26 L372.30,199.85 L372.80,200.44 L373.30,201.04 L373.80,201.62 L374.30,202.19 L374.80,202.76 L375.30,203.32 L375.60,203.77 Z" fill="#cc0000" stroke="none"/>
<path d="M266.40,209.37 L267.40,209.68 L268.40,209.85 L269.40,209.87 L270.40,209.86 L271.40,209.95 L272.40,210.15 L273.40,210.35 L274.40,210.42 L275.40,210.35 L276.40,210.22 L277.40,210.14 L278.40,210.10 L279.40,210.03 L280.40,209.87 L281.40,209.69 L282.40,209.61 L283.40,209.69 L284.40,209.86 L285.40,209.96 L286.40,209.87 L287.40,209.61 L288.40,209.32 L289.40,209.13 L290.40,209.02 L291.40,208.90 L292.40,208.71 L293.40,208.48 L294.40,208.32 L295.40,208.27 L296.40,208.28 L297.40,208.22 L298.40,208.04 L299.40,207.84 L300.40,207.74 L301.40,207.79 L302.40,207.90 L303.40,207.90 L304.40,207.71 L305.40,207.40 L306.40,207.11 L307.40,206.92 L308.40,206.81 L309.40,206.69 L310.40,206.56 L311.40,206.50 L312.40,206.60 L313.40,206.86 L314.40,207.13 L315.40,207.26 L316.40,207.24 L317.40,207.17 L318.40,207.18 L319.40,207.29 L320.40,207.39 L321.40,207.36 L322.40,207.16 L323.40,206.89 L324.40,206.68 L325.40,206.55 L326.40,206.43 L327.40,206.27 L328.40,206.11 L329.40,206.07 L330.40,206.24 L331.40,206.54 L332.40,206.80 L333.40,206.88 L334.40,206.80 L335.40,206.67 L336.40,206.61 L337.40,206.53 L338.40,206.00 L339.40,205.20 L340.40,204.48 L341.40,203.54 L342.40,202.34 L343.40,201.17 L344.40,199.97 L345.40,198.71 L346.40,197.45 L347.40,196.31 L348.40,195.33 L349.40,194.45 L350.40,193.55 L351.40,192.59 L352.40,191.60 L353.40,190.70 L354.40,189.96 L355.40,189.38 L356.40,188.93 L357.40,188.61 L358.40,188.50 L359.40,188.68 L360.40,189.14 L361.40,189.75 L362.40,190.40 L363.40,191.04 L364.40,191.73 L365.40,192.57 L366.40,193.57 L367.40,194.65 L368.40,195.71 L369.40,196.71 L370.40,197.72 L371.40,198.80 L372.40,199.97 L373.40,201.16 L374.40,202.31 L375.40,203.43 L376.40,203.84 L377.40,204.23 L378.40,204.59 L379.40,204.68 L380.40,204.48 L381.40,204.06 L382.40,203.56 L383.40,203.14 L384.40,202.81 L385.40,202.49 L386.40,202.12 L387.40,201.72 L388.40,201.40 L389.40,201.23 L390.40,201.16 L391.40,201.08 L392.40,200.93 L393.40,200.77 L394.40,200.72 L395.40,200.85 L396.40,201.07 L397.40,201.21 L398.40,201.20 L399.40,201.06 L400.40,200.95 L401.40,200.95 L402.40,201.05 L403.40,201.15 L404.40,201.22 L405.40,201.31 L406.40,201.53 L407.40,201.90 L408.40,202.29 L409.40,202.55 L410.40,202.63 L411.40,202.66 L412.40,202.76 L413.40,203.00 L414.40,203.27 L415.40,203.46 L416.40,203.52 L417.40,203.52 L418.40,203.59 L419.40,203.75 L420.40,203.92 L421.40,204.02 L422.40,204.04 L423.40,204.09 L424.40,204.25 L425.40,204.48 L426.40,204.61 L427.40,204.50 L428.40,204.17 L429.40,203.75 L430.40,203.40 L431.40,203.15 L432.40,202.92 L433.40,202.65 L434.40,202.35 L435.40,202.12 L436.40,202.02 L437.40,202.02 L438.40,202.00 L439.40,201.88 L440.40,201.74 L441.40,201.68 L442.40,201.78 L443.40,201.95" stroke="#5ad622" stroke-width="1.10" fill="none" stroke-linejoin="round" />
<line x1="340.80" y1="204.21" x2="375.60" y2="203.77" stroke="#000" stroke-width="1.15" stroke-dasharray="2,1.2"/>
<path d="M340.80,244.70 L341.30,243.69 L341.80,242.85 L342.30,242.03 L342.80,241.22 L343.30,240.42 L343.80,239.62 L344.30,238.81 L344.80,237.99 L345.30,237.16 L345.80,236.34 L346.30,235.52 L346.80,234.72 L347.30,233.94 L347.80,233.18 L348.30,232.43 L348.80,231.69 L349.30,230.94 L349.80,230.18 L350.30,229.40 L350.80,228.62 L351.30,227.83 L351.80,227.05 L352.30,226.30 L352.80,225.60 L353.30,224.95 L353.80,224.35 L354.30,223.80 L354.80,223.29 L355.30,222.82 L355.80,222.36 L356.30,221.92 L356.80,221.52 L357.30,221.15 L357.80,220.84 L358.30,220.61 L358.80,220.48 L359.30,220.45 L359.80,220.53 L360.30,220.74 L360.80,221.05 L361.30,221.43 L361.80,221.87 L362.30,222.36 L362.80,222.87 L363.30,223.42 L363.80,224.00 L364.30,224.65 L364.80,225.36 L365.30,226.15 L365.80,227.00 L366.30,227.92 L366.80,228.87 L367.30,229.85 L367.80,230.81 L368.30,231.76 L368.80,232.69 L369.30,233.60 L369.80,234.51 L370.30,235.43 L370.80,236.39 L371.30,237.38 L371.80,238.42 L372.30,239.49 L372.80,240.59 L373.30,241.68 L373.80,242.76 L374.30,243.80 L374.80,244.80 L375.30,245.77 L375.60,246.26 Z" fill="#cc0000" stroke="none"/>
<path d="M266.40,250.83 L267.40,250.92 L268.40,250.86 L269.40,250.69 L270.40,250.51 L271.40,250.37 L272.40,250.23 L273.40,250.03 L274.40,249.77 L275.40,249.51 L276.40,249.36 L277.40,249.32 L278.40,249.31 L279.40,249.27 L280.40,249.19 L281.40,249.14 L282.40,249.15 L283.40,249.17 L284.40,249.12 L285.40,248.93 L286.40,248.68 L287.40,248.49 L288.40,248.42 L289.40,248.41 L290.40,248.35 L291.40,248.16 L292.40,247.93 L293.40,247.79 L294.40,247.82 L295.40,247.92 L296.40,247.93 L297.40,247.76 L298.40,247.50 L299.40,247.34 L300.40,247.38 L301.40,247.54 L302.40,247.62 L303.40,247.52 L304.40,247.28 L305.40,247.11 L306.40,247.10 L307.40,247.22 L308.40,247.25 L309.40,247.07 L310.40,246.73 L311.40,246.44 L312.40,246.35 L313.40,246.46 L314.40,246.58 L315.40,246.56 L316.40,246.41 L317.40,246.27 L318.40,246.29 L319.40,246.44 L320.40,246.54 L321.40,246.45 L322.40,246.17 L323.40,245.83 L324.40,245.60 L325.40,245.51 L326.40,245.46 L327.40,245.35 L328.40,245.16 L329.40,245.01 L330.40,244.98 L331.40,245.08 L332.40,245.18 L333.40,245.20 L334.40,245.10 L335.40,244.98 L336.40,244.89 L337.40,244.84 L338.40,244.77 L339.40,244.65 L340.40,244.53 L341.40,243.52 L342.40,241.86 L343.40,240.26 L344.40,238.65 L345.40,237.00 L346.40,235.36 L347.40,233.78 L348.40,232.28 L349.40,230.79 L350.40,229.25 L351.40,227.67 L352.40,226.16 L353.40,224.82 L354.40,223.70 L355.40,222.72 L356.40,221.84 L357.40,221.08 L358.40,220.57 L359.40,220.46 L360.40,220.79 L361.40,221.52 L362.40,222.46 L363.40,223.53 L364.40,224.79 L365.40,226.31 L366.40,228.11 L367.40,230.04 L368.40,231.95 L369.40,233.79 L370.40,235.62 L371.40,237.58 L372.40,239.71 L373.40,241.90 L374.40,244.00 L375.40,245.96 L376.40,246.20 L377.40,246.23 L378.40,246.49 L379.40,246.41 L380.40,246.00 L381.40,245.31 L382.40,244.51 L383.40,243.84 L384.40,243.47 L385.40,243.23 L386.40,242.90 L387.40,242.39 L388.40,241.77 L389.40,241.19 L390.40,240.75 L391.40,240.44 L392.40,240.15 L393.40,239.83 L394.40,239.52 L395.40,239.35 L396.40,239.34 L397.40,239.46 L398.40,239.59 L399.40,239.67 L400.40,239.75 L401.40,239.89 L402.40,240.10 L403.40,240.34 L404.40,240.53 L405.40,240.69 L406.40,240.90 L407.40,241.21 L408.40,241.59 L409.40,242.00 L410.40,242.35 L411.40,242.64 L412.40,242.97 L413.40,243.39 L414.40,243.82 L415.40,244.14 L416.40,244.26 L417.40,244.24 L418.40,244.26 L419.40,244.39 L420.40,244.58 L421.40,244.68 L422.40,244.61 L423.40,244.39 L424.40,244.20 L425.40,244.15 L426.40,244.18 L427.40,244.09 L428.40,243.76 L429.40,243.25 L430.40,242.76 L431.40,242.47 L432.40,242.37 L433.40,242.28 L434.40,242.07 L435.40,241.71 L436.40,241.39 L437.40,241.25 L438.40,241.27 L439.40,241.29 L440.40,241.13 L441.40,240.76 L442.40,240.36 L443.40,240.09" stroke="#228a58" stroke-width="1.10" fill="none" stroke-linejoin="round" />
<line x1="340.80" y1="244.70" x2="375.60" y2="246.26" stroke="#000" stroke-width="1.15" stroke-dasharray="2,1.2"/>
<path d="M340.80,284.50 L341.30,283.87 L341.80,283.02 L342.30,282.15 L342.80,281.26 L343.30,280.36 L343.80,279.46 L344.30,278.57 L344.80,277.70 L345.30,276.85 L345.80,276.02 L346.30,275.21 L346.80,274.39 L347.30,273.57 L347.80,272.73 L348.30,271.88 L348.80,271.01 L349.30,270.13 L349.80,269.25 L350.30,268.38 L350.80,267.54 L351.30,266.72 L351.80,265.94 L352.30,265.19 L352.80,264.49 L353.30,263.83 L353.80,263.19 L354.30,262.59 L354.80,262.02 L355.30,261.49 L355.80,260.99 L356.30,260.54 L356.80,260.14 L357.30,259.80 L357.80,259.54 L358.30,259.34 L358.80,259.21 L359.30,259.16 L359.80,259.17 L360.30,259.26 L360.80,259.45 L361.30,259.74 L361.80,260.13 L362.30,260.60 L362.80,261.16 L363.30,261.79 L363.80,262.48 L364.30,263.23 L364.80,264.02 L365.30,264.84 L365.80,265.68 L366.30,266.54 L366.80,267.41 L367.30,268.31 L367.80,269.22 L368.30,270.17 L368.80,271.14 L369.30,272.16 L369.80,273.21 L370.30,274.29 L370.80,275.41 L371.30,276.53 L371.80,277.67 L372.30,278.80 L372.80,279.93 L373.30,281.05 L373.80,282.16 L374.30,283.28 L374.80,284.40 L375.30,285.55 L375.60,286.41 Z" fill="#cc0000" stroke="none"/>
<path d="M266.40,291.65 L267.40,291.51 L268.40,291.36 L269.40,291.28 L270.40,291.29 L271.40,291.34 L272.40,291.36 L273.40,291.29 L274.40,291.16 L275.40,291.02 L276.40,290.90 L277.40,290.80 L278.40,290.69 L279.40,290.55 L280.40,290.40 L281.40,290.26 L282.40,290.11 L283.40,289.91 L284.40,289.64 L285.40,289.29 L286.40,288.93 L287.40,288.62 L288.40,288.38 L289.40,288.17 L290.40,287.92 L291.40,287.62 L292.40,287.33 L293.40,287.15 L294.40,287.15 L295.40,287.30 L296.40,287.45 L297.40,287.51 L298.40,287.43 L299.40,287.29 L300.40,287.19 L301.40,287.17 L302.40,287.17 L303.40,287.09 L304.40,286.85 L305.40,286.49 L306.40,286.14 L307.40,285.91 L308.40,285.83 L309.40,285.85 L310.40,285.89 L311.40,285.90 L312.40,285.91 L313.40,285.96 L314.40,286.08 L315.40,286.22 L316.40,286.34 L317.40,286.39 L318.40,286.37 L319.40,286.31 L320.40,286.24 L321.40,286.14 L322.40,286.01 L323.40,285.86 L324.40,285.73 L325.40,285.67 L326.40,285.68 L327.40,285.70 L328.40,285.65 L329.40,285.52 L330.40,285.36 L331.40,285.24 L332.40,285.19 L333.40,285.18 L334.40,285.12 L335.40,284.94 L336.40,284.67 L337.40,284.45 L338.40,284.37 L339.40,284.47 L340.40,284.68 L341.40,283.70 L342.40,281.97 L343.40,280.18 L344.40,278.40 L345.40,276.69 L346.40,275.04 L347.40,273.40 L348.40,271.71 L349.40,269.96 L350.40,268.21 L351.40,266.56 L352.40,265.05 L353.40,263.70 L354.40,262.47 L355.40,261.38 L356.40,260.45 L357.40,259.74 L358.40,259.31 L359.40,259.15 L360.40,259.29 L361.40,259.81 L362.40,260.71 L363.40,261.92 L364.40,263.38 L365.40,265.00 L366.40,266.71 L367.40,268.49 L368.40,270.36 L369.40,272.36 L370.40,274.51 L371.40,276.76 L372.40,279.03 L373.40,281.27 L374.40,283.50 L375.40,285.78 L376.40,286.59 L377.40,287.14 L378.40,287.05 L379.40,286.66 L380.40,286.02 L381.40,285.22 L382.40,284.42 L383.40,283.70 L384.40,282.87 L385.40,281.92 L386.40,280.93 L387.40,280.05 L388.40,279.50 L389.40,279.24 L390.40,279.18 L391.40,279.25 L392.40,279.34 L393.40,279.39 L394.40,279.42 L395.40,279.46 L396.40,279.56 L397.40,279.71 L398.40,279.88 L399.40,280.08 L400.40,280.30 L401.40,280.57 L402.40,280.87 L403.40,281.18 L404.40,281.43 L405.40,281.63 L406.40,281.79 L407.40,281.95 L408.40,282.12 L409.40,282.26 L410.40,282.29 L411.40,282.22 L412.40,282.11 L413.40,282.08 L414.40,282.20 L415.40,282.46 L416.40,282.73 L417.40,282.94 L418.40,283.06 L419.40,283.16 L420.40,283.33 L421.40,283.59 L422.40,283.83 L423.40,283.94 L424.40,283.81 L425.40,283.50 L426.40,283.11 L427.40,282.78 L428.40,282.52 L429.40,282.30 L430.40,282.04 L431.40,281.70 L432.40,281.36 L433.40,281.09 L434.40,280.93 L435.40,280.86 L436.40,280.79 L437.40,280.68 L438.40,280.51 L439.40,280.32 L440.40,280.14 L441.40,279.95 L442.40,279.75 L443.40,279.54" stroke="#2424dd" stroke-width="1.10" fill="none" stroke-linejoin="round" />
<line x1="340.80" y1="284.50" x2="375.60" y2="286.41" stroke="#000" stroke-width="1.15" stroke-dasharray="2,1.2"/>
<path d="M340.80,323.62 L341.30,322.85 L341.80,321.96 L342.30,321.04 L342.80,320.10 L343.30,319.14 L343.80,318.17 L344.30,317.21 L344.80,316.26 L345.30,315.34 L345.80,314.43 L346.30,313.53 L346.80,312.64 L347.30,311.75 L347.80,310.84 L348.30,309.93 L348.80,309.02 L349.30,308.12 L349.80,307.25 L350.30,306.41 L350.80,305.62 L351.30,304.87 L351.80,304.15 L352.30,303.45 L352.80,302.77 L353.30,302.09 L353.80,301.42 L354.30,300.75 L354.80,300.11 L355.30,299.51 L355.80,298.99 L356.30,298.56 L356.80,298.23 L357.30,298.01 L357.80,297.91 L358.30,297.92 L358.80,298.01 L359.30,298.19 L359.80,298.45 L360.30,298.78 L360.80,299.17 L361.30,299.63 L361.80,300.17 L362.30,300.77 L362.80,301.43 L363.30,302.14 L363.80,302.90 L364.30,303.68 L364.80,304.47 L365.30,305.27 L365.80,306.08 L366.30,306.89 L366.80,307.73 L367.30,308.60 L367.80,309.52 L368.30,310.49 L368.80,311.51 L369.30,312.57 L369.80,313.66 L370.30,314.76 L370.80,315.85 L371.30,316.93 L371.80,317.99 L372.30,319.03 L372.80,320.07 L373.30,321.12 L373.80,322.19 L374.30,323.29 L374.80,324.43 L375.30,325.58 L375.60,326.19 Z" fill="#cc0000" stroke="none"/>
<path d="M266.40,333.35 L267.40,332.94 L268.40,332.65 L269.40,332.57 L270.40,332.64 L271.40,332.66 L272.40,332.49 L273.40,332.14 L274.40,331.73 L275.40,331.37 L276.40,331.04 L277.40,330.67 L278.40,330.23 L279.40,329.79 L280.40,329.46 L281.40,329.28 L282.40,329.16 L283.40,329.00 L284.40,328.75 L285.40,328.53 L286.40,328.45 L287.40,328.54 L288.40,328.64 L289.40,328.61 L290.40,328.36 L291.40,327.99 L292.40,327.67 L293.40,327.45 L294.40,327.29 L295.40,327.11 L296.40,326.92 L297.40,326.80 L298.40,326.80 L299.40,326.90 L300.40,326.93 L301.40,326.82 L302.40,326.59 L303.40,326.41 L304.40,326.41 L305.40,326.57 L306.40,326.75 L307.40,326.80 L308.40,326.71 L309.40,326.57 L310.40,326.49 L311.40,326.43 L312.40,326.33 L313.40,326.11 L314.40,325.85 L315.40,325.66 L316.40,325.60 L317.40,325.59 L318.40,325.52 L319.40,325.34 L320.40,325.14 L321.40,325.09 L322.40,325.23 L323.40,325.47 L324.40,325.61 L325.40,325.55 L326.40,325.32 L327.40,325.05 L328.40,324.80 L329.40,324.55 L330.40,324.24 L331.40,323.90 L332.40,323.65 L333.40,323.57 L334.40,323.66 L335.40,323.77 L336.40,323.74 L337.40,323.58 L338.40,323.40 L339.40,323.40 L340.40,323.65 L341.40,322.68 L342.40,320.85 L343.40,318.94 L344.40,317.02 L345.40,315.15 L346.40,313.35 L347.40,311.57 L348.40,309.75 L349.40,307.95 L350.40,306.25 L351.40,304.72 L352.40,303.32 L353.40,301.96 L354.40,300.62 L355.40,299.40 L356.40,298.48 L357.40,297.99 L358.40,297.93 L359.40,298.24 L360.40,298.85 L361.40,299.74 L362.40,300.89 L363.40,302.29 L364.40,303.84 L365.40,305.43 L366.40,307.06 L367.40,308.78 L368.40,310.69 L369.40,312.79 L370.40,314.98 L371.40,317.14 L372.40,319.24 L373.40,321.33 L374.40,323.52 L375.40,325.82 L376.40,326.65 L377.40,326.35 L378.40,325.73 L379.40,324.95 L380.40,324.16 L381.40,323.45 L382.40,322.79 L383.40,322.05 L384.40,321.28 L385.40,320.64 L386.40,320.22 L387.40,319.98 L388.40,319.78 L389.40,319.44 L390.40,318.97 L391.40,318.54 L392.40,318.31 L393.40,318.31 L394.40,318.43 L395.40,318.59 L396.40,318.72 L397.40,318.89 L398.40,319.15 L399.40,319.40 L400.40,319.56 L401.40,319.57 L402.40,319.55 L403.40,319.65 L404.40,319.93 L405.40,320.30 L406.40,320.60 L407.40,320.77 L408.40,320.87 L409.40,321.06 L410.40,321.39 L411.40,321.78 L412.40,322.13 L413.40,322.37 L414.40,322.52 L415.40,322.68 L416.40,322.83 L417.40,322.91 L418.40,322.85 L419.40,322.68 L420.40,322.57 L421.40,322.64 L422.40,322.88 L423.40,323.12 L424.40,323.19 L425.40,323.07 L426.40,322.87 L427.40,322.72 L428.40,322.63 L429.40,322.52 L430.40,322.33 L431.40,322.06 L432.40,321.82 L433.40,321.67 L434.40,321.56 L435.40,321.36 L436.40,321.02 L437.40,320.61 L438.40,320.29 L439.40,320.14 L440.40,320.09 L441.40,319.99 L442.40,319.73 L443.40,319.39" stroke="#2a2a99" stroke-width="1.10" fill="none" stroke-linejoin="round" />
<line x1="340.80" y1="323.62" x2="375.60" y2="326.19" stroke="#000" stroke-width="1.15" stroke-dasharray="2,1.2"/>
<path d="M340.80,363.93 L341.30,362.93 L341.80,361.96 L342.30,361.01 L342.80,360.09 L343.30,359.20 L343.80,358.33 L344.30,357.46 L344.80,356.59 L345.30,355.70 L345.80,354.78 L346.30,353.84 L346.80,352.88 L347.30,351.91 L347.80,350.95 L348.30,350.01 L348.80,349.10 L349.30,348.24 L349.80,347.41 L350.30,346.62 L350.80,345.84 L351.30,345.09 L351.80,344.34 L352.30,343.61 L352.80,342.91 L353.30,342.24 L353.80,341.62 L354.30,341.07 L354.80,340.60 L355.30,340.20 L355.80,339.89 L356.30,339.67 L356.80,339.53 L357.30,339.47 L357.80,339.50 L358.30,339.61 L358.80,339.80 L359.30,340.06 L359.80,340.40 L360.30,340.80 L360.80,341.27 L361.30,341.80 L361.80,342.36 L362.30,342.95 L362.80,343.58 L363.30,344.23 L363.80,344.91 L364.30,345.63 L364.80,346.39 L365.30,347.18 L365.80,348.01 L366.30,348.87 L366.80,349.73 L367.30,350.60 L367.80,351.46 L368.30,352.30 L368.80,353.13 L369.30,353.96 L369.80,354.80 L370.30,355.65 L370.80,356.54 L371.30,357.46 L371.80,358.40 L372.30,359.37 L372.80,360.35 L373.30,361.31 L373.80,362.26 L374.30,363.19 L374.80,364.10 L375.30,365.01 L375.60,365.59 Z" fill="#cc0000" stroke="none"/>
<path d="M266.40,371.43 L267.40,371.23 L268.40,370.92 L269.40,370.59 L270.40,370.33 L271.40,370.14 L272.40,370.01 L273.40,369.94 L274.40,369.96 L275.40,370.07 L276.40,370.21 L277.40,370.26 L278.40,370.18 L279.40,369.99 L280.40,369.79 L281.40,369.59 L282.40,369.35 L283.40,368.97 L284.40,368.46 L285.40,367.97 L286.40,367.64 L287.40,367.53 L288.40,367.54 L289.40,367.51 L290.40,367.38 L291.40,367.22 L292.40,367.12 L293.40,367.09 L294.40,367.06 L295.40,366.94 L296.40,366.69 L297.40,366.41 L298.40,366.18 L299.40,366.03 L300.40,365.91 L301.40,365.82 L302.40,365.77 L303.40,365.77 L304.40,365.81 L305.40,365.80 L306.40,365.69 L307.40,365.53 L308.40,365.39 L309.40,365.33 L310.40,365.30 L311.40,365.19 L312.40,364.97 L313.40,364.70 L314.40,364.54 L315.40,364.54 L316.40,364.62 L317.40,364.64 L318.40,364.52 L319.40,364.31 L320.40,364.16 L321.40,364.12 L322.40,364.15 L323.40,364.16 L324.40,364.09 L325.40,364.00 L326.40,363.96 L327.40,363.99 L328.40,364.05 L329.40,364.08 L330.40,364.07 L331.40,364.05 L332.40,364.03 L333.40,363.98 L334.40,363.86 L335.40,363.70 L336.40,363.60 L337.40,363.62 L338.40,363.75 L339.40,363.87 L340.40,363.90 L341.40,362.73 L342.40,360.82 L343.40,359.02 L344.40,357.29 L345.40,355.52 L346.40,353.65 L347.40,351.71 L348.40,349.82 L349.40,348.07 L350.40,346.46 L351.40,344.94 L352.40,343.47 L353.40,342.11 L354.40,340.97 L355.40,340.13 L356.40,339.63 L357.40,339.47 L358.40,339.64 L359.40,340.12 L360.40,340.89 L361.40,341.91 L362.40,343.08 L363.40,344.37 L364.40,345.78 L365.40,347.35 L366.40,349.04 L367.40,350.77 L368.40,352.47 L369.40,354.13 L370.40,355.83 L371.40,357.64 L372.40,359.57 L373.40,361.51 L374.40,363.38 L375.40,365.19 L376.40,365.31 L377.40,365.04 L378.40,364.80 L379.40,364.45 L380.40,363.88 L381.40,363.10 L382.40,362.22 L383.40,361.35 L384.40,360.53 L385.40,359.74 L386.40,358.98 L387.40,358.33 L388.40,357.86 L389.40,357.61 L390.40,357.53 L391.40,357.52 L392.40,357.60 L393.40,357.77 L394.40,358.03 L395.40,358.28 L396.40,358.41 L397.40,358.40 L398.40,358.34 L399.40,358.38 L400.40,358.55 L401.40,358.77 L402.40,358.92 L403.40,358.98 L404.40,359.10 L405.40,359.38 L406.40,359.82 L407.40,360.29 L408.40,360.64 L409.40,360.81 L410.40,360.87 L411.40,360.91 L412.40,360.98 L413.40,361.04 L414.40,361.06 L415.40,361.07 L416.40,361.13 L417.40,361.27 L418.40,361.45 L419.40,361.63 L420.40,361.77 L421.40,361.90 L422.40,362.01 L423.40,362.03 L424.40,361.88 L425.40,361.52 L426.40,361.07 L427.40,360.66 L428.40,360.38 L429.40,360.19 L430.40,359.96 L431.40,359.65 L432.40,359.35 L433.40,359.16 L434.40,359.15 L435.40,359.21 L436.40,359.17 L437.40,358.98 L438.40,358.69 L439.40,358.42 L440.40,358.25 L441.40,358.13 L442.40,358.02 L443.40,357.88" stroke="#5533a8" stroke-width="1.10" fill="none" stroke-linejoin="round" />
<line x1="340.80" y1="363.93" x2="375.60" y2="365.59" stroke="#000" stroke-width="1.15" stroke-dasharray="2,1.2"/>
<line x1="259.10" y1="15.10" x2="443.90" y2="15.10" stroke="#555" stroke-width="1.30" />
<line x1="266.40" y1="15.10" x2="266.40" y2="386.90" stroke="#111" stroke-width="1.10" />
<line x1="443.40" y1="14.60" x2="443.40" y2="386.90" stroke="#111" stroke-width="1.10" />
<line x1="265.90" y1="386.40" x2="443.90" y2="386.40" stroke="#111" stroke-width="1.10" />
<line x1="262.90" y1="386.03" x2="266.40" y2="386.03" stroke="#111" stroke-width="1.00" />
<line x1="259.40" y1="361.30" x2="266.40" y2="361.30" stroke="#111" stroke-width="1.00" />
<text x="253.60" y="364.90" font-size="10.00" text-anchor="end" font-weight="normal" font-style="normal" fill="#000" >0.00</text>
<line x1="262.90" y1="336.57" x2="266.40" y2="336.57" stroke="#111" stroke-width="1.00" />
<line x1="259.40" y1="311.84" x2="266.40" y2="311.84" stroke="#111" stroke-width="1.00" />
<text x="253.60" y="315.44" font-size="10.00" text-anchor="end" font-weight="normal" font-style="normal" fill="#000" >0.05</text>
<line x1="262.90" y1="287.10" x2="266.40" y2="287.10" stroke="#111" stroke-width="1.00" />
<line x1="259.40" y1="262.37" x2="266.40" y2="262.37" stroke="#111" stroke-width="1.00" />
<text x="253.60" y="265.97" font-size="10.00" text-anchor="end" font-weight="normal" font-style="normal" fill="#000" >0.10</text>
<line x1="262.90" y1="237.64" x2="266.40" y2="237.64" stroke="#111" stroke-width="1.00" />
<line x1="259.40" y1="212.91" x2="266.40" y2="212.91" stroke="#111" stroke-width="1.00" />
<text x="253.60" y="216.50" font-size="10.00" text-anchor="end" font-weight="normal" font-style="normal" fill="#000" >0.15</text>
<line x1="262.90" y1="188.17" x2="266.40" y2="188.17" stroke="#111" stroke-width="1.00" />
<line x1="259.40" y1="163.44" x2="266.40" y2="163.44" stroke="#111" stroke-width="1.00" />
<text x="253.60" y="167.04" font-size="10.00" text-anchor="end" font-weight="normal" font-style="normal" fill="#000" >0.20</text>
<line x1="262.90" y1="138.71" x2="266.40" y2="138.71" stroke="#111" stroke-width="1.00" />
<line x1="259.40" y1="113.98" x2="266.40" y2="113.98" stroke="#111" stroke-width="1.00" />
<text x="253.60" y="117.58" font-size="10.00" text-anchor="end" font-weight="normal" font-style="normal" fill="#000" >0.25</text>
<line x1="262.90" y1="89.24" x2="266.40" y2="89.24" stroke="#111" stroke-width="1.00" />
<line x1="259.40" y1="64.51" x2="266.40" y2="64.51" stroke="#111" stroke-width="1.00" />
<text x="253.60" y="68.11" font-size="10.00" text-anchor="end" font-weight="normal" font-style="normal" fill="#000" >0.30</text>
<line x1="262.90" y1="39.78" x2="266.40" y2="39.78" stroke="#111" stroke-width="1.00" />
<text x="253.60" y="18.65" font-size="10.00" text-anchor="end" font-weight="normal" font-style="normal" fill="#000" >0.35</text>
<line x1="266.40" y1="386.40" x2="266.40" y2="389.90" stroke="#111" stroke-width="1.00" />
<line x1="288.52" y1="386.40" x2="288.52" y2="393.40" stroke="#111" stroke-width="1.00" />
<text x="288.52" y="407.00" font-size="10.00" text-anchor="middle" font-weight="normal" font-style="normal" fill="#000" >1.78</text>
<line x1="310.65" y1="386.40" x2="310.65" y2="389.90" stroke="#111" stroke-width="1.00" />
<line x1="332.78" y1="386.40" x2="332.78" y2="393.40" stroke="#111" stroke-width="1.00" />
<text x="332.78" y="407.00" font-size="10.00" text-anchor="middle" font-weight="normal" font-style="normal" fill="#000" >1.80</text>
<line x1="354.90" y1="386.40" x2="354.90" y2="389.90" stroke="#111" stroke-width="1.00" />
<line x1="377.03" y1="386.40" x2="377.03" y2="393.40" stroke="#111" stroke-width="1.00" />
<text x="377.03" y="407.00" font-size="10.00" text-anchor="middle" font-weight="normal" font-style="normal" fill="#000" >1.82</text>
<line x1="399.15" y1="386.40" x2="399.15" y2="389.90" stroke="#111" stroke-width="1.00" />
<line x1="421.28" y1="386.40" x2="421.28" y2="393.40" stroke="#111" stroke-width="1.00" />
<text x="421.28" y="407.00" font-size="10.00" text-anchor="middle" font-weight="normal" font-style="normal" fill="#000" >1.84</text>
<line x1="443.40" y1="386.40" x2="443.40" y2="389.90" stroke="#111" stroke-width="1.00" />
<text x="353.60" y="422.30" font-size="10.20" text-anchor="middle" font-weight="normal" font-style="normal" fill="#000" textLength="89.6" lengthAdjust="spacingAndGlyphs" >Photon energy (eV)</text>
<text x="0" y="0" font-size="10.10" text-anchor="middle" fill="#000" transform="translate(223.70,203.50) rotate(-90)" textLength="141.6" lengthAdjust="spacingAndGlyphs" >Normalized reflectance contrast</text>
<text x="216.00" y="21.80" font-size="11.00" text-anchor="start" font-weight="bold" font-style="normal" fill="#222" >c</text>
<text x="273.40" y="31.80" font-size="10.30" text-anchor="start" font-weight="normal" font-style="normal" fill="#000" textLength="23.6" lengthAdjust="spacingAndGlyphs" ><tspan style="font-family:'Liberation Serif'" font-size="11">ν</tspan> = 3</text>
<text x="432.60" y="29.80" font-size="10.30" text-anchor="end" font-weight="normal" font-style="normal" fill="#000" textLength="41.6" lengthAdjust="spacingAndGlyphs" ><tspan font-style="italic">E</tspan> (V/nm)</text>
<text x="410.30" y="57.00" font-size="10.00" text-anchor="start" font-weight="normal" font-style="normal" fill="#000" >0.24</text>
<text x="410.30" y="96.57" font-size="10.00" text-anchor="start" font-weight="normal" font-style="normal" fill="#000" >0.20</text>
<text x="410.30" y="136.14" font-size="10.00" text-anchor="start" font-weight="normal" font-style="normal" fill="#000" >0.16</text>
<text x="410.30" y="175.71" font-size="10.00" text-anchor="start" font-weight="normal" font-style="normal" fill="#000" >0.14</text>
<text x="410.30" y="215.28" font-size="10.00" text-anchor="start" font-weight="normal" font-style="normal" fill="#000" >0.12</text>
<text x="410.30" y="254.85" font-size="10.00" text-anchor="start" font-weight="normal" font-style="normal" fill="#000" >0.08</text>
<text x="410.30" y="294.42" font-size="10.00" text-anchor="start" font-weight="normal" font-style="normal" fill="#000" >0.04</text>
<text x="410.30" y="333.99" font-size="10.00" text-anchor="start" font-weight="normal" font-style="normal" fill="#000" >0</text>
<text x="410.30" y="373.56" font-size="10.00" text-anchor="start" font-weight="normal" font-style="normal" fill="#000" >-0.04</text>
<g fill="#ff3d3d"><circle cx="504.1" cy="77.1" r="2.6"/><circle cx="505.3" cy="74.8" r="2.6"/><circle cx="504.7" cy="70.0" r="2.6"/><circle cx="506.5" cy="67.7" r="2.6"/><circle cx="508.2" cy="64.2" r="2.6"/><circle cx="510.0" cy="65.3" r="2.6"/><circle cx="511.2" cy="61.8" r="2.6"/><circle cx="511.8" cy="57.7" r="2.6"/><circle cx="513.0" cy="55.3" r="2.6"/><circle cx="514.7" cy="58.3" r="2.6"/><circle cx="516.5" cy="53.6" r="2.6"/><circle cx="517.1" cy="50.6" r="2.6"/><circle cx="518.8" cy="52.4" r="2.6"/><circle cx="518.3" cy="56.5" r="2.6"/><circle cx="520.6" cy="44.7" r="2.6"/><circle cx="521.8" cy="53.6" r="2.6"/><circle cx="523.6" cy="55.3" r="2.6"/><circle cx="524.7" cy="53.0" r="2.6"/><circle cx="526.5" cy="46.5" r="2.6"/><circle cx="527.7" cy="50.0" r="2.6"/><circle cx="529.4" cy="45.3" r="2.6"/><circle cx="530.0" cy="53.6" r="2.6"/><circle cx="531.8" cy="50.0" r="2.6"/><circle cx="533.0" cy="44.1" r="2.6"/><circle cx="533.6" cy="53.0" r="2.6"/><circle cx="535.3" cy="41.8" r="2.6"/><circle cx="537.7" cy="50.6" r="2.6"/><circle cx="537.7" cy="39.4" r="2.6"/><circle cx="540.0" cy="38.2" r="2.6"/><circle cx="542.4" cy="38.2" r="2.6"/><circle cx="544.2" cy="37.1" r="2.6"/><circle cx="504.0" cy="78.0" r="2.6"/><circle cx="505.0" cy="75.0" r="2.6"/><circle cx="506.0" cy="73.0" r="2.6"/><circle cx="508.0" cy="68.0" r="2.6"/><circle cx="509.0" cy="65.0" r="2.6"/><circle cx="511.0" cy="62.0" r="2.6"/><circle cx="512.0" cy="59.0" r="2.6"/><circle cx="513.0" cy="57.0" r="2.6"/><circle cx="515.0" cy="55.0" r="2.6"/><circle cx="516.0" cy="53.0" r="2.6"/><circle cx="517.0" cy="51.0" r="2.6"/><circle cx="518.0" cy="55.0" r="2.6"/><circle cx="520.0" cy="52.0" r="2.6"/><circle cx="521.0" cy="45.0" r="2.6"/><circle cx="522.0" cy="54.0" r="2.6"/><circle cx="524.0" cy="51.0" r="2.6"/><circle cx="525.0" cy="48.0" r="2.6"/><circle cx="526.0" cy="45.0" r="2.6"/><circle cx="528.0" cy="44.0" r="2.6"/><circle cx="529.0" cy="50.0" r="2.6"/><circle cx="530.0" cy="47.0" r="2.6"/><circle cx="531.0" cy="45.0" r="2.6"/><circle cx="532.0" cy="51.0" r="2.6"/><circle cx="533.0" cy="49.0" r="2.6"/><circle cx="535.0" cy="47.0" r="2.6"/><circle cx="536.0" cy="44.0" r="2.6"/><circle cx="537.0" cy="41.0" r="2.6"/><circle cx="538.0" cy="39.0" r="2.6"/><circle cx="539.0" cy="42.0" r="2.6"/><circle cx="540.0" cy="40.0" r="2.6"/><circle cx="542.0" cy="39.0" r="2.6"/><circle cx="543.0" cy="42.0" r="2.6"/><circle cx="544.0" cy="38.0" r="2.6"/><circle cx="546.0" cy="38.0" r="2.6"/><circle cx="548.0" cy="38.0" r="2.6"/><circle cx="549.0" cy="44.0" r="2.6"/><circle cx="550.0" cy="39.0" r="2.6"/><circle cx="551.0" cy="41.0" r="2.6"/><circle cx="552.0" cy="38.0" r="2.6"/><circle cx="553.0" cy="45.0" r="2.6"/><circle cx="554.0" cy="49.0" r="2.6"/><circle cx="555.0" cy="46.0" r="2.6"/><circle cx="556.0" cy="50.0" r="2.6"/><circle cx="558.0" cy="39.0" r="2.6"/><circle cx="560.0" cy="39.0" r="2.6"/><circle cx="562.0" cy="39.0" r="2.6"/><circle cx="563.0" cy="44.0" r="2.6"/><circle cx="564.0" cy="47.0" r="2.6"/><circle cx="565.0" cy="50.0" r="2.6"/><circle cx="566.0" cy="45.0" r="2.6"/><circle cx="568.0" cy="53.0" r="2.6"/><circle cx="569.0" cy="51.0" r="2.6"/><circle cx="571.0" cy="57.0" r="2.6"/><circle cx="572.0" cy="59.0" r="2.6"/><circle cx="574.0" cy="61.0" r="2.6"/><circle cx="575.0" cy="63.0" r="2.6"/><circle cx="576.0" cy="66.0" r="2.6"/><circle cx="578.0" cy="68.0" r="2.6"/><circle cx="579.0" cy="73.0" r="2.6"/><circle cx="580.0" cy="78.0" r="2.6"/><circle cx="571.0" cy="57.0" r="2.6"/><circle cx="573.0" cy="60.0" r="2.6"/><circle cx="576.0" cy="63.0" r="2.6"/><circle cx="574.0" cy="66.0" r="2.6"/><circle cx="578.0" cy="68.0" r="2.6"/><circle cx="579.0" cy="73.0" r="2.6"/><circle cx="581.0" cy="74.0" r="2.6"/><circle cx="580.0" cy="78.0" r="2.6"/><circle cx="582.0" cy="81.0" r="2.6"/><circle cx="584.0" cy="82.0" r="2.6"/><circle cx="583.0" cy="85.0" r="2.6"/><circle cx="586.0" cy="96.0" r="2.6"/><circle cx="588.0" cy="105.0" r="2.6"/><circle cx="589.0" cy="108.0" r="2.6"/><circle cx="587.6" cy="104.7" r="2.6"/><circle cx="588.7" cy="107.8" r="2.6"/><circle cx="589.7" cy="115.5" r="2.6"/><circle cx="590.7" cy="120.7" r="2.6"/><circle cx="592.0" cy="126.0" r="2.6"/><circle cx="592.8" cy="129.8" r="2.6"/><circle cx="594.0" cy="136.3" r="2.6"/><circle cx="595.9" cy="144.0" r="2.6"/><circle cx="597.2" cy="153.1" r="2.6"/><circle cx="598.5" cy="154.4" r="2.6"/><circle cx="599.8" cy="156.5" r="2.6"/><circle cx="601.0" cy="164.8" r="2.6"/><circle cx="602.4" cy="167.9" r="2.6"/><circle cx="603.7" cy="172.5" r="2.6"/><circle cx="606.3" cy="175.6" r="2.6"/><circle cx="608.3" cy="182.9" r="2.6"/><circle cx="610.2" cy="185.5" r="2.6"/><circle cx="611.5" cy="189.4" r="2.6"/><circle cx="612.7" cy="192.0" r="2.6"/><circle cx="615.3" cy="186.8" r="2.6"/><circle cx="617.9" cy="189.4" r="2.6"/><circle cx="620.5" cy="190.7" r="2.6"/><circle cx="621.8" cy="194.6" r="2.6"/><circle cx="624.4" cy="188.1" r="2.6"/><circle cx="625.7" cy="195.9" r="2.6"/><circle cx="628.3" cy="189.4" r="2.6"/><circle cx="630.9" cy="188.1" r="2.6"/><circle cx="632.2" cy="193.3" r="2.6"/><circle cx="633.5" cy="198.4" r="2.6"/><circle cx="636.0" cy="190.7" r="2.6"/><circle cx="637.9" cy="185.5" r="2.6"/><circle cx="640.0" cy="193.3" r="2.6"/><circle cx="642.5" cy="197.2" r="2.6"/><circle cx="645.1" cy="194.6" r="2.6"/><circle cx="649.0" cy="195.3" r="2.6"/><circle cx="507.0" cy="71.0" r="2.6"/><circle cx="510.0" cy="63.0" r="2.6"/><circle cx="514.0" cy="58.0" r="2.6"/><circle cx="519.0" cy="50.0" r="2.6"/><circle cx="523.0" cy="47.0" r="2.6"/><circle cx="527.0" cy="48.0" r="2.6"/><circle cx="534.0" cy="44.0" r="2.6"/><circle cx="541.0" cy="42.0" r="2.6"/><circle cx="545.0" cy="40.0" r="2.6"/><circle cx="547.0" cy="41.0" r="2.6"/><circle cx="557.0" cy="42.0" r="2.6"/><circle cx="561.0" cy="41.0" r="2.6"/><circle cx="567.0" cy="49.0" r="2.6"/><circle cx="570.0" cy="55.0" r="2.6"/><circle cx="577.0" cy="64.0" r="2.6"/><circle cx="607.0" cy="180.0" r="2.6"/><circle cx="609.0" cy="188.0" r="2.6"/><circle cx="613.0" cy="190.0" r="2.6"/><circle cx="619.0" cy="193.0" r="2.6"/><circle cx="623.0" cy="192.0" r="2.6"/><circle cx="627.0" cy="194.0" r="2.6"/><circle cx="635.0" cy="195.0" r="2.6"/><circle cx="639.0" cy="196.0" r="2.6"/><circle cx="644.0" cy="192.0" r="2.6"/><circle cx="647.0" cy="197.0" r="2.6"/><circle cx="645.5" cy="198.2" r="2.6"/><circle cx="648.6" cy="197.6" r="2.6"/><circle cx="641.5" cy="199.5" r="2.6"/></g>
<g fill="#55bcfa"><rect x="501.9" y="232.9" width="4.2" height="4.2"/><rect x="502.9" y="229.9" width="4.2" height="4.2"/><rect x="503.9" y="223.9" width="4.2" height="4.2"/><rect x="505.9" y="222.9" width="4.2" height="4.2"/><rect x="506.9" y="226.9" width="4.2" height="4.2"/><rect x="508.9" y="230.9" width="4.2" height="4.2"/><rect x="509.9" y="225.9" width="4.2" height="4.2"/><rect x="511.9" y="221.9" width="4.2" height="4.2"/><rect x="512.9" y="231.9" width="4.2" height="4.2"/><rect x="513.9" y="224.9" width="4.2" height="4.2"/><rect x="514.9" y="227.9" width="4.2" height="4.2"/><rect x="516.9" y="235.9" width="4.2" height="4.2"/><rect x="517.9" y="225.9" width="4.2" height="4.2"/><rect x="519.9" y="228.9" width="4.2" height="4.2"/><rect x="520.9" y="226.9" width="4.2" height="4.2"/><rect x="523.9" y="231.9" width="4.2" height="4.2"/><rect x="524.9" y="236.9" width="4.2" height="4.2"/><rect x="525.9" y="238.9" width="4.2" height="4.2"/><rect x="526.9" y="228.9" width="4.2" height="4.2"/><rect x="527.9" y="232.9" width="4.2" height="4.2"/><rect x="528.9" y="244.9" width="4.2" height="4.2"/><rect x="529.9" y="228.9" width="4.2" height="4.2"/><rect x="530.9" y="220.9" width="4.2" height="4.2"/><rect x="531.9" y="240.9" width="4.2" height="4.2"/><rect x="532.9" y="233.9" width="4.2" height="4.2"/><rect x="533.9" y="223.9" width="4.2" height="4.2"/><rect x="534.9" y="234.9" width="4.2" height="4.2"/><rect x="536.9" y="232.9" width="4.2" height="4.2"/><rect x="538.9" y="236.9" width="4.2" height="4.2"/><rect x="539.9" y="241.9" width="4.2" height="4.2"/><rect x="540.9" y="237.9" width="4.2" height="4.2"/><rect x="542.9" y="245.9" width="4.2" height="4.2"/><rect x="544.9" y="247.9" width="4.2" height="4.2"/><rect x="546.9" y="239.9" width="4.2" height="4.2"/><rect x="547.9" y="251.9" width="4.2" height="4.2"/><rect x="549.9" y="253.9" width="4.2" height="4.2"/><rect x="552.9" y="248.9" width="4.2" height="4.2"/><rect x="555.9" y="252.9" width="4.2" height="4.2"/><rect x="549.9" y="260.9" width="4.2" height="4.2"/><rect x="551.9" y="261.9" width="4.2" height="4.2"/><rect x="554.9" y="260.9" width="4.2" height="4.2"/><rect x="557.9" y="264.9" width="4.2" height="4.2"/><rect x="558.9" y="269.9" width="4.2" height="4.2"/><rect x="559.9" y="273.9" width="4.2" height="4.2"/><rect x="560.9" y="279.9" width="4.2" height="4.2"/><rect x="563.9" y="285.9" width="4.2" height="4.2"/><rect x="557.8" y="270.7" width="4.2" height="4.2"/><rect x="559.2" y="273.5" width="4.2" height="4.2"/><rect x="560.6" y="279.2" width="4.2" height="4.2"/><rect x="562.0" y="287.7" width="4.2" height="4.2"/><rect x="563.4" y="289.1" width="4.2" height="4.2"/><rect x="564.9" y="286.3" width="4.2" height="4.2"/><rect x="567.7" y="294.7" width="4.2" height="4.2"/><rect x="567.7" y="306.0" width="4.2" height="4.2"/><rect x="569.1" y="313.1" width="4.2" height="4.2"/><rect x="570.5" y="318.7" width="4.2" height="4.2"/><rect x="571.9" y="327.2" width="4.2" height="4.2"/><rect x="573.3" y="330.0" width="4.2" height="4.2"/><rect x="574.7" y="337.1" width="4.2" height="4.2"/><rect x="576.1" y="341.3" width="4.2" height="4.2"/><rect x="577.6" y="347.0" width="4.2" height="4.2"/><rect x="579.0" y="352.6" width="4.2" height="4.2"/><rect x="580.4" y="355.5" width="4.2" height="4.2"/><rect x="583.2" y="358.3" width="4.2" height="4.2"/><rect x="584.6" y="363.9" width="4.2" height="4.2"/><rect x="587.4" y="362.5" width="4.2" height="4.2"/><rect x="590.3" y="365.4" width="4.2" height="4.2"/><rect x="591.7" y="358.3" width="4.2" height="4.2"/><rect x="594.5" y="375.2" width="4.2" height="4.2"/><rect x="597.3" y="371.0" width="4.2" height="4.2"/><rect x="600.2" y="361.1" width="4.2" height="4.2"/><rect x="601.6" y="373.8" width="4.2" height="4.2"/><rect x="604.4" y="363.9" width="4.2" height="4.2"/><rect x="607.2" y="369.6" width="4.2" height="4.2"/><rect x="610.0" y="365.4" width="4.2" height="4.2"/><rect x="612.9" y="372.4" width="4.2" height="4.2"/><rect x="614.3" y="366.8" width="4.2" height="4.2"/><rect x="617.1" y="376.7" width="4.2" height="4.2"/><rect x="618.5" y="373.8" width="4.2" height="4.2"/><rect x="621.3" y="378.1" width="4.2" height="4.2"/><rect x="624.2" y="372.4" width="4.2" height="4.2"/><rect x="628.4" y="371.0" width="4.2" height="4.2"/><rect x="629.8" y="378.1" width="4.2" height="4.2"/><rect x="631.2" y="382.3" width="4.2" height="4.2"/><rect x="632.6" y="375.2" width="4.2" height="4.2"/><rect x="504.9" y="228.9" width="4.2" height="4.2"/><rect x="507.9" y="226.9" width="4.2" height="4.2"/><rect x="510.9" y="229.9" width="4.2" height="4.2"/><rect x="515.9" y="229.9" width="4.2" height="4.2"/><rect x="521.9" y="230.9" width="4.2" height="4.2"/><rect x="535.9" y="237.9" width="4.2" height="4.2"/><rect x="541.9" y="242.9" width="4.2" height="4.2"/><rect x="545.9" y="249.9" width="4.2" height="4.2"/><rect x="553.9" y="255.9" width="4.2" height="4.2"/><rect x="565.9" y="297.9" width="4.2" height="4.2"/><rect x="570.9" y="322.9" width="4.2" height="4.2"/><rect x="574.9" y="334.9" width="4.2" height="4.2"/><rect x="577.9" y="347.9" width="4.2" height="4.2"/><rect x="581.9" y="359.9" width="4.2" height="4.2"/><rect x="585.9" y="365.9" width="4.2" height="4.2"/><rect x="588.9" y="367.9" width="4.2" height="4.2"/><rect x="592.9" y="369.9" width="4.2" height="4.2"/><rect x="595.9" y="366.9" width="4.2" height="4.2"/><rect x="598.9" y="373.9" width="4.2" height="4.2"/><rect x="602.9" y="369.9" width="4.2" height="4.2"/><rect x="605.9" y="372.9" width="4.2" height="4.2"/><rect x="608.9" y="369.9" width="4.2" height="4.2"/><rect x="611.9" y="374.9" width="4.2" height="4.2"/><rect x="615.9" y="370.9" width="4.2" height="4.2"/><rect x="619.9" y="373.9" width="4.2" height="4.2"/><rect x="622.9" y="376.9" width="4.2" height="4.2"/><rect x="625.9" y="374.9" width="4.2" height="4.2"/><rect x="626.9" y="369.9" width="4.2" height="4.2"/><rect x="630.9" y="377.9" width="4.2" height="4.2"/></g>
<path d="M503.00,74.80 C503.67,73.90 505.65,71.33 507.00,69.40 C508.35,67.47 509.65,65.13 511.10,63.20 C512.55,61.27 514.05,59.57 515.70,57.80 C517.35,56.03 519.18,53.80 521.00,52.60 C522.82,51.40 524.77,51.48 526.60,50.60 C528.43,49.72 530.13,48.43 532.00,47.30 C533.87,46.17 535.65,44.87 537.80,43.80 C539.95,42.73 542.88,41.32 544.90,40.90 C546.92,40.48 547.90,40.82 549.90,41.30 C551.90,41.78 554.78,42.87 556.90,43.80 C559.02,44.73 560.77,45.50 562.60,46.90 C564.43,48.30 566.32,50.48 567.90,52.20 C569.48,53.92 570.42,54.73 572.10,57.20 C573.78,59.67 576.18,63.37 578.00,67.00 C579.82,70.63 581.58,74.83 583.00,79.00 C584.42,83.17 585.50,87.50 586.50,92.00 C587.50,96.50 587.65,98.62 589.00,106.00 C590.35,113.38 592.60,126.50 594.60,136.30 C596.60,146.10 598.62,156.60 601.00,164.80 C603.38,173.00 605.87,181.18 608.90,185.50 C611.93,189.82 614.88,189.50 619.20,190.70 C623.52,191.90 629.83,192.05 634.80,192.70 C639.77,193.35 646.63,194.28 649.00,194.60" stroke="#111" stroke-width="1.25" fill="none" stroke-linejoin="round" stroke-dasharray="6.2,5.2"/>
<path d="M503.50,231.20 C504.53,231.08 507.50,230.32 509.70,230.50 C511.90,230.68 514.20,231.65 516.70,232.30 C519.20,232.95 522.33,233.82 524.70,234.40 C527.07,234.98 528.70,235.22 530.90,235.80 C533.10,236.38 536.00,236.95 537.90,237.90 C539.80,238.85 540.53,239.88 542.30,241.50 C544.07,243.12 547.02,245.98 548.50,247.60 C549.98,249.22 550.17,249.43 551.20,251.20 C552.23,252.97 553.53,255.85 554.70,258.20 C555.87,260.55 557.17,263.08 558.20,265.30 C559.23,267.52 560.17,269.32 560.90,271.50 C561.63,273.68 561.87,276.05 562.60,278.40 C563.33,280.75 564.32,282.33 565.30,285.60 C566.28,288.87 567.28,292.13 568.50,298.00 C569.72,303.87 570.98,313.23 572.60,320.80 C574.22,328.37 576.32,336.80 578.20,343.40 C580.08,350.00 581.53,356.15 583.90,360.40 C586.27,364.65 588.63,366.78 592.40,368.90 C596.17,371.02 601.80,372.07 606.50,373.10 C611.20,374.13 615.90,374.30 620.60,375.10 C625.30,375.90 632.35,377.43 634.70,377.90" stroke="#111" stroke-width="1.25" fill="none" stroke-linejoin="round" stroke-dasharray="6.2,5.2"/>
<path d="M503.20,192.00 C504.82,192.10 508.80,192.42 512.90,192.60 C517.00,192.78 522.83,193.02 527.80,193.10 C532.77,193.18 537.73,193.15 542.70,193.10 C547.67,193.05 552.65,192.93 557.60,192.80 C562.55,192.67 568.43,192.50 572.40,192.30 C576.37,192.10 578.72,191.90 581.40,191.60 C584.08,191.30 586.40,191.10 588.50,190.50 C590.60,189.90 592.42,188.95 594.00,188.00 C595.58,187.05 596.78,186.55 598.00,184.80 C599.22,183.05 600.38,180.30 601.30,177.50 C602.22,174.70 602.83,171.58 603.50,168.00 C604.17,164.42 604.65,160.50 605.30,156.00 C605.95,151.50 606.72,146.33 607.40,141.00 C608.08,135.67 608.80,130.17 609.40,124.00 C610.00,117.83 610.53,111.67 611.00,104.00 C611.47,96.33 611.85,87.00 612.20,78.00 C612.55,69.00 612.83,58.73 613.10,50.00 C613.37,41.27 613.68,29.67 613.80,25.60" stroke="#111" stroke-width="1.00" fill="none" stroke-linejoin="round" />
<path d="M503.60,377.40 C508.00,377.42 522.27,377.52 530.00,377.50 C537.73,377.48 544.32,377.57 550.00,377.30 C555.68,377.03 560.33,376.83 564.10,375.90 C567.87,374.97 570.48,373.35 572.60,371.70 C574.72,370.05 575.62,368.35 576.80,366.00 C577.98,363.65 578.75,361.37 579.70,357.60 C580.65,353.83 581.57,349.53 582.50,343.40 C583.43,337.27 584.37,328.33 585.30,320.80 C586.23,313.27 587.15,305.25 588.10,298.20 C589.05,291.15 590.10,284.03 591.00,278.50 C591.90,272.97 592.58,270.08 593.50,265.00 C594.42,259.92 595.52,253.93 596.50,248.00 C597.48,242.07 598.63,234.90 599.40,229.40 C600.17,223.90 600.68,218.53 601.10,215.00 C601.52,211.47 601.77,209.33 601.90,208.20" stroke="#111" stroke-width="1.00" fill="none" stroke-linejoin="round" />
<line x1="617.30" y1="53.60" x2="626.20" y2="53.60" stroke="#111" stroke-width="1.10" />
<path d="M630.2,53.6 L625.2,51.6 L625.2,55.6 Z" fill="#111"/>
<line x1="608.80" y1="222.60" x2="617.40" y2="222.60" stroke="#111" stroke-width="1.10" />
<path d="M621.4,222.6 L616.4,220.6 L616.4,224.6 Z" fill="#111"/>
<line x1="500.10" y1="25.60" x2="650.50" y2="25.60" stroke="#222" stroke-width="1.10" />
<line x1="500.10" y1="208.20" x2="650.50" y2="208.20" stroke="#222" stroke-width="1.10" />
<line x1="500.10" y1="390.40" x2="650.50" y2="390.40" stroke="#222" stroke-width="1.10" />
<line x1="500.10" y1="25.10" x2="500.10" y2="390.90" stroke="#222" stroke-width="1.10" />
<line x1="650.50" y1="25.10" x2="650.50" y2="390.90" stroke="#222" stroke-width="1.10" />
<line x1="495.30" y1="194.70" x2="500.10" y2="194.70" stroke="#222" stroke-width="1.00" />
<text x="491.80" y="198.30" font-size="10.00" text-anchor="end" font-weight="normal" font-style="normal" fill="#000" >0.00</text>
<line x1="497.50" y1="175.88" x2="500.10" y2="175.88" stroke="#222" stroke-width="1.00" />
<line x1="495.30" y1="157.05" x2="500.10" y2="157.05" stroke="#222" stroke-width="1.00" />
<text x="491.80" y="160.65" font-size="10.00" text-anchor="end" font-weight="normal" font-style="normal" fill="#000" >0.02</text>
<line x1="497.50" y1="138.22" x2="500.10" y2="138.22" stroke="#222" stroke-width="1.00" />
<line x1="495.30" y1="119.40" x2="500.10" y2="119.40" stroke="#222" stroke-width="1.00" />
<text x="491.80" y="123.00" font-size="10.00" text-anchor="end" font-weight="normal" font-style="normal" fill="#000" >0.04</text>
<line x1="497.50" y1="100.57" x2="500.10" y2="100.57" stroke="#222" stroke-width="1.00" />
<line x1="495.30" y1="81.75" x2="500.10" y2="81.75" stroke="#222" stroke-width="1.00" />
<text x="491.80" y="85.35" font-size="10.00" text-anchor="end" font-weight="normal" font-style="normal" fill="#000" >0.06</text>
<line x1="497.50" y1="62.92" x2="500.10" y2="62.92" stroke="#222" stroke-width="1.00" />
<line x1="495.30" y1="44.10" x2="500.10" y2="44.10" stroke="#222" stroke-width="1.00" />
<text x="491.80" y="47.70" font-size="10.00" text-anchor="end" font-weight="normal" font-style="normal" fill="#000" >0.08</text>
<line x1="495.30" y1="379.60" x2="500.10" y2="379.60" stroke="#222" stroke-width="1.00" />
<text x="491.80" y="383.20" font-size="10.00" text-anchor="end" font-weight="normal" font-style="normal" fill="#000" >0.00</text>
<line x1="497.50" y1="361.55" x2="500.10" y2="361.55" stroke="#222" stroke-width="1.00" />
<line x1="495.30" y1="343.50" x2="500.10" y2="343.50" stroke="#222" stroke-width="1.00" />
<text x="491.80" y="347.10" font-size="10.00" text-anchor="end" font-weight="normal" font-style="normal" fill="#000" >0.01</text>
<line x1="497.50" y1="325.45" x2="500.10" y2="325.45" stroke="#222" stroke-width="1.00" />
<line x1="495.30" y1="307.40" x2="500.10" y2="307.40" stroke="#222" stroke-width="1.00" />
<text x="491.80" y="311.00" font-size="10.00" text-anchor="end" font-weight="normal" font-style="normal" fill="#000" >0.02</text>
<line x1="497.50" y1="289.35" x2="500.10" y2="289.35" stroke="#222" stroke-width="1.00" />
<line x1="495.30" y1="271.30" x2="500.10" y2="271.30" stroke="#222" stroke-width="1.00" />
<text x="491.80" y="274.90" font-size="10.00" text-anchor="end" font-weight="normal" font-style="normal" fill="#000" >0.03</text>
<line x1="497.50" y1="253.25" x2="500.10" y2="253.25" stroke="#222" stroke-width="1.00" />
<line x1="495.30" y1="235.20" x2="500.10" y2="235.20" stroke="#222" stroke-width="1.00" />
<text x="491.80" y="238.80" font-size="10.00" text-anchor="end" font-weight="normal" font-style="normal" fill="#000" >0.04</text>
<line x1="497.50" y1="217.15" x2="500.10" y2="217.15" stroke="#222" stroke-width="1.00" />
<line x1="650.50" y1="194.20" x2="654.50" y2="194.20" stroke="#222" stroke-width="1.00" />
<text x="657.80" y="197.80" font-size="10.00" text-anchor="start" font-weight="normal" font-style="normal" fill="#000" >0</text>
<line x1="650.50" y1="175.44" x2="652.70" y2="175.44" stroke="#222" stroke-width="1.00" />
<line x1="650.50" y1="156.68" x2="654.50" y2="156.68" stroke="#222" stroke-width="1.00" />
<text x="657.80" y="160.28" font-size="10.00" text-anchor="start" font-weight="normal" font-style="normal" fill="#000" >20</text>
<line x1="650.50" y1="137.92" x2="652.70" y2="137.92" stroke="#222" stroke-width="1.00" />
<line x1="650.50" y1="119.16" x2="654.50" y2="119.16" stroke="#222" stroke-width="1.00" />
<text x="657.80" y="122.76" font-size="10.00" text-anchor="start" font-weight="normal" font-style="normal" fill="#000" >40</text>
<line x1="650.50" y1="100.40" x2="652.70" y2="100.40" stroke="#222" stroke-width="1.00" />
<line x1="650.50" y1="81.64" x2="654.50" y2="81.64" stroke="#222" stroke-width="1.00" />
<text x="657.80" y="85.24" font-size="10.00" text-anchor="start" font-weight="normal" font-style="normal" fill="#000" >60</text>
<line x1="650.50" y1="62.88" x2="652.70" y2="62.88" stroke="#222" stroke-width="1.00" />
<line x1="650.50" y1="44.12" x2="654.50" y2="44.12" stroke="#222" stroke-width="1.00" />
<text x="657.80" y="47.72" font-size="10.00" text-anchor="start" font-weight="normal" font-style="normal" fill="#000" >80</text>
<line x1="650.50" y1="379.80" x2="654.50" y2="379.80" stroke="#222" stroke-width="1.00" />
<text x="657.80" y="383.40" font-size="10.00" text-anchor="start" font-weight="normal" font-style="normal" fill="#000" >0</text>
<line x1="650.50" y1="353.37" x2="652.70" y2="353.37" stroke="#222" stroke-width="1.00" />
<line x1="650.50" y1="326.94" x2="654.50" y2="326.94" stroke="#222" stroke-width="1.00" />
<text x="657.80" y="330.54" font-size="10.00" text-anchor="start" font-weight="normal" font-style="normal" fill="#000" >20</text>
<line x1="650.50" y1="300.51" x2="652.70" y2="300.51" stroke="#222" stroke-width="1.00" />
<line x1="650.50" y1="274.08" x2="654.50" y2="274.08" stroke="#222" stroke-width="1.00" />
<text x="657.80" y="277.68" font-size="10.00" text-anchor="start" font-weight="normal" font-style="normal" fill="#000" >40</text>
<line x1="650.50" y1="247.65" x2="652.70" y2="247.65" stroke="#222" stroke-width="1.00" />
<line x1="650.50" y1="221.22" x2="654.50" y2="221.22" stroke="#222" stroke-width="1.00" />
<text x="657.80" y="224.82" font-size="10.00" text-anchor="start" font-weight="normal" font-style="normal" fill="#000" >60</text>
<line x1="516.40" y1="390.40" x2="516.40" y2="392.60" stroke="#222" stroke-width="1.00" />
<line x1="516.40" y1="208.20" x2="516.40" y2="206.00" stroke="#222" stroke-width="1.00" />
<line x1="536.60" y1="390.40" x2="536.60" y2="394.60" stroke="#222" stroke-width="1.00" />
<line x1="536.60" y1="208.20" x2="536.60" y2="204.00" stroke="#222" stroke-width="1.00" />
<text x="536.60" y="406.60" font-size="10.00" text-anchor="middle" font-weight="normal" font-style="normal" fill="#000" >0.0</text>
<line x1="556.80" y1="390.40" x2="556.80" y2="392.60" stroke="#222" stroke-width="1.00" />
<line x1="556.80" y1="208.20" x2="556.80" y2="206.00" stroke="#222" stroke-width="1.00" />
<line x1="577.00" y1="390.40" x2="577.00" y2="394.60" stroke="#222" stroke-width="1.00" />
<line x1="577.00" y1="208.20" x2="577.00" y2="204.00" stroke="#222" stroke-width="1.00" />
<text x="577.00" y="406.60" font-size="10.00" text-anchor="middle" font-weight="normal" font-style="normal" fill="#000" >0.1</text>
<line x1="597.20" y1="390.40" x2="597.20" y2="392.60" stroke="#222" stroke-width="1.00" />
<line x1="597.20" y1="208.20" x2="597.20" y2="206.00" stroke="#222" stroke-width="1.00" />
<line x1="617.40" y1="390.40" x2="617.40" y2="394.60" stroke="#222" stroke-width="1.00" />
<line x1="617.40" y1="208.20" x2="617.40" y2="204.00" stroke="#222" stroke-width="1.00" />
<text x="617.40" y="406.60" font-size="10.00" text-anchor="middle" font-weight="normal" font-style="normal" fill="#000" >0.2</text>
<line x1="637.60" y1="390.40" x2="637.60" y2="392.60" stroke="#222" stroke-width="1.00" />
<line x1="637.60" y1="208.20" x2="637.60" y2="206.00" stroke="#222" stroke-width="1.00" />
<line x1="509.60" y1="25.60" x2="509.60" y2="29.80" stroke="#222" stroke-width="1.00" />
<text x="509.60" y="21.60" font-size="10.00" text-anchor="middle" font-weight="normal" font-style="normal" fill="#000" >80</text>
<line x1="536.52" y1="25.60" x2="536.52" y2="28.00" stroke="#222" stroke-width="1.00" />
<line x1="563.45" y1="25.60" x2="563.45" y2="29.80" stroke="#222" stroke-width="1.00" />
<text x="563.45" y="21.60" font-size="10.00" text-anchor="middle" font-weight="normal" font-style="normal" fill="#000" >120</text>
<line x1="590.38" y1="25.60" x2="590.38" y2="28.00" stroke="#222" stroke-width="1.00" />
<line x1="617.30" y1="25.60" x2="617.30" y2="29.80" stroke="#222" stroke-width="1.00" />
<text x="617.30" y="21.60" font-size="10.00" text-anchor="middle" font-weight="normal" font-style="normal" fill="#000" >160</text>
<line x1="644.22" y1="25.60" x2="644.22" y2="28.00" stroke="#222" stroke-width="1.00" />
<text x="554.00" y="7.70" font-size="10.00" text-anchor="start" font-weight="normal" font-style="normal" fill="#000" >Δ<tspan font-size="9" dy="2.5">C</tspan><tspan dy="-2.5"> (meV)</tspan></text>
<text x="575.10" y="421.50" font-size="10.20" text-anchor="middle" font-weight="normal" font-style="normal" fill="#000" textLength="42.0" lengthAdjust="spacingAndGlyphs" ><tspan font-style="italic">E</tspan> (V/nm)</text>
<text x="459.30" y="21.90" font-size="11.00" text-anchor="start" font-weight="bold" font-style="normal" fill="#222" >d</text>
<text x="512.70" y="186.60" font-size="10.60" text-anchor="start" font-weight="normal" font-style="normal" fill="#000" style="font-family:Liberation Serif" textLength="22.6" lengthAdjust="spacingAndGlyphs" >ν = 3</text>
<text x="513.20" y="372.40" font-size="10.60" text-anchor="start" font-weight="normal" font-style="normal" fill="#000" style="font-family:Liberation Serif" textLength="31.8" lengthAdjust="spacingAndGlyphs" >ν = 7/3</text>
<text x="0" y="0" font-size="10.40" text-anchor="middle" fill="#000" transform="translate(464.30,207.40) rotate(-90)" textLength="93.3" lengthAdjust="spacingAndGlyphs" >2s spectral weight <tspan font-style="italic">S</tspan></text>
<text x="0" y="0" font-size="10.30" text-anchor="middle" fill="#000" transform="translate(684.60,205.70) rotate(-90)" textLength="138.8" lengthAdjust="spacingAndGlyphs" >Normalized dielectric constant</text>
<text x="0" y="0" font-size="10.00" text-anchor="middle" fill="#000" transform="translate(685.30,128.20) rotate(-90)" ><tspan font-style="italic">ε</tspan></text>
<line x1="677.30" y1="126.20" x2="677.30" y2="130.00" stroke="#333" stroke-width="0.90" />
</svg></body></html>
